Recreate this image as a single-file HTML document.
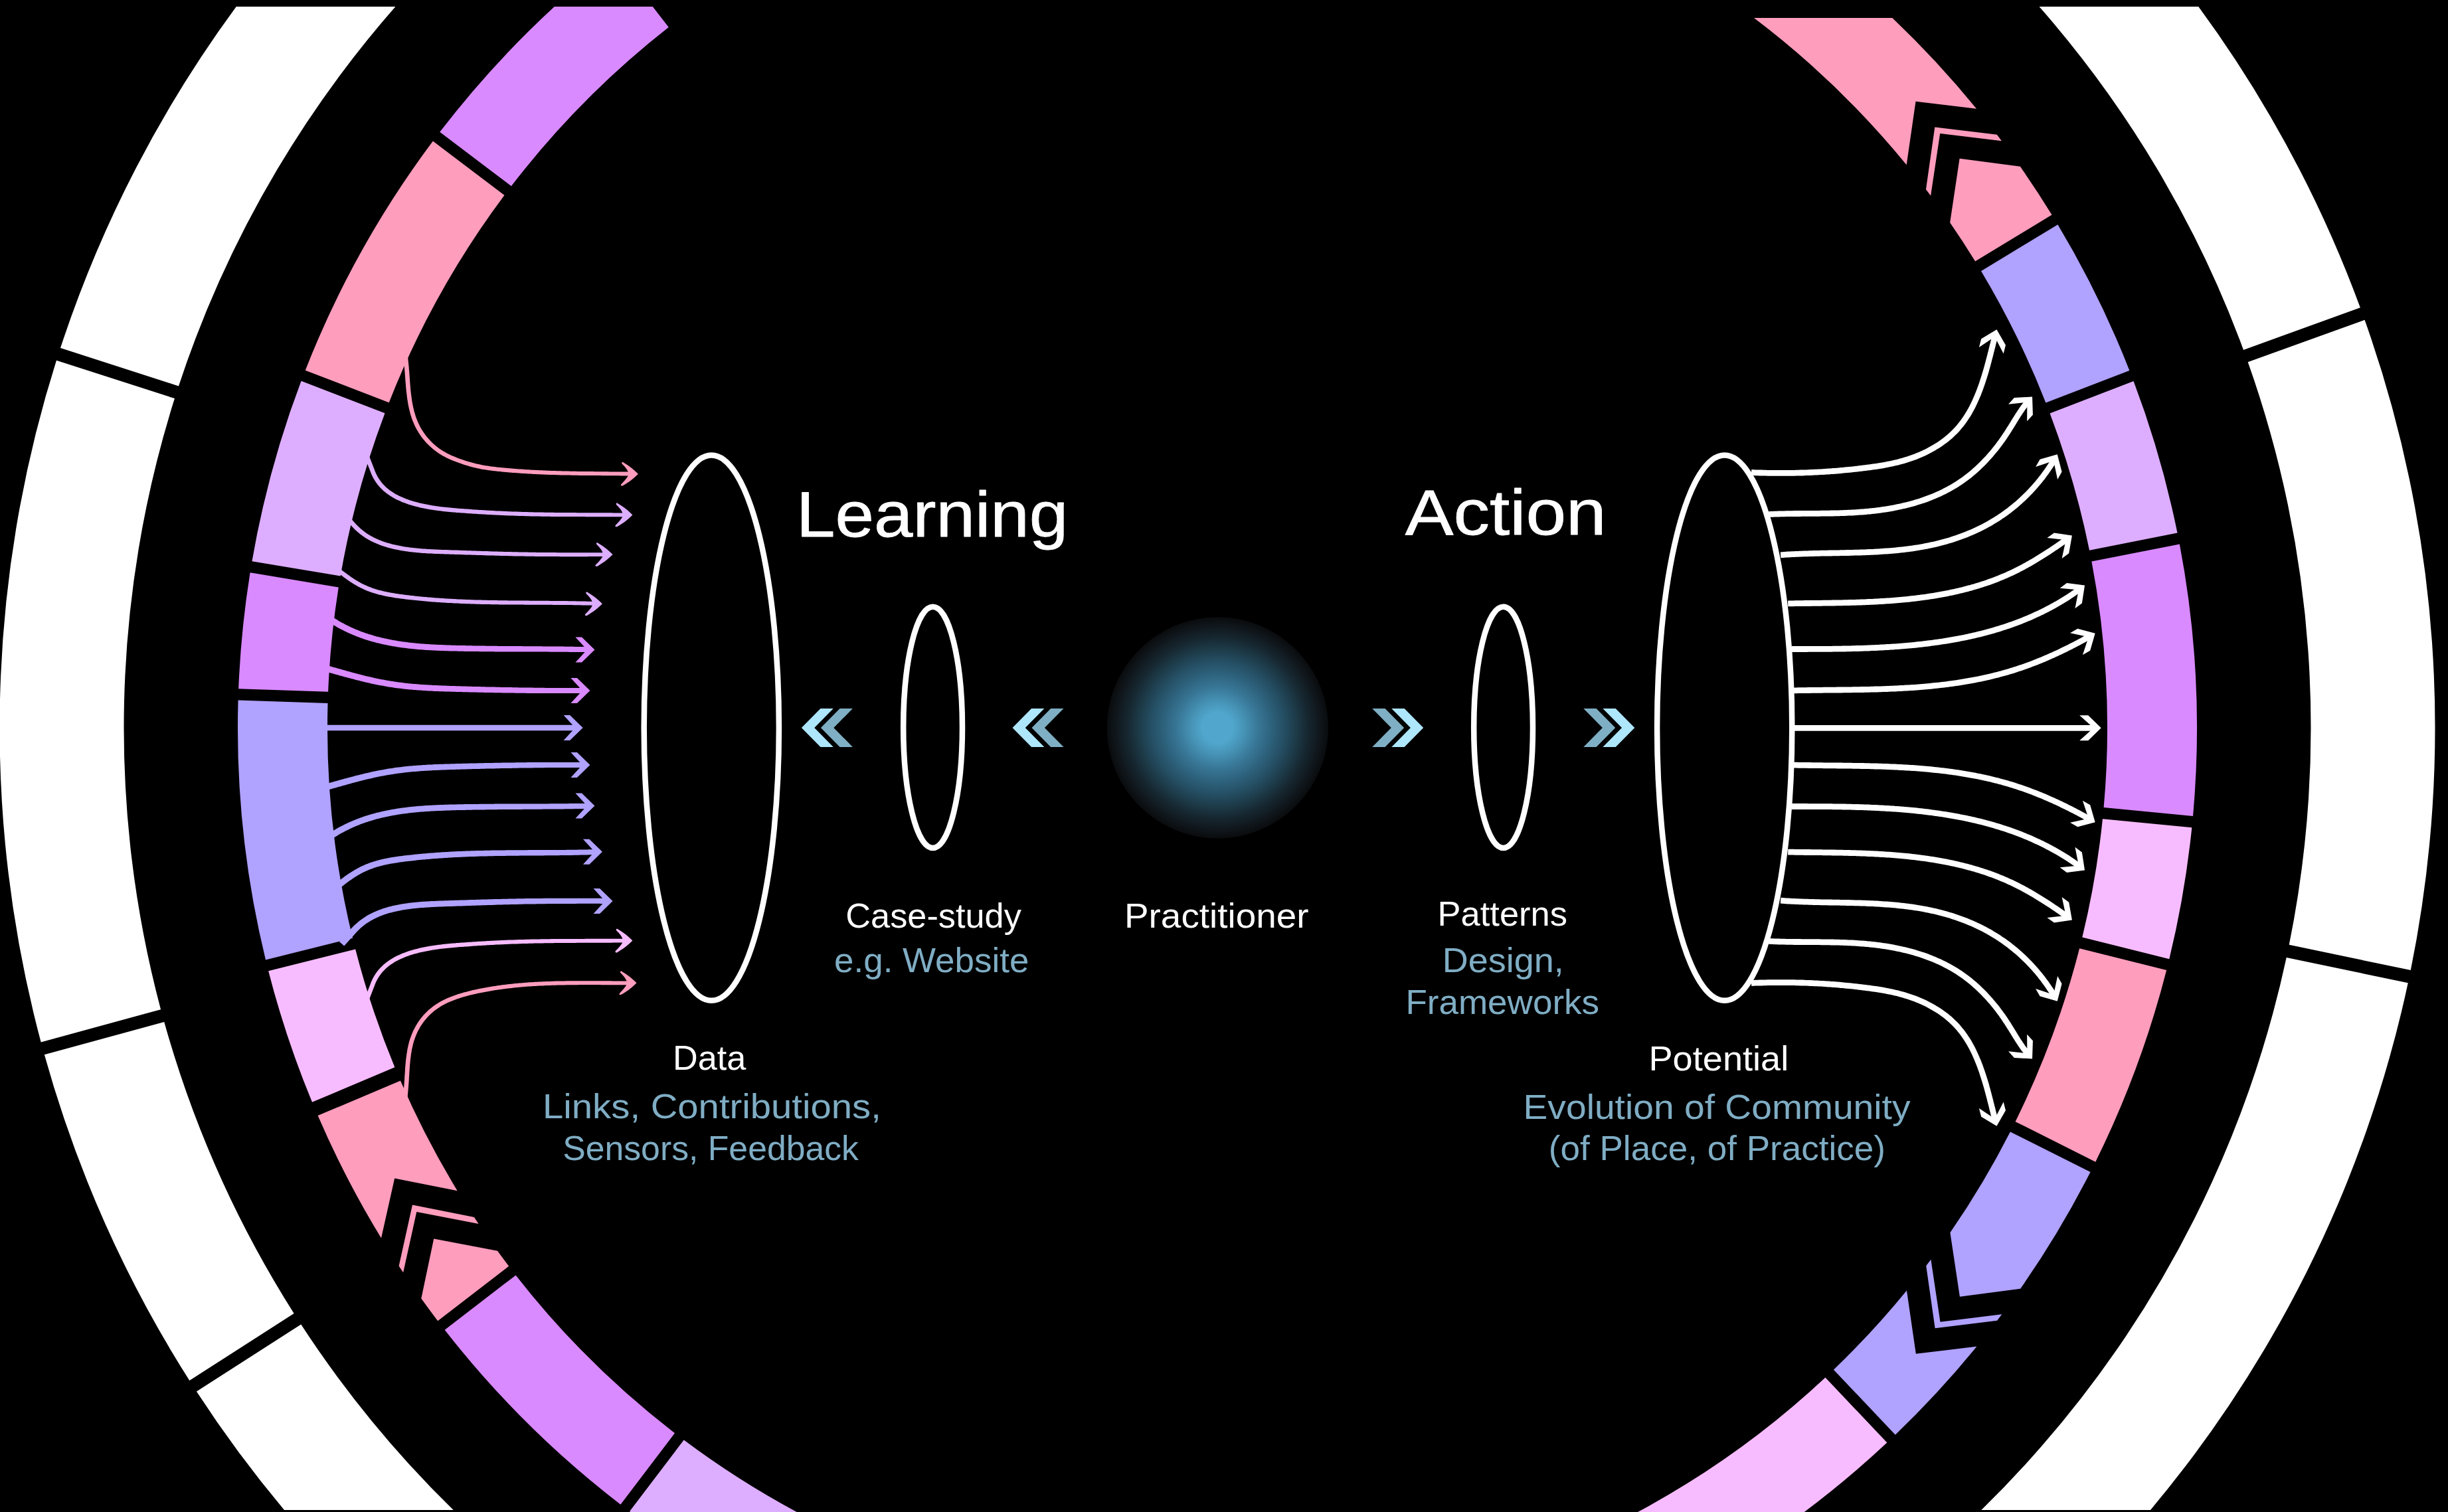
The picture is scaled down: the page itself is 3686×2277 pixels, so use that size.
<!DOCTYPE html>
<html><head><meta charset="utf-8"><style>html,body{margin:0;padding:0;background:#000;overflow:hidden}svg{display:block}</style></head>
<body><svg xmlns="http://www.w3.org/2000/svg" width="3686" height="2277" viewBox="0 0 3686 2277">
<defs><clipPath id="cw"><rect x="0" y="10" width="3686" height="2264"/></clipPath><clipPath id="cc"><rect x="0" y="10" width="3686" height="2277"/></clipPath><clipPath id="cr"><rect x="0" y="27" width="3686" height="2277"/></clipPath><radialGradient id="glow"><stop offset="0" stop-color="rgb(80,166,204)"/><stop offset="0.14" stop-color="rgb(80,166,204)"/><stop offset="0.24" stop-color="rgb(70,147,182)"/><stop offset="0.36" stop-color="rgb(57,120,152)"/><stop offset="0.48" stop-color="rgb(46,99,126)"/><stop offset="0.6" stop-color="rgb(37,79,100)"/><stop offset="0.71" stop-color="rgb(29,59,73)"/><stop offset="0.82" stop-color="rgb(22,38,47)"/><stop offset="0.92" stop-color="rgb(16,23,28)"/><stop offset="0.995" stop-color="rgb(10,12,14)"/><stop offset="1" stop-color="rgb(0,0,0)"/></radialGradient></defs>
<rect width="3686" height="2277" fill="#000"/>
<g clip-path="url(#cw)" fill="#fff"><path d="M1205.91 2818.93A1833.5 1833.5 0 0 1 295.93 2095.57L453.24 1994.46A1646.5 1646.5 0 0 0 1269.86 2643.2Z"/><path d="M285.33 2079.08A1833.5 1833.5 0 0 1 66.84 1588.33L247.24 1539.08A1646.5 1646.5 0 0 0 442.64 1977.97Z"/><path d="M61.68 1569.42A1833.5 1833.5 0 0 1 84.97 542.71L262.96 600.09A1646.5 1646.5 0 0 0 242.08 1520.17Z"/><path d="M90.99 524.06A1833.5 1833.5 0 0 1 781.35 -405.92L888.61 -252.73A1646.5 1646.5 0 0 0 268.97 581.44Z"/><path d="M2749.75 -491.86A1833.5 1833.5 0 0 1 3553.88 463.31L3378.02 526.9A1646.5 1646.5 0 0 0 2656.25 -329.91Z"/><path d="M3560.54 481.74A1833.5 1833.5 0 0 1 3629.8 1461.03L3446.74 1422.82A1646.5 1646.5 0 0 0 3384.69 545.33Z"/><path d="M3625.79 1480.22A1833.5 1833.5 0 0 1 2460.09 2818.93L2396.14 2643.2A1646.5 1646.5 0 0 0 3442.73 1442.01Z"/></g>
<g clip-path="url(#cc)">
<path d="M1328.52 2482.05A1475 1475 0 0 1 948.08 2276.06L1029.7 2168.53A1340 1340 0 0 0 1374.69 2355.19Z" fill="#DDAEFF"/>
<path d="M934.38 2265.66A1475 1475 0 0 1 669.64 2002.76L776.6 1920.39A1340 1340 0 0 0 1016 2158.13Z" fill="#D98AFF"/>
<path d="M659.15 1989.14A1475 1475 0 0 1 634.28 1955.47L653.21 1865.39L749.05 1883.82A1340 1340 0 0 0 766.11 1906.76Z" fill="#FF9DBD"/>
<path d="M720.52 1842.99L627.28 1825.06L607.15 1916.32A1475 1475 0 0 1 600.61 1906.45L620.97 1814.51L713.92 1833.06A1340 1340 0 0 0 720.52 1842.99Z" fill="#FF9DBD"/>
<path d="M574.01 1864.49A1475 1475 0 0 1 478.57 1680.07L602.93 1627.54A1340 1340 0 0 0 688.63 1793.15L594.15 1774.53Z" fill="#FF9DBD"/>
<path d="M470.01 1659.81A1475 1475 0 0 1 404.17 1462.17L535.14 1429.42A1340 1340 0 0 0 594.37 1607.28Z" fill="#F7BCFF"/>
<path d="M400 1445.48A1475 1475 0 0 1 358.59 1054.41L493.51 1059A1340 1340 0 0 0 530.97 1412.73Z" fill="#B0A2FF"/>
<path d="M359.17 1037.22A1475 1475 0 0 1 376.63 862.31L509.8 884.48A1340 1340 0 0 0 494.1 1041.81Z" fill="#D98AFF"/>
<path d="M379.45 845.35A1475 1475 0 0 1 453.55 573.76L579.52 622.29A1340 1340 0 0 0 512.62 867.51Z" fill="#DDAEFF"/>
<path d="M459.73 557.71A1475 1475 0 0 1 651.86 212.52L759.49 294.01A1340 1340 0 0 0 585.71 606.24Z" fill="#FF9DBD"/>
<path d="M662.24 198.81A1475 1475 0 0 1 924.21 -65.78L1006.77 41.04A1340 1340 0 0 0 769.87 280.3Z" fill="#D98AFF"/>
<path d="M3147.54 1765.04A1475 1475 0 0 1 3042.13 1940.76L2950.89 1952.86L2936.4 1856.33A1340 1340 0 0 0 3026.87 1704.51Z" fill="#B0A2FF"/>
<path d="M2907.38 1896.82L2921.47 1990.72L3014.23 1979.35A1475 1475 0 0 1 3007.1 1988.81L2913.62 2000.18L2900.21 1906.35A1340 1340 0 0 0 2907.38 1896.82Z" fill="#B0A2FF"/>
<path d="M2976.37 2027.84A1475 1475 0 0 1 2853.8 2160.7L2760.94 2062.71A1340 1340 0 0 0 2870.98 1943.46L2884.83 2038.76Z" fill="#B0A2FF"/>
<path d="M2841.32 2172.53A1475 1475 0 0 1 2214.76 2520.74L2179.82 2390.34A1340 1340 0 0 0 2748.45 2074.54Z" fill="#F7BCFF"/>
<path d="M3262.15 1460.92A1475 1475 0 0 1 3155.25 1749.67L3034.58 1689.13A1340 1340 0 0 0 3131.15 1428.29Z" fill="#FF9DBD"/>
<path d="M3300.33 1246.19A1475 1475 0 0 1 3266.3 1444.23L3135.31 1411.6A1340 1340 0 0 0 3165.96 1233.22Z" fill="#F7BCFF"/>
<path d="M3281.85 819.46A1475 1475 0 0 1 3301.99 1229.07L3167.61 1216.1A1340 1340 0 0 0 3149.39 845.55Z" fill="#D98AFF"/>
<path d="M3212.54 574A1475 1475 0 0 1 3278.52 802.59L3146.06 828.67A1340 1340 0 0 0 3086.56 622.51Z" fill="#DDAEFF"/>
<path d="M3098.44 338.17A1475 1475 0 0 1 3206.36 557.95L3080.38 606.46A1340 1340 0 0 0 2983.02 408.21Z" fill="#B0A2FF"/>
<path d="M3089.51 323.47A1475 1475 0 0 0 3041.84 250.82L2950.59 238.75L2936.14 335.28A1340 1340 0 0 1 2974.1 393.51Z" fill="#FF9DBD"/>
<path d="M2907.1 294.81L2921.16 200.9L3013.92 212.23A1475 1475 0 0 0 3006.79 202.78L2913.3 191.44L2899.93 285.28A1340 1340 0 0 1 2907.1 294.81Z" fill="#FF9DBD"/>
<path d="M2976.04 163.76A1475 1475 0 0 0 2214.76 -328.74L2179.82 -198.34A1340 1340 0 0 1 2870.69 248.17L2884.5 152.87Z" fill="#FF9DBD" clip-path="url(#cr)"/>
</g>
<path d="M605.6 521.6 L608.2 546.5 L608.5 549.2 L608.8 551.9 L609 554.6 L609.2 557.4 L609.5 560.2 L609.7 563 L609.9 565.8 L610.1 568.7 L610.3 571.5 L610.5 574.4 L610.8 577.3 L611 580.2 L611.2 583 L611.5 586 L611.8 588.9 L612.1 591.8 L612.5 594.7 L612.8 597.6 L613.2 600.5 L613.7 603.4 L614.1 606.3 L614.6 609.2 L615.2 612 L615.8 614.9 L616.5 617.7 L617.2 620.6 L617.9 623.4 L618.8 626.2 L619.7 628.9 L620.6 631.7 L621.7 634.4 L622.8 637.1 L623.9 639.8 L625.2 642.4 L626.5 645 L627.9 647.6 L629.4 650.1 L630.9 652.6 L632.6 655 L634.2 657.4 L636 659.7 L637.8 662 L639.7 664.2 L641.6 666.4 L643.6 668.6 L645.7 670.6 L647.8 672.6 L650 674.6 L652.3 676.5 L654.6 678.3 L656.9 680.1 L659.3 681.8 L661.8 683.4 L664.3 684.9 L666.8 686.4 L669.4 687.8 L672 689.2 L674.7 690.5 L677.4 691.7 L680.1 692.9 L682.8 694 L685.5 695.1 L688.2 696.1 L691 697.1 L693.7 698.1 L696.5 699 L699.3 699.9 L702 700.8 L704.8 701.6 L707.6 702.4 L710.4 703.2 L713.2 703.9 L716 704.6 L718.9 705.2 L721.7 705.8 L724.5 706.4 L727.4 706.9 L730.2 707.3 L733 707.8 L735.9 708.2 L738.7 708.6 L741.5 708.9 L744.4 709.2 L747.2 709.6 L750 709.9 L752.9 710.1 L755.7 710.4 L758.5 710.7 L761.4 711 L764.2 711.2 L767.1 711.5 L769.9 711.7 L772.7 711.9 L775.6 712.1 L778.4 712.3 L781.3 712.5 L784.1 712.7 L787 712.9 L789.8 713.1 L792.7 713.3 L795.5 713.5 L798.3 713.6 L801.2 713.8 L804.1 713.9 L806.9 714 L809.8 714.2 L812.6 714.3 L815.5 714.4 L818.3 714.5 L821.2 714.7 L824 714.8 L826.9 714.9 L829.7 715 L832.6 715 L835.4 715.1 L838.3 715.2 L841.2 715.3 L844 715.4 L846.9 715.4 L849.7 715.5 L852.6 715.5 L855.4 715.6 L858.3 715.6 L861.2 715.7 L864 715.7 L866.9 715.8 L869.7 715.8 L872.6 715.9 L875.4 715.9 L878.3 715.9 L881.2 716 L884 716 L886.9 716 L889.7 716 L892.6 716.1 L895.4 716.1 L898.3 716.1 L901.1 716.1 L904 716.1 L906.8 716.2 L909.7 716.2 L912.5 716.2 L915.4 716.2 L918.2 716.2 L921.1 716.3 L923.9 716.3 L926.8 716.3 L929.6 716.3 L932.5 716.3 L935.3 716.4 L938.1 716.4 L941 716.4 L943.8 716.4 L946.7 716.5 L948.8 716.5 L948.9 710.7 L946.7 710.6 L943.9 710.6 L941 710.6 L938.2 710.6 L935.4 710.5 L932.5 710.5 L929.7 710.5 L926.8 710.4 L924 710.4 L921.1 710.4 L918.3 710.4 L915.4 710.3 L912.6 710.3 L909.7 710.3 L906.9 710.3 L904 710.2 L901.2 710.2 L898.3 710.2 L895.5 710.2 L892.6 710.1 L889.8 710.1 L886.9 710.1 L884.1 710 L881.2 710 L878.4 710 L875.5 709.9 L872.7 709.9 L869.8 709.9 L867 709.8 L864.1 709.8 L861.3 709.7 L858.4 709.7 L855.6 709.6 L852.7 709.5 L849.9 709.5 L847 709.4 L844.2 709.3 L841.3 709.3 L838.5 709.2 L835.6 709.1 L832.8 709 L829.9 708.9 L827.1 708.8 L824.2 708.7 L821.4 708.6 L818.6 708.5 L815.7 708.3 L812.9 708.2 L810 708.1 L807.2 708 L804.4 707.8 L801.5 707.7 L798.7 707.5 L795.9 707.3 L793 707.2 L790.2 707 L787.4 706.8 L784.5 706.6 L781.7 706.4 L778.9 706.2 L776 706 L773.2 705.8 L770.4 705.5 L767.6 705.3 L764.8 705 L761.9 704.8 L759.1 704.5 L756.3 704.2 L753.5 704 L750.7 703.7 L747.9 703.4 L745.1 703 L742.3 702.7 L739.5 702.4 L736.7 702 L734 701.6 L731.2 701.2 L728.4 700.7 L725.7 700.2 L722.9 699.6 L720.2 699.1 L717.5 698.4 L714.7 697.8 L712 697.1 L709.3 696.3 L706.6 695.6 L703.9 694.8 L701.2 693.9 L698.5 693 L695.8 692.1 L693.1 691.2 L690.5 690.2 L687.8 689.2 L685.2 688.1 L682.6 687 L680 685.9 L677.4 684.7 L674.9 683.5 L672.4 682.2 L670 680.8 L667.6 679.4 L665.2 678 L662.9 676.5 L660.7 674.9 L658.5 673.2 L656.3 671.5 L654.3 669.7 L652.2 667.9 L650.2 666 L648.3 664.1 L646.4 662.1 L644.6 660 L642.8 657.9 L641.1 655.8 L639.5 653.6 L637.9 651.3 L636.4 649 L635 646.7 L633.6 644.4 L632.3 642 L631.1 639.5 L629.9 637.1 L628.8 634.6 L627.8 632 L626.8 629.5 L625.9 626.9 L625.1 624.2 L624.3 621.6 L623.5 618.9 L622.9 616.2 L622.2 613.5 L621.7 610.7 L621.1 607.9 L620.6 605.2 L620.2 602.4 L619.8 599.5 L619.4 596.7 L619 593.9 L618.7 591 L618.4 588.2 L618.1 585.3 L617.9 582.5 L617.6 579.6 L617.4 576.7 L617.2 573.9 L617 571 L616.8 568.2 L616.6 565.3 L616.4 562.5 L616.2 559.7 L615.9 556.9 L615.7 554.1 L615.5 551.3 L615.2 548.5 L614.9 545.8 L612.4 520.9Z" fill="#FF9DBD"/>
<path d="M0 0 C-6 -6 -13 -12 -22.5 -17.5 C-24.5 -18.6 -25.5 -16.5 -24 -15 C-19 -10 -16 -6 -15 -2.6 L-15 2.6 C-17 6.5 -21 11 -25.5 15.5 C-27 17.2 -25 18.8 -23 17.6 C-13 12 -6 6 0 0 Z" fill="#FF9DBD" transform="translate(960.88 713.73) rotate(0)"/>
<path d="M548.6 686.8 L557.7 710.1 L558.7 712.8 L559.9 715.5 L561.1 718.1 L562.4 720.6 L563.9 723 L565.3 725.3 L566.9 727.5 L568.5 729.7 L570.2 731.8 L572 733.8 L573.9 735.7 L575.8 737.6 L577.7 739.4 L579.7 741.1 L581.8 742.7 L583.9 744.3 L586.1 745.8 L588.3 747.2 L590.5 748.6 L592.8 749.9 L595.1 751.2 L597.5 752.4 L599.9 753.5 L602.3 754.6 L604.7 755.7 L607.2 756.7 L609.7 757.6 L612.2 758.5 L614.8 759.4 L617.3 760.2 L619.9 761 L622.4 761.7 L625 762.4 L627.6 763.1 L630.2 763.7 L632.8 764.4 L635.4 764.9 L638 765.5 L640.6 766 L643.2 766.5 L645.8 767 L648.4 767.4 L651 767.8 L653.6 768.2 L656.2 768.6 L658.8 768.9 L661.5 769.3 L664.1 769.6 L666.7 769.9 L669.3 770.2 L671.9 770.5 L674.5 770.7 L677.1 771 L679.7 771.2 L682.4 771.4 L685 771.6 L687.6 771.9 L690.2 772.1 L692.8 772.2 L695.4 772.4 L698 772.6 L700.6 772.8 L703.1 773 L705.7 773.2 L708.3 773.3 L710.9 773.5 L713.5 773.7 L716.1 773.8 L718.7 774 L721.3 774.2 L723.8 774.3 L726.4 774.5 L729 774.6 L731.6 774.8 L734.2 774.9 L736.8 775.1 L739.4 775.2 L741.9 775.3 L744.5 775.5 L747.1 775.6 L749.7 775.7 L752.3 775.8 L754.9 776 L757.5 776.1 L760.1 776.2 L762.7 776.3 L765.3 776.4 L767.8 776.5 L770.4 776.6 L773 776.6 L775.6 776.7 L778.2 776.8 L780.8 776.9 L783.4 777 L786 777 L788.6 777.1 L791.2 777.2 L793.8 777.2 L796.4 777.3 L799 777.4 L801.6 777.4 L804.2 777.5 L806.8 777.5 L809.4 777.6 L812 777.6 L814.6 777.7 L817.2 777.7 L819.8 777.7 L822.4 777.8 L825 777.8 L827.6 777.8 L830.2 777.9 L832.8 777.9 L835.4 777.9 L838.1 777.9 L840.7 778 L843.3 778 L845.9 778 L848.5 778 L851.1 778 L853.7 778.1 L856.3 778.1 L858.9 778.1 L861.5 778.1 L864.1 778.1 L866.7 778.1 L869.3 778.1 L871.9 778.1 L874.5 778.1 L877.1 778.1 L879.7 778.1 L882.3 778.2 L884.9 778.2 L887.5 778.2 L890.1 778.2 L892.7 778.2 L895.3 778.2 L897.9 778.2 L900.5 778.2 L903.1 778.2 L905.7 778.2 L908.3 778.2 L910.9 778.2 L913.5 778.2 L916.1 778.2 L918.7 778.2 L921.3 778.2 L923.9 778.2 L926.5 778.2 L929.1 778.2 L931.7 778.2 L934.3 778.2 L936.8 778.2 L939.4 778.2 L940.4 778.2 L940.4 772.4 L939.5 772.4 L936.9 772.4 L934.3 772.4 L931.7 772.4 L929.1 772.4 L926.5 772.4 L923.9 772.4 L921.3 772.3 L918.7 772.3 L916.1 772.3 L913.5 772.3 L910.9 772.3 L908.3 772.3 L905.7 772.3 L903.1 772.3 L900.5 772.3 L897.9 772.3 L895.3 772.3 L892.7 772.3 L890.1 772.2 L887.5 772.2 L884.9 772.2 L882.3 772.2 L879.7 772.2 L877.1 772.2 L874.5 772.2 L871.9 772.2 L869.3 772.2 L866.7 772.1 L864.1 772.1 L861.5 772.1 L858.9 772.1 L856.3 772.1 L853.7 772.1 L851.1 772 L848.5 772 L845.9 772 L843.3 772 L840.7 771.9 L838.1 771.9 L835.5 771.9 L832.9 771.8 L830.3 771.8 L827.7 771.8 L825.1 771.7 L822.5 771.7 L819.9 771.7 L817.3 771.6 L814.7 771.6 L812.1 771.5 L809.5 771.5 L806.9 771.4 L804.3 771.4 L801.8 771.3 L799.2 771.2 L796.6 771.2 L794 771.1 L791.4 771 L788.8 771 L786.2 770.9 L783.6 770.8 L781 770.7 L778.4 770.6 L775.8 770.6 L773.3 770.5 L770.7 770.4 L768.1 770.3 L765.5 770.2 L762.9 770.1 L760.3 770 L757.7 769.8 L755.2 769.7 L752.6 769.6 L750 769.5 L747.4 769.4 L744.8 769.2 L742.3 769.1 L739.7 768.9 L737.1 768.8 L734.5 768.7 L732 768.5 L729.4 768.3 L726.8 768.2 L724.2 768 L721.7 767.9 L719.1 767.7 L716.5 767.5 L713.9 767.4 L711.3 767.2 L708.8 767 L706.2 766.8 L703.6 766.6 L701 766.5 L698.4 766.3 L695.8 766.1 L693.2 765.9 L690.7 765.7 L688.1 765.5 L685.5 765.3 L682.9 765 L680.3 764.8 L677.7 764.6 L675.1 764.3 L672.6 764.1 L670 763.8 L667.4 763.5 L664.8 763.2 L662.3 762.9 L659.7 762.5 L657.1 762.2 L654.6 761.8 L652 761.4 L649.5 761 L646.9 760.6 L644.4 760.1 L641.8 759.6 L639.3 759.1 L636.8 758.6 L634.2 758 L631.7 757.4 L629.2 756.8 L626.7 756.1 L624.2 755.4 L621.7 754.7 L619.3 754 L616.8 753.2 L614.4 752.3 L612 751.5 L609.6 750.6 L607.3 749.6 L605 748.6 L602.7 747.6 L600.4 746.5 L598.2 745.3 L596 744.2 L593.9 742.9 L591.8 741.6 L589.8 740.3 L587.8 738.9 L585.8 737.4 L584 735.9 L582.1 734.4 L580.3 732.7 L578.6 731 L576.9 729.3 L575.3 727.5 L573.8 725.6 L572.3 723.6 L570.9 721.6 L569.6 719.5 L568.3 717.3 L567.1 715 L566 712.7 L564.9 710.3 L564 707.7 L555 684.4Z" fill="#DDAEFF"/>
<path d="M0 0 C-6 -6 -13 -12 -22.5 -17.5 C-24.5 -18.6 -25.5 -16.5 -24 -15 C-19 -10 -16 -6 -15 -2.6 L-15 2.6 C-17 6.5 -21 11 -25.5 15.5 C-27 17.2 -25 18.8 -23 17.6 C-13 12 -6 6 0 0 Z" fill="#DDAEFF" transform="translate(952.4 775.38) rotate(0)"/>
<path d="M512.1 772.9 L528.8 791.5 L530.6 793.5 L532.5 795.5 L534.4 797.4 L536.4 799.3 L538.4 801 L540.4 802.7 L542.5 804.4 L544.6 806 L546.7 807.5 L548.8 809 L551 810.4 L553.2 811.7 L555.4 813 L557.6 814.2 L559.9 815.4 L562.2 816.5 L564.5 817.6 L566.9 818.6 L569.2 819.6 L571.6 820.5 L574 821.4 L576.4 822.2 L578.8 823 L581.2 823.8 L583.6 824.5 L586.1 825.2 L588.6 825.8 L591 826.4 L593.5 827 L596 827.5 L598.5 828 L601 828.5 L603.5 829 L606.1 829.4 L608.6 829.8 L611.1 830.2 L613.7 830.5 L616.2 830.9 L618.7 831.2 L621.3 831.5 L623.8 831.8 L626.4 832 L629 832.2 L631.5 832.5 L634.1 832.7 L636.6 832.9 L639.2 833 L641.8 833.2 L644.3 833.4 L646.9 833.5 L649.5 833.6 L652.1 833.7 L654.6 833.9 L657.2 834 L659.8 834.1 L662.3 834.2 L664.9 834.2 L667.4 834.3 L670 834.4 L672.6 834.5 L675.1 834.6 L677.7 834.7 L680.2 834.7 L682.8 834.8 L685.3 834.9 L687.8 835 L690.4 835.1 L692.9 835.1 L695.5 835.2 L698 835.3 L700.5 835.4 L703 835.5 L705.6 835.5 L708.1 835.6 L710.6 835.7 L713.1 835.8 L715.7 835.8 L718.2 835.9 L720.7 836 L723.2 836.1 L725.8 836.1 L728.3 836.2 L730.8 836.3 L733.3 836.4 L735.8 836.4 L738.3 836.5 L740.8 836.6 L743.4 836.6 L745.9 836.7 L748.4 836.8 L750.9 836.8 L753.4 836.9 L755.9 837 L758.4 837 L760.9 837.1 L763.5 837.1 L766 837.2 L768.5 837.3 L771 837.3 L773.5 837.4 L776 837.4 L778.5 837.5 L781 837.5 L783.6 837.5 L786.1 837.6 L788.6 837.6 L791.1 837.7 L793.6 837.7 L796.1 837.7 L798.7 837.8 L801.2 837.8 L803.7 837.8 L806.2 837.9 L808.7 837.9 L811.3 837.9 L813.8 838 L816.3 838 L818.8 838 L821.4 838 L823.9 838 L826.4 838.1 L828.9 838.1 L831.5 838.1 L834 838.1 L836.5 838.1 L839 838.1 L841.6 838.1 L844.1 838.2 L846.6 838.2 L849.1 838.2 L851.7 838.2 L854.2 838.2 L856.7 838.2 L859.3 838.2 L861.8 838.2 L864.3 838.2 L866.8 838.2 L869.4 838.2 L871.9 838.2 L874.4 838.2 L877 838.2 L879.5 838.2 L882 838.2 L884.6 838.2 L887.1 838.1 L889.6 838.1 L892.2 838.1 L894.7 838.1 L897.2 838.1 L899.7 838.1 L902.3 838.1 L904.8 838.1 L907.3 838.1 L909.9 838 L910.5 838 L910.5 832.2 L909.8 832.2 L907.3 832.2 L904.8 832.3 L902.3 832.3 L899.7 832.3 L897.2 832.3 L894.7 832.3 L892.1 832.3 L889.6 832.3 L887.1 832.3 L884.5 832.3 L882 832.3 L879.5 832.3 L877 832.3 L874.4 832.3 L871.9 832.3 L869.4 832.3 L866.9 832.3 L864.3 832.3 L861.8 832.3 L859.3 832.3 L856.7 832.3 L854.2 832.2 L851.7 832.2 L849.2 832.2 L846.6 832.2 L844.1 832.2 L841.6 832.2 L839.1 832.2 L836.5 832.1 L834 832.1 L831.5 832.1 L829 832.1 L826.5 832.1 L823.9 832 L821.4 832 L818.9 832 L816.4 832 L813.9 831.9 L811.3 831.9 L808.8 831.9 L806.3 831.8 L803.8 831.8 L801.3 831.8 L798.8 831.7 L796.2 831.7 L793.7 831.6 L791.2 831.6 L788.7 831.5 L786.2 831.5 L783.7 831.4 L781.2 831.4 L778.7 831.3 L776.1 831.3 L773.6 831.2 L771.1 831.2 L768.6 831.1 L766.1 831.1 L763.6 831 L761.1 830.9 L758.6 830.9 L756.1 830.8 L753.6 830.7 L751.1 830.7 L748.5 830.6 L746 830.5 L743.5 830.4 L741 830.4 L738.5 830.3 L736 830.2 L733.5 830.1 L731 830.1 L728.5 830 L725.9 829.9 L723.4 829.8 L720.9 829.7 L718.4 829.7 L715.9 829.6 L713.3 829.5 L710.8 829.4 L708.3 829.3 L705.8 829.2 L703.3 829.2 L700.7 829.1 L698.2 829 L695.7 828.9 L693.1 828.8 L690.6 828.7 L688.1 828.6 L685.5 828.6 L683 828.5 L680.4 828.4 L677.9 828.3 L675.3 828.2 L672.8 828.1 L670.2 828 L667.7 827.9 L665.1 827.9 L662.6 827.8 L660 827.7 L657.5 827.6 L654.9 827.4 L652.4 827.3 L649.8 827.2 L647.3 827.1 L644.7 826.9 L642.2 826.8 L639.6 826.6 L637.1 826.4 L634.6 826.2 L632.1 826 L629.5 825.8 L627 825.6 L624.5 825.3 L622 825 L619.5 824.7 L617 824.4 L614.5 824.1 L612.1 823.7 L609.6 823.4 L607.1 823 L604.7 822.5 L602.2 822.1 L599.8 821.6 L597.4 821.1 L595 820.6 L592.6 820 L590.2 819.4 L587.8 818.8 L585.5 818.1 L583.1 817.5 L580.8 816.7 L578.5 816 L576.2 815.2 L573.9 814.3 L571.7 813.4 L569.5 812.5 L567.3 811.5 L565.1 810.5 L562.9 809.4 L560.8 808.3 L558.7 807.2 L556.6 806 L554.5 804.7 L552.5 803.4 L550.5 802 L548.5 800.6 L546.6 799.1 L544.7 797.6 L542.8 796 L541 794.3 L539.1 792.6 L537.4 790.8 L535.6 788.9 L533.9 787 L517.2 768.3Z" fill="#DDAEFF"/>
<path d="M0 0 C-6 -6 -13 -12 -22.5 -17.5 C-24.5 -18.6 -25.5 -16.5 -24 -15 C-19 -10 -16 -6 -15 -2.6 L-15 2.6 C-17 6.5 -21 11 -25.5 15.5 C-27 17.2 -25 18.8 -23 17.6 C-13 12 -6 6 0 0 Z" fill="#DDAEFF" transform="translate(922.52 835.07) rotate(0)"/>
<path d="M491.6 849.2 L511.4 864.5 L513.4 866.1 L515.5 867.6 L517.6 869.2 L519.7 870.7 L521.8 872.3 L523.9 873.8 L526.1 875.2 L528.2 876.7 L530.4 878.1 L532.6 879.5 L534.9 880.8 L537.1 882.1 L539.4 883.4 L541.7 884.6 L544 885.7 L546.3 886.8 L548.7 887.9 L551.1 888.9 L553.4 889.9 L555.8 890.8 L558.2 891.7 L560.7 892.5 L563.1 893.3 L565.6 894 L568 894.7 L570.5 895.4 L573 896 L575.4 896.6 L577.9 897.2 L580.4 897.7 L582.9 898.2 L585.4 898.7 L588 899.1 L590.5 899.6 L593 900 L595.5 900.4 L598.1 900.7 L600.6 901.1 L603.1 901.4 L605.7 901.8 L608.2 902.1 L610.7 902.4 L613.3 902.7 L615.8 903 L618.3 903.3 L620.8 903.6 L623.4 903.8 L625.9 904.1 L628.4 904.3 L631 904.6 L633.5 904.8 L636 905.1 L638.6 905.3 L641.1 905.5 L643.6 905.7 L646.2 906 L648.7 906.2 L651.2 906.4 L653.8 906.5 L656.3 906.7 L658.8 906.9 L661.3 907.1 L663.9 907.3 L666.4 907.4 L668.9 907.6 L671.5 907.7 L674 907.9 L676.5 908 L679.1 908.1 L681.6 908.3 L684.1 908.4 L686.7 908.5 L689.2 908.6 L691.7 908.8 L694.3 908.9 L696.8 909 L699.3 909.1 L701.9 909.2 L704.4 909.3 L706.9 909.3 L709.5 909.4 L712 909.5 L714.5 909.6 L717.1 909.7 L719.6 909.7 L722.1 909.8 L724.7 909.9 L727.2 909.9 L729.7 910 L732.3 910 L734.8 910.1 L737.3 910.1 L739.9 910.2 L742.4 910.2 L744.9 910.2 L747.5 910.3 L750 910.3 L752.5 910.4 L755.1 910.4 L757.6 910.4 L760.1 910.4 L762.7 910.5 L765.2 910.5 L767.7 910.5 L770.3 910.5 L772.8 910.6 L775.3 910.6 L777.9 910.6 L780.4 910.6 L782.9 910.6 L785.4 910.6 L788 910.6 L790.5 910.7 L793 910.7 L795.6 910.7 L798.1 910.7 L800.6 910.7 L803.2 910.7 L805.7 910.7 L808.2 910.7 L810.8 910.7 L813.3 910.8 L815.8 910.8 L818.4 910.8 L820.9 910.8 L823.4 910.8 L825.9 910.8 L828.5 910.8 L831 910.8 L833.5 910.9 L836.1 910.9 L838.6 910.9 L841.1 910.9 L843.6 910.9 L846.2 911 L848.7 911 L851.2 911 L853.8 911 L856.3 911.1 L858.8 911.1 L861.3 911.1 L863.9 911.2 L866.4 911.2 L868.9 911.2 L871.4 911.3 L874 911.3 L876.5 911.4 L879 911.4 L881.5 911.5 L884.1 911.5 L886.6 911.6 L889.1 911.6 L891.6 911.7 L894.2 911.8 L894.8 911.8 L895 906 L894.3 906 L891.8 905.9 L889.3 905.8 L886.7 905.8 L884.2 905.7 L881.7 905.6 L879.1 905.6 L876.6 905.5 L874.1 905.5 L871.6 905.4 L869 905.4 L866.5 905.3 L864 905.3 L861.4 905.2 L858.9 905.2 L856.4 905.2 L853.8 905.1 L851.3 905.1 L848.8 905.1 L846.2 905 L843.7 905 L841.2 905 L838.6 905 L836.1 904.9 L833.6 904.9 L831 904.9 L828.5 904.9 L826 904.8 L823.4 904.8 L820.9 904.8 L818.4 904.8 L815.9 904.8 L813.3 904.8 L810.8 904.7 L808.3 904.7 L805.7 904.7 L803.2 904.7 L800.7 904.7 L798.1 904.7 L795.6 904.6 L793.1 904.6 L790.5 904.6 L788 904.6 L785.5 904.6 L783 904.5 L780.4 904.5 L777.9 904.5 L775.4 904.5 L772.8 904.5 L770.3 904.4 L767.8 904.4 L765.3 904.4 L762.7 904.3 L760.2 904.3 L757.7 904.3 L755.1 904.2 L752.6 904.2 L750.1 904.2 L747.6 904.1 L745 904.1 L742.5 904 L740 904 L737.5 903.9 L734.9 903.9 L732.4 903.8 L729.9 903.8 L727.3 903.7 L724.8 903.6 L722.3 903.6 L719.8 903.5 L717.2 903.4 L714.7 903.4 L712.2 903.3 L709.7 903.2 L707.2 903.1 L704.6 903 L702.1 902.9 L699.6 902.8 L697.1 902.7 L694.5 902.6 L692 902.5 L689.5 902.4 L687 902.2 L684.5 902.1 L681.9 902 L679.4 901.8 L676.9 901.7 L674.4 901.5 L671.9 901.4 L669.3 901.2 L666.8 901.1 L664.3 900.9 L661.8 900.7 L659.3 900.6 L656.7 900.4 L654.2 900.2 L651.7 900 L649.2 899.8 L646.7 899.6 L644.2 899.4 L641.7 899.1 L639.1 898.9 L636.6 898.7 L634.1 898.4 L631.6 898.2 L629.1 897.9 L626.6 897.7 L624.1 897.4 L621.5 897.1 L619 896.9 L616.5 896.6 L614 896.3 L611.5 896 L609 895.7 L606.5 895.3 L604 895 L601.5 894.7 L599 894.3 L596.5 893.9 L594 893.5 L591.6 893.1 L589.1 892.7 L586.7 892.2 L584.2 891.8 L581.8 891.3 L579.4 890.8 L576.9 890.2 L574.5 889.6 L572.2 889 L569.8 888.4 L567.4 887.7 L565.1 887 L562.7 886.2 L560.4 885.4 L558.1 884.6 L555.9 883.7 L553.6 882.8 L551.4 881.8 L549.1 880.8 L546.9 879.8 L544.7 878.7 L542.6 877.5 L540.4 876.3 L538.3 875.1 L536.1 873.8 L534 872.4 L531.9 871.1 L529.8 869.7 L527.7 868.3 L525.7 866.8 L523.6 865.3 L521.6 863.8 L519.5 862.3 L517.5 860.7 L515.5 859.2 L495.7 843.8Z" fill="#DDAEFF"/>
<path d="M0 0 C-6 -6 -13 -12 -22.5 -17.5 C-24.5 -18.6 -25.5 -16.5 -24 -15 C-19 -10 -16 -6 -15 -2.6 L-15 2.6 C-17 6.5 -21 11 -25.5 15.5 C-27 17.2 -25 18.8 -23 17.6 C-13 12 -6 6 0 0 Z" fill="#DDAEFF" transform="translate(906.89 909.29) rotate(0)"/>
<path d="M479.3 927.4 L500.7 940.4 L503 941.7 L505.2 943.1 L507.5 944.4 L509.8 945.7 L512.1 946.9 L514.4 948.1 L516.7 949.3 L519 950.5 L521.4 951.6 L523.7 952.7 L526 953.8 L528.4 954.8 L530.7 955.8 L533.1 956.8 L535.5 957.8 L537.9 958.7 L540.2 959.6 L542.6 960.5 L545 961.3 L547.4 962.2 L549.8 963 L552.2 963.7 L554.7 964.5 L557.1 965.2 L559.5 965.9 L561.9 966.6 L564.4 967.3 L566.8 967.9 L569.3 968.5 L571.7 969.1 L574.2 969.7 L576.6 970.3 L579.1 970.8 L581.6 971.3 L584 971.8 L586.5 972.3 L589 972.8 L591.5 973.2 L594 973.6 L596.4 974 L598.9 974.4 L601.4 974.8 L603.9 975.2 L606.4 975.5 L608.9 975.8 L611.4 976.1 L613.9 976.4 L616.5 976.7 L619 977 L621.5 977.2 L624 977.5 L626.5 977.7 L629 977.9 L631.6 978.2 L634.1 978.3 L636.6 978.5 L639.1 978.7 L641.7 978.9 L644.2 979 L646.7 979.2 L649.2 979.3 L651.8 979.5 L654.3 979.6 L656.8 979.7 L659.4 979.8 L661.9 979.9 L664.4 980 L667 980.1 L669.5 980.2 L672 980.2 L674.5 980.3 L677.1 980.4 L679.6 980.4 L682.1 980.5 L684.7 980.6 L687.2 980.6 L689.7 980.7 L692.2 980.7 L694.8 980.8 L697.3 980.8 L699.8 980.9 L702.3 980.9 L704.8 980.9 L707.4 981 L709.9 981 L712.4 981 L714.9 981.1 L717.4 981.1 L720 981.1 L722.5 981.2 L725 981.2 L727.5 981.2 L730 981.2 L732.5 981.3 L735 981.3 L737.6 981.3 L740.1 981.3 L742.6 981.3 L745.1 981.4 L747.6 981.4 L750.1 981.4 L752.6 981.4 L755.1 981.4 L757.6 981.4 L760.2 981.4 L762.7 981.4 L765.2 981.5 L767.7 981.5 L770.2 981.5 L772.7 981.5 L775.2 981.5 L777.7 981.5 L780.2 981.5 L782.7 981.5 L785.2 981.5 L787.7 981.5 L790.2 981.5 L792.7 981.5 L795.2 981.5 L797.8 981.6 L800.3 981.6 L802.8 981.6 L805.3 981.6 L807.8 981.6 L810.3 981.6 L812.8 981.6 L815.3 981.6 L817.8 981.6 L820.3 981.6 L822.8 981.6 L825.3 981.6 L827.8 981.7 L830.3 981.7 L832.8 981.7 L835.3 981.7 L837.8 981.7 L840.3 981.7 L842.8 981.7 L845.3 981.8 L847.8 981.8 L850.3 981.8 L852.8 981.8 L855.3 981.8 L857.8 981.9 L860.3 981.9 L862.8 981.9 L865.3 981.9 L867.8 982 L870.3 982 L872.8 982 L875.3 982.1 L877.8 982.1 L880.4 982.1 L882.9 982.2 L883.4 982.2 L883.5 974.2 L883 974.2 L880.5 974.1 L878 974.1 L875.5 974 L873 974 L870.5 973.9 L867.9 973.9 L865.4 973.9 L862.9 973.8 L860.4 973.8 L857.9 973.8 L855.4 973.7 L852.9 973.7 L850.4 973.7 L847.9 973.6 L845.4 973.6 L842.9 973.6 L840.4 973.6 L837.9 973.5 L835.4 973.5 L832.9 973.5 L830.4 973.5 L827.8 973.4 L825.3 973.4 L822.8 973.4 L820.3 973.4 L817.8 973.4 L815.3 973.3 L812.8 973.3 L810.3 973.3 L807.8 973.3 L805.3 973.3 L802.8 973.3 L800.3 973.2 L797.8 973.2 L795.3 973.2 L792.8 973.2 L790.3 973.2 L787.8 973.2 L785.3 973.1 L782.8 973.1 L780.3 973.1 L777.7 973.1 L775.2 973.1 L772.7 973.1 L770.2 973 L767.7 973 L765.2 973 L762.7 973 L760.2 973 L757.7 972.9 L755.2 972.9 L752.7 972.9 L750.2 972.9 L747.7 972.8 L745.2 972.8 L742.7 972.8 L740.1 972.8 L737.6 972.7 L735.1 972.7 L732.6 972.7 L730.1 972.6 L727.6 972.6 L725.1 972.6 L722.6 972.5 L720.1 972.5 L717.6 972.5 L715 972.4 L712.5 972.4 L710 972.3 L707.5 972.3 L705 972.2 L702.5 972.2 L700 972.1 L697.4 972.1 L694.9 972 L692.4 972 L689.9 971.9 L687.4 971.9 L684.9 971.8 L682.4 971.7 L679.8 971.7 L677.3 971.6 L674.8 971.5 L672.3 971.4 L669.8 971.3 L667.3 971.2 L664.8 971.1 L662.3 971 L659.7 970.9 L657.2 970.8 L654.7 970.7 L652.2 970.6 L649.7 970.4 L647.2 970.3 L644.7 970.1 L642.2 970 L639.8 969.8 L637.3 969.6 L634.8 969.4 L632.3 969.2 L629.8 969 L627.3 968.8 L624.9 968.5 L622.4 968.3 L619.9 968 L617.5 967.7 L615 967.4 L612.6 967.1 L610.1 966.8 L607.7 966.5 L605.2 966.2 L602.8 965.8 L600.3 965.4 L597.9 965 L595.5 964.6 L593.1 964.2 L590.6 963.8 L588.2 963.3 L585.8 962.8 L583.4 962.3 L581 961.8 L578.6 961.3 L576.3 960.8 L573.9 960.2 L571.5 959.6 L569.1 959 L566.8 958.4 L564.4 957.7 L562.1 957 L559.7 956.3 L557.4 955.6 L555.1 954.9 L552.7 954.1 L550.4 953.4 L548.1 952.6 L545.8 951.7 L543.5 950.9 L541.2 950 L539 949.1 L536.7 948.2 L534.4 947.2 L532.2 946.2 L529.9 945.2 L527.7 944.2 L525.4 943.1 L523.2 942 L521 940.9 L518.8 939.8 L516.6 938.6 L514.4 937.4 L512.2 936.2 L510 934.9 L507.9 933.6 L505.7 932.3 L484.3 919.2Z" fill="#D98AFF"/>
<path d="M0 0 L-19.5 -19 L-29 -19 L-12.5 -1 L-12.5 1 L-29 19 L-19.5 19 Z" fill="#D98AFF" transform="translate(895.46 978.41) rotate(0)"/>
<path d="M471.2 1006 L495.3 1012.7 L497.7 1013.4 L500 1014.1 L502.4 1014.7 L504.8 1015.4 L507.2 1016.1 L509.6 1016.7 L512 1017.4 L514.4 1018.1 L516.8 1018.7 L519.2 1019.4 L521.7 1020 L524.1 1020.7 L526.5 1021.3 L528.9 1022 L531.3 1022.6 L533.7 1023.3 L536.1 1023.9 L538.6 1024.5 L541 1025.1 L543.4 1025.7 L545.9 1026.3 L548.3 1026.9 L550.7 1027.5 L553.2 1028.1 L555.6 1028.6 L558.1 1029.2 L560.5 1029.7 L562.9 1030.2 L565.4 1030.7 L567.8 1031.2 L570.3 1031.7 L572.8 1032.2 L575.2 1032.6 L577.7 1033.1 L580.2 1033.5 L582.6 1034 L585.1 1034.4 L587.6 1034.8 L590 1035.1 L592.5 1035.5 L595 1035.9 L597.5 1036.2 L599.9 1036.5 L602.4 1036.8 L604.9 1037.1 L607.4 1037.4 L609.9 1037.7 L612.4 1037.9 L614.9 1038.2 L617.3 1038.4 L619.8 1038.6 L622.3 1038.9 L624.8 1039.1 L627.3 1039.3 L629.8 1039.5 L632.3 1039.6 L634.8 1039.8 L637.3 1040 L639.8 1040.1 L642.3 1040.2 L644.7 1040.4 L647.2 1040.5 L649.7 1040.6 L652.2 1040.8 L654.7 1040.9 L657.2 1041 L659.7 1041.1 L662.2 1041.2 L664.7 1041.2 L667.2 1041.3 L669.7 1041.4 L672.2 1041.5 L674.7 1041.6 L677.2 1041.6 L679.6 1041.7 L682.1 1041.8 L684.6 1041.8 L687.1 1041.9 L689.6 1042 L692.1 1042 L694.6 1042.1 L697.1 1042.2 L699.5 1042.2 L702 1042.3 L704.5 1042.3 L707 1042.4 L709.5 1042.4 L712 1042.5 L714.5 1042.6 L717 1042.6 L719.4 1042.7 L721.9 1042.7 L724.4 1042.8 L726.9 1042.8 L729.4 1042.9 L731.9 1042.9 L734.3 1043 L736.8 1043 L739.3 1043.1 L741.8 1043.1 L744.3 1043.2 L746.8 1043.2 L749.3 1043.3 L751.7 1043.3 L754.2 1043.3 L756.7 1043.4 L759.2 1043.4 L761.7 1043.5 L764.2 1043.5 L766.6 1043.5 L769.1 1043.6 L771.6 1043.6 L774.1 1043.6 L776.6 1043.7 L779.1 1043.7 L781.6 1043.7 L784 1043.8 L786.5 1043.8 L789 1043.8 L791.5 1043.8 L794 1043.9 L796.5 1043.9 L798.9 1043.9 L801.4 1043.9 L803.9 1044 L806.4 1044 L808.9 1044 L811.4 1044 L813.8 1044 L816.3 1044 L818.8 1044.1 L821.3 1044.1 L823.8 1044.1 L826.3 1044.1 L828.8 1044.1 L831.2 1044.1 L833.7 1044.1 L836.2 1044.1 L838.7 1044.1 L841.2 1044.1 L843.7 1044.1 L846.2 1044.1 L848.6 1044.1 L851.1 1044.1 L853.6 1044.1 L856.1 1044.1 L858.6 1044.1 L861.1 1044.1 L863.6 1044.1 L866 1044.1 L868.5 1044.1 L871 1044.1 L873.5 1044.1 L876 1044 L876.4 1044 L876.4 1036 L876 1036 L873.5 1036 L871 1036 L868.5 1036.1 L866 1036.1 L863.5 1036.1 L861.1 1036.1 L858.6 1036.1 L856.1 1036 L853.6 1036 L851.1 1036 L848.7 1036 L846.2 1036 L843.7 1036 L841.2 1036 L838.7 1036 L836.2 1036 L833.8 1036 L831.3 1035.9 L828.8 1035.9 L826.3 1035.9 L823.8 1035.9 L821.4 1035.9 L818.9 1035.8 L816.4 1035.8 L813.9 1035.8 L811.4 1035.8 L809 1035.7 L806.5 1035.7 L804 1035.7 L801.5 1035.6 L799 1035.6 L796.6 1035.6 L794.1 1035.5 L791.6 1035.5 L789.1 1035.5 L786.6 1035.4 L784.2 1035.4 L781.7 1035.4 L779.2 1035.3 L776.7 1035.3 L774.2 1035.2 L771.8 1035.2 L769.3 1035.1 L766.8 1035.1 L764.3 1035.1 L761.8 1035 L759.3 1035 L756.9 1034.9 L754.4 1034.9 L751.9 1034.8 L749.4 1034.8 L746.9 1034.7 L744.5 1034.6 L742 1034.6 L739.5 1034.5 L737 1034.5 L734.5 1034.4 L732.1 1034.4 L729.6 1034.3 L727.1 1034.2 L724.6 1034.2 L722.1 1034.1 L719.6 1034.1 L717.2 1034 L714.7 1033.9 L712.2 1033.9 L709.7 1033.8 L707.2 1033.7 L704.7 1033.7 L702.3 1033.6 L699.8 1033.5 L697.3 1033.5 L694.8 1033.4 L692.3 1033.3 L689.8 1033.2 L687.4 1033.2 L684.9 1033.1 L682.4 1033 L679.9 1032.9 L677.4 1032.9 L674.9 1032.8 L672.5 1032.7 L670 1032.6 L667.5 1032.5 L665 1032.4 L662.5 1032.3 L660.1 1032.2 L657.6 1032.1 L655.1 1032 L652.6 1031.9 L650.2 1031.8 L647.7 1031.6 L645.2 1031.5 L642.8 1031.3 L640.3 1031.2 L637.8 1031 L635.4 1030.9 L632.9 1030.7 L630.5 1030.5 L628 1030.3 L625.5 1030.1 L623.1 1029.9 L620.6 1029.7 L618.2 1029.4 L615.7 1029.2 L613.3 1029 L610.9 1028.7 L608.4 1028.4 L606 1028.1 L603.5 1027.8 L601.1 1027.5 L598.7 1027.2 L596.3 1026.8 L593.8 1026.5 L591.4 1026.1 L589 1025.7 L586.6 1025.3 L584.2 1024.9 L581.7 1024.5 L579.3 1024.1 L576.9 1023.6 L574.5 1023.2 L572.1 1022.7 L569.7 1022.2 L567.3 1021.7 L564.9 1021.2 L562.5 1020.7 L560.1 1020.1 L557.7 1019.6 L555.3 1019 L552.9 1018.5 L550.5 1017.9 L548.1 1017.3 L545.7 1016.7 L543.3 1016.1 L540.9 1015.5 L538.5 1014.8 L536.1 1014.2 L533.7 1013.6 L531.3 1012.9 L528.9 1012.3 L526.5 1011.6 L524.1 1011 L521.7 1010.3 L519.4 1009.6 L517 1009 L514.6 1008.3 L512.2 1007.6 L509.8 1007 L507.4 1006.3 L505 1005.6 L502.6 1004.9 L500.2 1004.2 L497.8 1003.6 L473.8 996.8Z" fill="#D98AFF"/>
<path d="M0 0 L-19.5 -19 L-29 -19 L-12.5 -1 L-12.5 1 L-29 19 L-19.5 19 Z" fill="#D98AFF" transform="translate(888.4 1039.96) rotate(0)"/>
<path d="M473.8 1195.2 L497.8 1188.4 L500.2 1187.8 L502.6 1187.1 L505 1186.4 L507.4 1185.7 L509.8 1185 L512.2 1184.4 L514.6 1183.7 L517 1183 L519.4 1182.4 L521.7 1181.7 L524.1 1181 L526.5 1180.4 L528.9 1179.7 L531.3 1179.1 L533.7 1178.4 L536.1 1177.8 L538.5 1177.2 L540.9 1176.5 L543.3 1175.9 L545.7 1175.3 L548.1 1174.7 L550.5 1174.1 L552.9 1173.5 L555.3 1173 L557.7 1172.4 L560.1 1171.9 L562.5 1171.3 L564.9 1170.8 L567.3 1170.3 L569.7 1169.8 L572.1 1169.3 L574.5 1168.8 L576.9 1168.4 L579.3 1167.9 L581.7 1167.5 L584.2 1167.1 L586.6 1166.7 L589 1166.3 L591.4 1165.9 L593.8 1165.5 L596.3 1165.2 L598.7 1164.8 L601.1 1164.5 L603.5 1164.2 L606 1163.9 L608.4 1163.6 L610.9 1163.3 L613.3 1163 L615.7 1162.8 L618.2 1162.6 L620.6 1162.3 L623.1 1162.1 L625.5 1161.9 L628 1161.7 L630.5 1161.5 L632.9 1161.3 L635.4 1161.1 L637.8 1161 L640.3 1160.8 L642.8 1160.7 L645.2 1160.5 L647.7 1160.4 L650.2 1160.2 L652.6 1160.1 L655.1 1160 L657.6 1159.9 L660.1 1159.8 L662.5 1159.7 L665 1159.6 L667.5 1159.5 L670 1159.4 L672.5 1159.3 L674.9 1159.2 L677.4 1159.1 L679.9 1159.1 L682.4 1159 L684.9 1158.9 L687.4 1158.8 L689.8 1158.8 L692.3 1158.7 L694.8 1158.6 L697.3 1158.5 L699.8 1158.5 L702.3 1158.4 L704.7 1158.3 L707.2 1158.3 L709.7 1158.2 L712.2 1158.1 L714.7 1158.1 L717.2 1158 L719.6 1157.9 L722.1 1157.9 L724.6 1157.8 L727.1 1157.8 L729.6 1157.7 L732.1 1157.6 L734.5 1157.6 L737 1157.5 L739.5 1157.5 L742 1157.4 L744.5 1157.4 L746.9 1157.3 L749.4 1157.2 L751.9 1157.2 L754.4 1157.1 L756.9 1157.1 L759.3 1157 L761.8 1157 L764.3 1156.9 L766.8 1156.9 L769.3 1156.9 L771.8 1156.8 L774.2 1156.8 L776.7 1156.7 L779.2 1156.7 L781.7 1156.6 L784.2 1156.6 L786.6 1156.6 L789.1 1156.5 L791.6 1156.5 L794.1 1156.5 L796.6 1156.4 L799 1156.4 L801.5 1156.4 L804 1156.3 L806.5 1156.3 L809 1156.3 L811.4 1156.2 L813.9 1156.2 L816.4 1156.2 L818.9 1156.2 L821.4 1156.1 L823.8 1156.1 L826.3 1156.1 L828.8 1156.1 L831.3 1156.1 L833.8 1156 L836.2 1156 L838.7 1156 L841.2 1156 L843.7 1156 L846.2 1156 L848.7 1156 L851.1 1156 L853.6 1156 L856.1 1156 L858.6 1155.9 L861.1 1155.9 L863.5 1155.9 L866 1155.9 L868.5 1155.9 L871 1156 L873.5 1156 L876 1156 L876.4 1156 L876.4 1148 L876 1148 L873.5 1147.9 L871 1147.9 L868.5 1147.9 L866 1147.9 L863.6 1147.9 L861.1 1147.9 L858.6 1147.9 L856.1 1147.9 L853.6 1147.9 L851.1 1147.9 L848.6 1147.9 L846.2 1147.9 L843.7 1147.9 L841.2 1147.9 L838.7 1147.9 L836.2 1147.9 L833.7 1147.9 L831.2 1147.9 L828.8 1147.9 L826.3 1147.9 L823.8 1147.9 L821.3 1147.9 L818.8 1147.9 L816.3 1148 L813.8 1148 L811.4 1148 L808.9 1148 L806.4 1148 L803.9 1148 L801.4 1148.1 L798.9 1148.1 L796.5 1148.1 L794 1148.1 L791.5 1148.2 L789 1148.2 L786.5 1148.2 L784 1148.2 L781.6 1148.3 L779.1 1148.3 L776.6 1148.3 L774.1 1148.4 L771.6 1148.4 L769.1 1148.4 L766.6 1148.5 L764.2 1148.5 L761.7 1148.5 L759.2 1148.6 L756.7 1148.6 L754.2 1148.7 L751.7 1148.7 L749.3 1148.7 L746.8 1148.8 L744.3 1148.8 L741.8 1148.9 L739.3 1148.9 L736.8 1149 L734.3 1149 L731.9 1149.1 L729.4 1149.1 L726.9 1149.2 L724.4 1149.2 L721.9 1149.3 L719.4 1149.3 L717 1149.4 L714.5 1149.4 L712 1149.5 L709.5 1149.6 L707 1149.6 L704.5 1149.7 L702 1149.7 L699.5 1149.8 L697.1 1149.8 L694.6 1149.9 L692.1 1150 L689.6 1150 L687.1 1150.1 L684.6 1150.2 L682.1 1150.2 L679.6 1150.3 L677.2 1150.4 L674.7 1150.4 L672.2 1150.5 L669.7 1150.6 L667.2 1150.7 L664.7 1150.8 L662.2 1150.8 L659.7 1150.9 L657.2 1151 L654.7 1151.1 L652.2 1151.2 L649.7 1151.4 L647.2 1151.5 L644.7 1151.6 L642.3 1151.8 L639.8 1151.9 L637.3 1152 L634.8 1152.2 L632.3 1152.4 L629.8 1152.5 L627.3 1152.7 L624.8 1152.9 L622.3 1153.1 L619.8 1153.4 L617.3 1153.6 L614.9 1153.8 L612.4 1154.1 L609.9 1154.3 L607.4 1154.6 L604.9 1154.9 L602.4 1155.2 L599.9 1155.5 L597.5 1155.8 L595 1156.1 L592.5 1156.5 L590 1156.9 L587.6 1157.2 L585.1 1157.6 L582.6 1158 L580.2 1158.5 L577.7 1158.9 L575.2 1159.4 L572.8 1159.8 L570.3 1160.3 L567.8 1160.8 L565.4 1161.3 L562.9 1161.8 L560.5 1162.3 L558.1 1162.8 L555.6 1163.4 L553.2 1163.9 L550.7 1164.5 L548.3 1165.1 L545.9 1165.7 L543.4 1166.3 L541 1166.9 L538.6 1167.5 L536.1 1168.1 L533.7 1168.7 L531.3 1169.4 L528.9 1170 L526.5 1170.7 L524.1 1171.3 L521.7 1172 L519.2 1172.6 L516.8 1173.3 L514.4 1173.9 L512 1174.6 L509.6 1175.3 L507.2 1175.9 L504.8 1176.6 L502.4 1177.3 L500 1177.9 L497.7 1178.6 L495.3 1179.3 L471.2 1186Z" fill="#B0A2FF"/>
<path d="M0 0 L-19.5 -19 L-29 -19 L-12.5 -1 L-12.5 1 L-29 19 L-19.5 19 Z" fill="#B0A2FF" transform="translate(888.4 1152.04) rotate(0)"/>
<path d="M484.3 1272.8 L505.7 1259.7 L507.9 1258.4 L510 1257.1 L512.2 1255.8 L514.4 1254.6 L516.6 1253.4 L518.8 1252.2 L521 1251.1 L523.2 1250 L525.4 1248.9 L527.7 1247.8 L529.9 1246.8 L532.2 1245.8 L534.4 1244.8 L536.7 1243.8 L539 1242.9 L541.2 1242 L543.5 1241.1 L545.8 1240.3 L548.1 1239.4 L550.4 1238.6 L552.7 1237.9 L555.1 1237.1 L557.4 1236.4 L559.7 1235.7 L562.1 1235 L564.4 1234.3 L566.8 1233.6 L569.1 1233 L571.5 1232.4 L573.9 1231.8 L576.3 1231.2 L578.6 1230.7 L581 1230.2 L583.4 1229.7 L585.8 1229.2 L588.2 1228.7 L590.6 1228.2 L593.1 1227.8 L595.5 1227.4 L597.9 1227 L600.3 1226.6 L602.8 1226.2 L605.2 1225.8 L607.7 1225.5 L610.1 1225.2 L612.6 1224.9 L615 1224.6 L617.5 1224.3 L619.9 1224 L622.4 1223.7 L624.9 1223.5 L627.3 1223.2 L629.8 1223 L632.3 1222.8 L634.8 1222.6 L637.3 1222.4 L639.8 1222.2 L642.2 1222 L644.7 1221.9 L647.2 1221.7 L649.7 1221.6 L652.2 1221.4 L654.7 1221.3 L657.2 1221.2 L659.7 1221.1 L662.3 1221 L664.8 1220.9 L667.3 1220.8 L669.8 1220.7 L672.3 1220.6 L674.8 1220.5 L677.3 1220.4 L679.8 1220.3 L682.4 1220.3 L684.9 1220.2 L687.4 1220.1 L689.9 1220.1 L692.4 1220 L694.9 1220 L697.4 1219.9 L700 1219.9 L702.5 1219.8 L705 1219.8 L707.5 1219.7 L710 1219.7 L712.5 1219.6 L715 1219.6 L717.6 1219.5 L720.1 1219.5 L722.6 1219.5 L725.1 1219.4 L727.6 1219.4 L730.1 1219.4 L732.6 1219.3 L735.1 1219.3 L737.6 1219.3 L740.1 1219.2 L742.7 1219.2 L745.2 1219.2 L747.7 1219.2 L750.2 1219.1 L752.7 1219.1 L755.2 1219.1 L757.7 1219.1 L760.2 1219 L762.7 1219 L765.2 1219 L767.7 1219 L770.2 1219 L772.7 1218.9 L775.2 1218.9 L777.7 1218.9 L780.3 1218.9 L782.8 1218.9 L785.3 1218.9 L787.8 1218.8 L790.3 1218.8 L792.8 1218.8 L795.3 1218.8 L797.8 1218.8 L800.3 1218.8 L802.8 1218.7 L805.3 1218.7 L807.8 1218.7 L810.3 1218.7 L812.8 1218.7 L815.3 1218.7 L817.8 1218.6 L820.3 1218.6 L822.8 1218.6 L825.3 1218.6 L827.8 1218.6 L830.4 1218.5 L832.9 1218.5 L835.4 1218.5 L837.9 1218.5 L840.4 1218.4 L842.9 1218.4 L845.4 1218.4 L847.9 1218.4 L850.4 1218.3 L852.9 1218.3 L855.4 1218.3 L857.9 1218.2 L860.4 1218.2 L862.9 1218.2 L865.4 1218.1 L867.9 1218.1 L870.5 1218.1 L873 1218 L875.5 1218 L878 1217.9 L880.5 1217.9 L883 1217.8 L883.5 1217.8 L883.4 1209.8 L882.9 1209.8 L880.4 1209.9 L877.8 1209.9 L875.3 1209.9 L872.8 1210 L870.3 1210 L867.8 1210 L865.3 1210.1 L862.8 1210.1 L860.3 1210.1 L857.8 1210.1 L855.3 1210.2 L852.8 1210.2 L850.3 1210.2 L847.8 1210.2 L845.3 1210.2 L842.8 1210.3 L840.3 1210.3 L837.8 1210.3 L835.3 1210.3 L832.8 1210.3 L830.3 1210.3 L827.8 1210.3 L825.3 1210.4 L822.8 1210.4 L820.3 1210.4 L817.8 1210.4 L815.3 1210.4 L812.8 1210.4 L810.3 1210.4 L807.8 1210.4 L805.3 1210.4 L802.8 1210.4 L800.3 1210.4 L797.8 1210.4 L795.2 1210.5 L792.7 1210.5 L790.2 1210.5 L787.7 1210.5 L785.2 1210.5 L782.7 1210.5 L780.2 1210.5 L777.7 1210.5 L775.2 1210.5 L772.7 1210.5 L770.2 1210.5 L767.7 1210.5 L765.2 1210.5 L762.7 1210.6 L760.2 1210.6 L757.6 1210.6 L755.1 1210.6 L752.6 1210.6 L750.1 1210.6 L747.6 1210.6 L745.1 1210.6 L742.6 1210.7 L740.1 1210.7 L737.6 1210.7 L735 1210.7 L732.5 1210.7 L730 1210.8 L727.5 1210.8 L725 1210.8 L722.5 1210.8 L720 1210.9 L717.4 1210.9 L714.9 1210.9 L712.4 1211 L709.9 1211 L707.4 1211 L704.8 1211.1 L702.3 1211.1 L699.8 1211.1 L697.3 1211.2 L694.8 1211.2 L692.2 1211.3 L689.7 1211.3 L687.2 1211.4 L684.7 1211.4 L682.1 1211.5 L679.6 1211.6 L677.1 1211.6 L674.5 1211.7 L672 1211.8 L669.5 1211.8 L667 1211.9 L664.4 1212 L661.9 1212.1 L659.4 1212.2 L656.8 1212.3 L654.3 1212.4 L651.8 1212.5 L649.2 1212.7 L646.7 1212.8 L644.2 1213 L641.7 1213.1 L639.1 1213.3 L636.6 1213.5 L634.1 1213.7 L631.6 1213.8 L629 1214.1 L626.5 1214.3 L624 1214.5 L621.5 1214.8 L619 1215 L616.5 1215.3 L613.9 1215.6 L611.4 1215.9 L608.9 1216.2 L606.4 1216.5 L603.9 1216.8 L601.4 1217.2 L598.9 1217.6 L596.4 1218 L594 1218.4 L591.5 1218.8 L589 1219.2 L586.5 1219.7 L584 1220.2 L581.6 1220.7 L579.1 1221.2 L576.6 1221.7 L574.2 1222.3 L571.7 1222.9 L569.3 1223.5 L566.8 1224.1 L564.4 1224.7 L561.9 1225.4 L559.5 1226.1 L557.1 1226.8 L554.7 1227.5 L552.2 1228.3 L549.8 1229 L547.4 1229.8 L545 1230.7 L542.6 1231.5 L540.2 1232.4 L537.9 1233.3 L535.5 1234.2 L533.1 1235.2 L530.7 1236.2 L528.4 1237.2 L526 1238.2 L523.7 1239.3 L521.4 1240.4 L519 1241.5 L516.7 1242.7 L514.4 1243.9 L512.1 1245.1 L509.8 1246.3 L507.5 1247.6 L505.2 1248.9 L503 1250.3 L500.7 1251.6 L479.3 1264.6Z" fill="#B0A2FF"/>
<path d="M0 0 L-19.5 -19 L-29 -19 L-12.5 -1 L-12.5 1 L-29 19 L-19.5 19 Z" fill="#B0A2FF" transform="translate(895.46 1213.59) rotate(0)"/>
<path d="M496.6 1349.3 L516.3 1333.9 L518.3 1332.4 L520.4 1330.8 L522.4 1329.3 L524.4 1327.8 L526.5 1326.3 L528.5 1324.9 L530.6 1323.5 L532.7 1322.1 L534.7 1320.7 L536.8 1319.4 L539 1318.1 L541.1 1316.9 L543.2 1315.7 L545.4 1314.5 L547.5 1313.5 L549.7 1312.4 L551.9 1311.4 L554.1 1310.5 L556.4 1309.5 L558.6 1308.7 L560.9 1307.9 L563.2 1307.1 L565.5 1306.3 L567.8 1305.6 L570.1 1304.9 L572.5 1304.3 L574.9 1303.7 L577.2 1303.1 L579.6 1302.5 L582 1302 L584.5 1301.5 L586.9 1301.1 L589.3 1300.6 L591.8 1300.2 L594.3 1299.8 L596.7 1299.4 L599.2 1299 L601.7 1298.6 L604.2 1298.3 L606.7 1298 L609.2 1297.6 L611.7 1297.3 L614.2 1297 L616.7 1296.7 L619.2 1296.4 L621.7 1296.2 L624.2 1295.9 L626.7 1295.6 L629.2 1295.3 L631.7 1295.1 L634.2 1294.8 L636.7 1294.6 L639.3 1294.4 L641.8 1294.1 L644.3 1293.9 L646.8 1293.7 L649.3 1293.5 L651.8 1293.3 L654.3 1293.1 L656.8 1292.9 L659.4 1292.7 L661.9 1292.5 L664.4 1292.4 L666.9 1292.2 L669.4 1292 L671.9 1291.9 L674.4 1291.7 L677 1291.6 L679.5 1291.4 L682 1291.3 L684.5 1291.1 L687 1291 L689.6 1290.9 L692.1 1290.8 L694.6 1290.7 L697.1 1290.5 L699.6 1290.4 L702.2 1290.3 L704.7 1290.2 L707.2 1290.1 L709.7 1290 L712.2 1290 L714.8 1289.9 L717.3 1289.8 L719.8 1289.7 L722.3 1289.6 L724.9 1289.6 L727.4 1289.5 L729.9 1289.4 L732.4 1289.4 L735 1289.3 L737.5 1289.3 L740 1289.2 L742.5 1289.2 L745.1 1289.1 L747.6 1289.1 L750.1 1289 L752.6 1289 L755.2 1289 L757.7 1288.9 L760.2 1288.9 L762.7 1288.8 L765.3 1288.8 L767.8 1288.8 L770.3 1288.8 L772.9 1288.7 L775.4 1288.7 L777.9 1288.7 L780.4 1288.7 L783 1288.6 L785.5 1288.6 L788 1288.6 L790.6 1288.6 L793.1 1288.6 L795.6 1288.5 L798.1 1288.5 L800.7 1288.5 L803.2 1288.5 L805.7 1288.5 L808.3 1288.4 L810.8 1288.4 L813.3 1288.4 L815.9 1288.4 L818.4 1288.4 L820.9 1288.3 L823.5 1288.3 L826 1288.3 L828.5 1288.3 L831 1288.3 L833.6 1288.2 L836.1 1288.2 L838.6 1288.2 L841.2 1288.2 L843.7 1288.1 L846.2 1288.1 L848.8 1288.1 L851.3 1288 L853.8 1288 L856.4 1288 L858.9 1287.9 L861.4 1287.9 L864 1287.8 L866.5 1287.8 L869 1287.8 L871.6 1287.7 L874.1 1287.6 L876.6 1287.6 L879.2 1287.5 L881.7 1287.5 L884.2 1287.4 L886.8 1287.3 L889.3 1287.3 L891.8 1287.2 L894.4 1287.1 L895 1287.1 L894.8 1279.1 L894.1 1279.1 L891.6 1279.2 L889.1 1279.3 L886.6 1279.3 L884 1279.4 L881.5 1279.4 L879 1279.5 L876.5 1279.5 L873.9 1279.6 L871.4 1279.6 L868.9 1279.7 L866.4 1279.7 L863.8 1279.7 L861.3 1279.8 L858.8 1279.8 L856.3 1279.8 L853.7 1279.8 L851.2 1279.9 L848.7 1279.9 L846.2 1279.9 L843.6 1279.9 L841.1 1280 L838.6 1280 L836 1280 L833.5 1280 L831 1280 L828.5 1280 L825.9 1280 L823.4 1280.1 L820.9 1280.1 L818.3 1280.1 L815.8 1280.1 L813.3 1280.1 L810.8 1280.1 L808.2 1280.1 L805.7 1280.1 L803.2 1280.1 L800.6 1280.1 L798.1 1280.1 L795.6 1280.1 L793 1280.2 L790.5 1280.2 L788 1280.2 L785.4 1280.2 L782.9 1280.2 L780.4 1280.2 L777.8 1280.2 L775.3 1280.2 L772.8 1280.3 L770.2 1280.3 L767.7 1280.3 L765.2 1280.3 L762.6 1280.3 L760.1 1280.4 L757.6 1280.4 L755 1280.4 L752.5 1280.4 L750 1280.5 L747.4 1280.5 L744.9 1280.5 L742.4 1280.6 L739.8 1280.6 L737.3 1280.7 L734.8 1280.7 L732.2 1280.8 L729.7 1280.8 L727.2 1280.9 L724.6 1280.9 L722.1 1281 L719.6 1281 L717 1281.1 L714.5 1281.2 L712 1281.3 L709.4 1281.3 L706.9 1281.4 L704.4 1281.5 L701.8 1281.6 L699.3 1281.7 L696.8 1281.8 L694.2 1281.9 L691.7 1282 L689.1 1282.1 L686.6 1282.2 L684.1 1282.3 L681.5 1282.5 L679 1282.6 L676.5 1282.7 L673.9 1282.9 L671.4 1283 L668.9 1283.2 L666.3 1283.3 L663.8 1283.5 L661.3 1283.7 L658.7 1283.8 L656.2 1284 L653.7 1284.2 L651.1 1284.4 L648.6 1284.6 L646 1284.8 L643.5 1285 L641 1285.2 L638.4 1285.4 L635.9 1285.6 L633.4 1285.9 L630.8 1286.1 L628.3 1286.4 L625.8 1286.6 L623.2 1286.9 L620.7 1287.2 L618.2 1287.4 L615.6 1287.7 L613.1 1288 L610.6 1288.3 L608 1288.6 L605.5 1288.9 L603 1289.3 L600.4 1289.6 L597.9 1290 L595.3 1290.3 L592.8 1290.7 L590.3 1291.1 L587.7 1291.6 L585.2 1292 L582.7 1292.5 L580.2 1293 L577.6 1293.5 L575.1 1294.1 L572.6 1294.7 L570.1 1295.3 L567.7 1296 L565.2 1296.7 L562.7 1297.5 L560.2 1298.3 L557.8 1299.1 L555.4 1300 L552.9 1300.9 L550.5 1301.8 L548.1 1302.9 L545.8 1303.9 L543.4 1305.1 L541.1 1306.2 L538.7 1307.5 L536.5 1308.7 L534.2 1310 L531.9 1311.4 L529.7 1312.8 L527.5 1314.2 L525.3 1315.6 L523.1 1317.1 L521 1318.6 L518.8 1320.1 L516.7 1321.7 L514.6 1323.3 L512.6 1324.8 L510.5 1326.4 L490.7 1341.7Z" fill="#B0A2FF"/>
<path d="M0 0 L-19.5 -19 L-29 -19 L-12.5 -1 L-12.5 1 L-29 19 L-19.5 19 Z" fill="#B0A2FF" transform="translate(906.89 1282.71) rotate(0)"/>
<path d="M518.2 1424.6 L534.9 1405.9 L536.6 1404 L538.3 1402.2 L540.1 1400.4 L541.9 1398.7 L543.7 1397.1 L545.6 1395.5 L547.4 1394 L549.4 1392.5 L551.3 1391.1 L553.3 1389.7 L555.3 1388.4 L557.3 1387.2 L559.3 1386 L561.4 1384.9 L563.5 1383.8 L565.7 1382.7 L567.8 1381.7 L570 1380.7 L572.2 1379.8 L574.4 1378.9 L576.7 1378.1 L578.9 1377.3 L581.2 1376.6 L583.5 1375.8 L585.8 1375.1 L588.2 1374.5 L590.5 1373.9 L592.9 1373.3 L595.3 1372.7 L597.7 1372.2 L600.1 1371.7 L602.5 1371.2 L604.9 1370.8 L607.3 1370.3 L609.8 1369.9 L612.3 1369.6 L614.7 1369.2 L617.2 1368.9 L619.7 1368.6 L622.2 1368.3 L624.6 1368 L627.1 1367.7 L629.7 1367.5 L632.2 1367.3 L634.7 1367.1 L637.2 1366.9 L639.7 1366.7 L642.3 1366.5 L644.8 1366.4 L647.3 1366.2 L649.9 1366.1 L652.4 1366 L655 1365.8 L657.5 1365.7 L660.1 1365.6 L662.6 1365.5 L665.2 1365.4 L667.7 1365.3 L670.3 1365.2 L672.8 1365.1 L675.4 1365.1 L677.9 1365 L680.5 1364.9 L683 1364.8 L685.6 1364.7 L688.1 1364.6 L690.6 1364.5 L693.2 1364.4 L695.7 1364.4 L698.2 1364.3 L700.8 1364.2 L703.3 1364.1 L705.8 1364 L708.3 1363.9 L710.9 1363.8 L713.4 1363.7 L715.9 1363.7 L718.4 1363.6 L720.9 1363.5 L723.5 1363.4 L726 1363.3 L728.5 1363.2 L731 1363.2 L733.5 1363.1 L736 1363 L738.5 1362.9 L741.1 1362.9 L743.6 1362.8 L746.1 1362.7 L748.6 1362.6 L751.1 1362.6 L753.6 1362.5 L756.1 1362.4 L758.6 1362.3 L761.1 1362.3 L763.6 1362.2 L766.1 1362.2 L768.6 1362.1 L771.2 1362 L773.7 1362 L776.2 1361.9 L778.7 1361.9 L781.2 1361.8 L783.7 1361.7 L786.2 1361.7 L788.7 1361.6 L791.2 1361.6 L793.7 1361.6 L796.3 1361.5 L798.8 1361.5 L801.3 1361.4 L803.8 1361.4 L806.3 1361.4 L808.8 1361.3 L811.4 1361.3 L813.9 1361.2 L816.4 1361.2 L818.9 1361.2 L821.4 1361.2 L823.9 1361.1 L826.5 1361.1 L829 1361.1 L831.5 1361.1 L834 1361 L836.6 1361 L839.1 1361 L841.6 1361 L844.1 1361 L846.6 1360.9 L849.2 1360.9 L851.7 1360.9 L854.2 1360.9 L856.7 1360.9 L859.3 1360.9 L861.8 1360.9 L864.3 1360.9 L866.9 1360.9 L869.4 1360.8 L871.9 1360.8 L874.4 1360.8 L877 1360.8 L879.5 1360.8 L882 1360.8 L884.5 1360.8 L887.1 1360.8 L889.6 1360.8 L892.1 1360.8 L894.7 1360.8 L897.2 1360.8 L899.7 1360.8 L902.2 1360.8 L904.8 1360.9 L907.3 1360.9 L909.8 1360.9 L910.5 1360.9 L910.5 1352.9 L909.9 1352.9 L907.3 1352.8 L904.8 1352.8 L902.3 1352.8 L899.7 1352.8 L897.2 1352.8 L894.7 1352.8 L892.2 1352.8 L889.6 1352.7 L887.1 1352.7 L884.6 1352.7 L882 1352.7 L879.5 1352.7 L877 1352.7 L874.4 1352.7 L871.9 1352.7 L869.4 1352.7 L866.8 1352.7 L864.3 1352.7 L861.8 1352.7 L859.3 1352.7 L856.7 1352.7 L854.2 1352.7 L851.7 1352.7 L849.1 1352.7 L846.6 1352.7 L844.1 1352.7 L841.6 1352.7 L839 1352.7 L836.5 1352.7 L834 1352.7 L831.5 1352.7 L828.9 1352.8 L826.4 1352.8 L823.9 1352.8 L821.4 1352.8 L818.8 1352.8 L816.3 1352.9 L813.8 1352.9 L811.3 1352.9 L808.7 1352.9 L806.2 1352.9 L803.7 1353 L801.2 1353 L798.7 1353 L796.1 1353.1 L793.6 1353.1 L791.1 1353.1 L788.6 1353.2 L786.1 1353.2 L783.5 1353.3 L781 1353.3 L778.5 1353.3 L776 1353.4 L773.5 1353.4 L771 1353.5 L768.4 1353.5 L765.9 1353.6 L763.4 1353.7 L760.9 1353.7 L758.4 1353.8 L755.9 1353.8 L753.4 1353.9 L750.9 1353.9 L748.3 1354 L745.8 1354.1 L743.3 1354.1 L740.8 1354.2 L738.3 1354.3 L735.8 1354.3 L733.3 1354.4 L730.7 1354.5 L728.2 1354.6 L725.7 1354.6 L723.2 1354.7 L720.7 1354.8 L718.2 1354.8 L715.6 1354.9 L713.1 1355 L710.6 1355.1 L708.1 1355.1 L705.5 1355.2 L703 1355.3 L700.5 1355.4 L697.9 1355.5 L695.4 1355.5 L692.9 1355.6 L690.3 1355.7 L687.8 1355.8 L685.3 1355.8 L682.7 1355.9 L680.2 1356 L677.6 1356.1 L675.1 1356.2 L672.5 1356.2 L670 1356.3 L667.4 1356.4 L664.8 1356.5 L662.3 1356.6 L659.7 1356.7 L657.1 1356.8 L654.6 1356.9 L652 1357 L649.4 1357.1 L646.8 1357.2 L644.3 1357.4 L641.7 1357.5 L639.1 1357.7 L636.5 1357.8 L634 1358 L631.4 1358.2 L628.8 1358.5 L626.3 1358.7 L623.7 1358.9 L621.1 1359.2 L618.6 1359.5 L616 1359.8 L613.5 1360.2 L610.9 1360.5 L608.4 1360.9 L605.8 1361.3 L603.3 1361.7 L600.8 1362.2 L598.3 1362.7 L595.7 1363.2 L593.2 1363.7 L590.7 1364.3 L588.2 1364.9 L585.7 1365.6 L583.3 1366.2 L580.8 1367 L578.4 1367.7 L575.9 1368.5 L573.5 1369.4 L571.1 1370.3 L568.7 1371.2 L566.3 1372.2 L564 1373.2 L561.6 1374.3 L559.3 1375.4 L557 1376.6 L554.7 1377.8 L552.5 1379.1 L550.3 1380.5 L548.1 1381.9 L545.9 1383.4 L543.7 1384.9 L541.6 1386.5 L539.5 1388.2 L537.5 1389.9 L535.5 1391.7 L533.5 1393.6 L531.5 1395.5 L529.6 1397.6 L527.8 1399.6 L511.1 1418.2Z" fill="#B0A2FF"/>
<path d="M0 0 L-19.5 -19 L-29 -19 L-12.5 -1 L-12.5 1 L-29 19 L-19.5 19 Z" fill="#B0A2FF" transform="translate(922.52 1356.93) rotate(0)"/>
<path d="M555 1507.6 L564 1484.3 L564.9 1481.7 L566 1479.3 L567.1 1477 L568.3 1474.7 L569.6 1472.5 L570.9 1470.4 L572.3 1468.4 L573.8 1466.4 L575.3 1464.5 L576.9 1462.7 L578.6 1461 L580.3 1459.3 L582.1 1457.6 L584 1456.1 L585.8 1454.6 L587.8 1453.1 L589.8 1451.7 L591.8 1450.4 L593.9 1449.1 L596 1447.8 L598.2 1446.7 L600.4 1445.5 L602.7 1444.4 L605 1443.4 L607.3 1442.4 L609.6 1441.4 L612 1440.5 L614.4 1439.7 L616.8 1438.8 L619.3 1438 L621.7 1437.3 L624.2 1436.6 L626.7 1435.9 L629.2 1435.2 L631.7 1434.6 L634.2 1434 L636.8 1433.4 L639.3 1432.9 L641.8 1432.4 L644.4 1431.9 L646.9 1431.4 L649.5 1431 L652 1430.6 L654.6 1430.2 L657.1 1429.8 L659.7 1429.5 L662.3 1429.1 L664.8 1428.8 L667.4 1428.5 L670 1428.2 L672.6 1427.9 L675.1 1427.7 L677.7 1427.4 L680.3 1427.2 L682.9 1427 L685.5 1426.7 L688.1 1426.5 L690.7 1426.3 L693.2 1426.1 L695.8 1425.9 L698.4 1425.7 L701 1425.5 L703.6 1425.4 L706.2 1425.2 L708.8 1425 L711.3 1424.8 L713.9 1424.6 L716.5 1424.5 L719.1 1424.3 L721.7 1424.1 L724.2 1424 L726.8 1423.8 L729.4 1423.7 L732 1423.5 L734.5 1423.3 L737.1 1423.2 L739.7 1423.1 L742.3 1422.9 L744.8 1422.8 L747.4 1422.6 L750 1422.5 L752.6 1422.4 L755.2 1422.3 L757.7 1422.2 L760.3 1422 L762.9 1421.9 L765.5 1421.8 L768.1 1421.7 L770.7 1421.6 L773.3 1421.5 L775.8 1421.4 L778.4 1421.4 L781 1421.3 L783.6 1421.2 L786.2 1421.1 L788.8 1421 L791.4 1421 L794 1420.9 L796.6 1420.8 L799.2 1420.8 L801.8 1420.7 L804.3 1420.6 L806.9 1420.6 L809.5 1420.5 L812.1 1420.5 L814.7 1420.4 L817.3 1420.4 L819.9 1420.3 L822.5 1420.3 L825.1 1420.3 L827.7 1420.2 L830.3 1420.2 L832.9 1420.2 L835.5 1420.1 L838.1 1420.1 L840.7 1420.1 L843.3 1420 L845.9 1420 L848.5 1420 L851.1 1420 L853.7 1419.9 L856.3 1419.9 L858.9 1419.9 L861.5 1419.9 L864.1 1419.9 L866.7 1419.9 L869.3 1419.8 L871.9 1419.8 L874.5 1419.8 L877.1 1419.8 L879.7 1419.8 L882.3 1419.8 L884.9 1419.8 L887.5 1419.8 L890.1 1419.8 L892.7 1419.7 L895.3 1419.7 L897.9 1419.7 L900.5 1419.7 L903.1 1419.7 L905.7 1419.7 L908.3 1419.7 L910.9 1419.7 L913.5 1419.7 L916.1 1419.7 L918.7 1419.7 L921.3 1419.7 L923.9 1419.6 L926.5 1419.6 L929.1 1419.6 L931.7 1419.6 L934.3 1419.6 L936.9 1419.6 L939.5 1419.6 L940.4 1419.6 L940.4 1413.8 L939.4 1413.8 L936.8 1413.8 L934.3 1413.8 L931.7 1413.8 L929.1 1413.8 L926.5 1413.8 L923.9 1413.8 L921.3 1413.8 L918.7 1413.8 L916.1 1413.8 L913.5 1413.8 L910.9 1413.8 L908.3 1413.8 L905.7 1413.8 L903.1 1413.8 L900.5 1413.8 L897.9 1413.8 L895.3 1413.8 L892.7 1413.8 L890.1 1413.8 L887.5 1413.8 L884.9 1413.8 L882.3 1413.8 L879.7 1413.9 L877.1 1413.9 L874.5 1413.9 L871.9 1413.9 L869.3 1413.9 L866.7 1413.9 L864.1 1413.9 L861.5 1413.9 L858.9 1413.9 L856.3 1413.9 L853.7 1413.9 L851.1 1414 L848.5 1414 L845.9 1414 L843.3 1414 L840.7 1414 L838.1 1414.1 L835.4 1414.1 L832.8 1414.1 L830.2 1414.1 L827.6 1414.2 L825 1414.2 L822.4 1414.2 L819.8 1414.3 L817.2 1414.3 L814.6 1414.3 L812 1414.4 L809.4 1414.4 L806.8 1414.5 L804.2 1414.5 L801.6 1414.6 L799 1414.6 L796.4 1414.7 L793.8 1414.8 L791.2 1414.8 L788.6 1414.9 L786 1415 L783.4 1415 L780.8 1415.1 L778.2 1415.2 L775.6 1415.3 L773 1415.4 L770.4 1415.4 L767.8 1415.5 L765.3 1415.6 L762.7 1415.7 L760.1 1415.8 L757.5 1415.9 L754.9 1416 L752.3 1416.2 L749.7 1416.3 L747.1 1416.4 L744.5 1416.5 L741.9 1416.7 L739.4 1416.8 L736.8 1416.9 L734.2 1417.1 L731.6 1417.2 L729 1417.4 L726.4 1417.5 L723.8 1417.7 L721.3 1417.8 L718.7 1418 L716.1 1418.2 L713.5 1418.3 L710.9 1418.5 L708.3 1418.7 L705.7 1418.8 L703.1 1419 L700.6 1419.2 L698 1419.4 L695.4 1419.6 L692.8 1419.8 L690.2 1419.9 L687.6 1420.1 L685 1420.4 L682.4 1420.6 L679.7 1420.8 L677.1 1421 L674.5 1421.3 L671.9 1421.5 L669.3 1421.8 L666.7 1422.1 L664.1 1422.4 L661.5 1422.7 L658.8 1423.1 L656.2 1423.4 L653.6 1423.8 L651 1424.2 L648.4 1424.6 L645.8 1425 L643.2 1425.5 L640.6 1426 L638 1426.5 L635.4 1427.1 L632.8 1427.6 L630.2 1428.3 L627.6 1428.9 L625 1429.6 L622.4 1430.3 L619.9 1431 L617.3 1431.8 L614.8 1432.6 L612.2 1433.5 L609.7 1434.4 L607.2 1435.3 L604.7 1436.3 L602.3 1437.4 L599.9 1438.5 L597.5 1439.6 L595.1 1440.8 L592.8 1442.1 L590.5 1443.4 L588.3 1444.8 L586.1 1446.2 L583.9 1447.7 L581.8 1449.3 L579.7 1450.9 L577.7 1452.6 L575.8 1454.4 L573.9 1456.3 L572 1458.2 L570.2 1460.2 L568.5 1462.3 L566.9 1464.5 L565.3 1466.7 L563.9 1469 L562.4 1471.4 L561.1 1473.9 L559.9 1476.5 L558.7 1479.2 L557.7 1481.9 L548.6 1505.2Z" fill="#F7BCFF"/>
<path d="M0 0 C-6 -6 -13 -12 -22.5 -17.5 C-24.5 -18.6 -25.5 -16.5 -24 -15 C-19 -10 -16 -6 -15 -2.6 L-15 2.6 C-17 6.5 -21 11 -25.5 15.5 C-27 17.2 -25 18.8 -23 17.6 C-13 12 -6 6 0 0 Z" fill="#F7BCFF" transform="translate(952.4 1416.62) rotate(0)"/>
<path d="M612.9 1661.1 L615 1636.2 L615.2 1633.6 L615.4 1630.9 L615.6 1628.2 L615.8 1625.5 L615.9 1622.8 L616.1 1620 L616.3 1617.3 L616.4 1614.5 L616.6 1611.7 L616.8 1608.9 L617 1606.1 L617.2 1603.3 L617.5 1600.6 L617.7 1597.8 L618 1595 L618.4 1592.2 L618.7 1589.5 L619.1 1586.7 L619.6 1584 L620 1581.3 L620.6 1578.6 L621.2 1575.9 L621.8 1573.2 L622.5 1570.6 L623.2 1568 L624.1 1565.5 L624.9 1562.9 L625.9 1560.4 L626.9 1558 L628 1555.5 L629.2 1553.1 L630.4 1550.7 L631.7 1548.4 L633 1546.1 L634.4 1543.9 L635.9 1541.7 L637.4 1539.5 L639 1537.4 L640.6 1535.4 L642.3 1533.4 L644.1 1531.4 L645.9 1529.5 L647.8 1527.7 L649.7 1525.9 L651.7 1524.2 L653.7 1522.5 L655.8 1520.9 L657.9 1519.4 L660.1 1517.9 L662.3 1516.5 L664.6 1515.1 L666.9 1513.8 L669.2 1512.5 L671.6 1511.3 L674.1 1510.1 L676.5 1509 L679 1507.9 L681.6 1506.9 L684.1 1505.9 L686.7 1505 L689.4 1504 L692 1503.2 L694.7 1502.3 L697.3 1501.5 L700 1500.8 L702.7 1500 L705.4 1499.3 L708.1 1498.6 L710.9 1497.9 L713.6 1497.3 L716.3 1496.7 L719.1 1496.1 L721.8 1495.5 L724.5 1494.9 L727.2 1494.4 L729.9 1493.9 L732.6 1493.4 L735.4 1492.9 L738.1 1492.4 L740.8 1491.9 L743.5 1491.5 L746.2 1491.1 L748.9 1490.7 L751.6 1490.3 L754.3 1489.9 L757.1 1489.5 L759.8 1489.2 L762.5 1488.8 L765.2 1488.5 L768 1488.2 L770.7 1487.9 L773.4 1487.6 L776.1 1487.3 L778.9 1487 L781.6 1486.8 L784.3 1486.5 L787.1 1486.3 L789.8 1486.1 L792.6 1485.8 L795.3 1485.6 L798 1485.5 L800.8 1485.3 L803.5 1485.1 L806.3 1484.9 L809 1484.8 L811.8 1484.6 L814.5 1484.5 L817.3 1484.4 L820 1484.2 L822.8 1484.1 L825.6 1484 L828.3 1483.9 L831.1 1483.8 L833.8 1483.7 L836.6 1483.7 L839.4 1483.6 L842.1 1483.5 L844.9 1483.5 L847.7 1483.4 L850.4 1483.4 L853.2 1483.3 L856 1483.3 L858.7 1483.2 L861.5 1483.2 L864.3 1483.2 L867 1483.2 L869.8 1483.2 L872.6 1483.1 L875.3 1483.1 L878.1 1483.1 L880.9 1483.1 L883.7 1483.1 L886.4 1483.1 L889.2 1483.1 L892 1483.1 L894.8 1483.1 L897.5 1483.1 L900.3 1483.1 L903.1 1483.1 L905.8 1483.2 L908.6 1483.2 L911.4 1483.2 L914.2 1483.2 L916.9 1483.2 L919.7 1483.2 L922.5 1483.2 L925.3 1483.2 L928 1483.2 L930.8 1483.2 L933.6 1483.2 L936.4 1483.2 L939.1 1483.2 L941.9 1483.2 L944.7 1483.2 L946.5 1483.2 L946.5 1477.4 L944.7 1477.4 L941.9 1477.4 L939.1 1477.4 L936.4 1477.4 L933.6 1477.4 L930.8 1477.4 L928.1 1477.4 L925.3 1477.4 L922.5 1477.4 L919.7 1477.3 L917 1477.3 L914.2 1477.3 L911.4 1477.3 L908.6 1477.3 L905.9 1477.3 L903.1 1477.3 L900.3 1477.2 L897.5 1477.2 L894.8 1477.2 L892 1477.2 L889.2 1477.2 L886.4 1477.2 L883.7 1477.2 L880.9 1477.2 L878.1 1477.2 L875.3 1477.2 L872.5 1477.2 L869.8 1477.2 L867 1477.2 L864.2 1477.2 L861.4 1477.2 L858.7 1477.3 L855.9 1477.3 L853.1 1477.3 L850.3 1477.4 L847.5 1477.4 L844.8 1477.4 L842 1477.5 L839.2 1477.6 L836.4 1477.6 L833.7 1477.7 L830.9 1477.8 L828.1 1477.9 L825.3 1478 L822.6 1478.1 L819.8 1478.2 L817 1478.3 L814.3 1478.4 L811.5 1478.5 L808.7 1478.7 L805.9 1478.8 L803.2 1479 L800.4 1479.2 L797.6 1479.3 L794.9 1479.5 L792.1 1479.7 L789.3 1479.9 L786.6 1480.2 L783.8 1480.4 L781 1480.6 L778.3 1480.9 L775.5 1481.1 L772.8 1481.4 L770 1481.7 L767.3 1482 L764.5 1482.3 L761.7 1482.7 L759 1483 L756.2 1483.3 L753.5 1483.7 L750.7 1484.1 L748 1484.5 L745.3 1484.9 L742.5 1485.3 L739.8 1485.8 L737 1486.2 L734.3 1486.7 L731.5 1487.2 L728.8 1487.7 L726 1488.2 L723.2 1488.8 L720.5 1489.3 L717.7 1489.9 L715 1490.5 L712.2 1491.1 L709.4 1491.8 L706.6 1492.5 L703.9 1493.2 L701.1 1493.9 L698.3 1494.6 L695.5 1495.4 L692.8 1496.2 L690 1497.1 L687.3 1498 L684.6 1498.9 L681.9 1499.9 L679.2 1500.9 L676.6 1502 L674 1503.1 L671.4 1504.3 L668.8 1505.5 L666.3 1506.8 L663.8 1508.1 L661.3 1509.5 L658.9 1511 L656.5 1512.5 L654.2 1514.1 L651.9 1515.7 L649.7 1517.4 L647.5 1519.2 L645.3 1521.1 L643.3 1523 L641.3 1525 L639.3 1527 L637.4 1529.1 L635.6 1531.2 L633.8 1533.4 L632.1 1535.7 L630.5 1538 L628.9 1540.3 L627.4 1542.7 L626 1545.2 L624.6 1547.7 L623.3 1550.2 L622 1552.8 L620.9 1555.4 L619.8 1558 L618.8 1560.7 L617.8 1563.4 L616.9 1566.1 L616.1 1568.8 L615.4 1571.6 L614.7 1574.4 L614.1 1577.2 L613.5 1580 L613 1582.9 L612.6 1585.7 L612.1 1588.5 L611.8 1591.4 L611.4 1594.2 L611.1 1597.1 L610.8 1599.9 L610.6 1602.8 L610.3 1605.6 L610.1 1608.4 L609.9 1611.3 L609.8 1614.1 L609.6 1616.8 L609.4 1619.6 L609.2 1622.3 L609.1 1625.1 L608.9 1627.8 L608.7 1630.4 L608.5 1633.1 L608.3 1635.7 L606.2 1660.6Z" fill="#FF9DBD"/>
<path d="M0 0 C-6 -6 -13 -12 -22.5 -17.5 C-24.5 -18.6 -25.5 -16.5 -24 -15 C-19 -10 -16 -6 -15 -2.6 L-15 2.6 C-17 6.5 -21 11 -25.5 15.5 C-27 17.2 -25 18.8 -23 17.6 C-13 12 -6 6 0 0 Z" fill="#FF9DBD" transform="translate(958.51 1480.21) rotate(0)"/>
<path d="M480 1096 H869" stroke="#B0A2FF" stroke-width="8.4"/>
<path d="M0 0 L-19.5 -19 L-29 -19 L-12.5 -1 L-12.5 1 L-29 19 L-19.5 19 Z" fill="#B0A2FF" transform="translate(877.6 1096) rotate(0)"/>
<path d="M2636.9 715.9 L2640 716 L2643.1 716.2 L2646.2 716.3 L2649.3 716.4 L2652.4 716.4 L2655.5 716.5 L2658.6 716.6 L2661.7 716.7 L2664.8 716.7 L2667.9 716.8 L2670.9 716.8 L2674 716.8 L2677.1 716.8 L2680.2 716.8 L2683.3 716.8 L2686.4 716.8 L2689.4 716.8 L2692.5 716.8 L2695.6 716.8 L2698.7 716.7 L2701.8 716.7 L2704.8 716.6 L2707.9 716.5 L2711 716.4 L2714.1 716.4 L2717.1 716.3 L2720.2 716.1 L2723.3 716 L2726.4 715.9 L2729.4 715.8 L2732.5 715.6 L2735.6 715.5 L2738.6 715.3 L2741.7 715.1 L2744.8 715 L2747.9 714.8 L2750.9 714.6 L2754 714.4 L2757.1 714.1 L2760.1 713.9 L2763.2 713.7 L2766.3 713.4 L2769.3 713.2 L2772.4 712.9 L2775.5 712.6 L2778.5 712.3 L2781.6 712 L2784.7 711.7 L2787.7 711.4 L2790.8 711.1 L2793.9 710.8 L2796.9 710.4 L2800 710.1 L2803.1 709.7 L2806.2 709.3 L2809.2 709 L2812.3 708.6 L2815.4 708.2 L2818.4 707.8 L2821.5 707.3 L2824.6 706.9 L2827.7 706.4 L2830.7 705.9 L2833.8 705.4 L2836.9 704.9 L2840 704.3 L2843 703.8 L2846.1 703.1 L2849.2 702.5 L2852.2 701.8 L2855.3 701.1 L2858.3 700.4 L2861.4 699.6 L2864.4 698.8 L2867.5 698 L2870.5 697.1 L2873.5 696.1 L2876.5 695.1 L2879.5 694.1 L2882.5 693 L2885.5 691.9 L2888.4 690.8 L2891.3 689.6 L2894.3 688.3 L2897.2 687 L2900 685.7 L2902.9 684.3 L2905.7 682.8 L2908.5 681.3 L2911.3 679.8 L2914 678.2 L2916.7 676.6 L2919.4 674.9 L2922.1 673.2 L2924.7 671.5 L2927.3 669.6 L2929.8 667.8 L2932.3 665.9 L2934.7 663.9 L2937.1 661.9 L2939.5 659.9 L2941.8 657.8 L2944.1 655.6 L2946.3 653.4 L2948.5 651.2 L2950.6 648.9 L2952.6 646.5 L2954.6 644.1 L2956.6 641.7 L2958.5 639.3 L2960.3 636.7 L2962.1 634.2 L2963.8 631.6 L2965.5 629 L2967.2 626.4 L2968.8 623.7 L2970.3 621 L2971.8 618.2 L2973.3 615.4 L2974.7 612.7 L2976.1 609.8 L2977.4 607 L2978.7 604.1 L2980 601.2 L2981.2 598.3 L2982.5 595.4 L2983.6 592.5 L2984.8 589.5 L2985.9 586.5 L2986.9 583.5 L2988 580.6 L2989 577.5 L2990 574.5 L2991 571.5 L2991.9 568.5 L2992.9 565.4 L2993.8 562.4 L2994.7 559.4 L2995.5 556.3 L2996.4 553.3 L2997.2 550.2 L2998 547.2 L2998.8 544.2 L2999.6 541.1 L3000.4 538.1 L3001.2 535.1 L3001.9 532.1 L3002.7 529.1 L3003.4 526.1 L3004.2 523.2 L3004.9 520.2 L3005.6 517.3 L3006.4 514.4 L3007.1 511.5 L3007.8 508.6 L3008.2 507 L2999.7 504.8 L2999.3 506.4 L2998.5 509.3 L2997.8 512.2 L2997.1 515.2 L2996.4 518.1 L2995.6 521 L2994.9 524 L2994.2 527 L2993.4 530 L2992.6 532.9 L2991.9 535.9 L2991.1 538.9 L2990.3 541.9 L2989.5 544.9 L2988.7 547.9 L2987.9 550.9 L2987.1 553.9 L2986.2 556.9 L2985.3 559.9 L2984.4 562.9 L2983.5 565.9 L2982.6 568.8 L2981.6 571.8 L2980.7 574.7 L2979.7 577.7 L2978.7 580.6 L2977.6 583.5 L2976.5 586.4 L2975.4 589.3 L2974.3 592.1 L2973.1 594.9 L2971.9 597.7 L2970.7 600.5 L2969.5 603.3 L2968.2 606 L2966.8 608.7 L2965.5 611.4 L2964.1 614 L2962.6 616.7 L2961.2 619.2 L2959.6 621.8 L2958.1 624.3 L2956.5 626.8 L2954.8 629.2 L2953.2 631.6 L2951.4 634 L2949.6 636.3 L2947.8 638.6 L2946 640.8 L2944 643 L2942.1 645.1 L2940 647.2 L2938 649.3 L2935.8 651.3 L2933.7 653.3 L2931.4 655.2 L2929.2 657.1 L2926.9 658.9 L2924.5 660.7 L2922.1 662.5 L2919.7 664.2 L2917.2 665.9 L2914.7 667.5 L2912.2 669.1 L2909.6 670.6 L2907 672.1 L2904.3 673.6 L2901.7 675 L2899 676.4 L2896.2 677.7 L2893.5 679 L2890.7 680.2 L2887.9 681.4 L2885.1 682.6 L2882.3 683.7 L2879.4 684.8 L2876.6 685.8 L2873.7 686.8 L2870.8 687.7 L2867.9 688.6 L2865 689.5 L2862.1 690.3 L2859.2 691.1 L2856.2 691.9 L2853.3 692.6 L2850.3 693.2 L2847.3 693.9 L2844.4 694.5 L2841.4 695.1 L2838.4 695.7 L2835.4 696.2 L2832.4 696.7 L2829.3 697.2 L2826.3 697.7 L2823.3 698.2 L2820.3 698.6 L2817.2 699 L2814.2 699.4 L2811.2 699.8 L2808.1 700.2 L2805.1 700.6 L2802 701 L2799 701.3 L2796 701.7 L2792.9 702 L2789.9 702.4 L2786.8 702.7 L2783.8 703 L2780.7 703.3 L2777.7 703.6 L2774.7 703.9 L2771.6 704.1 L2768.6 704.4 L2765.5 704.7 L2762.5 704.9 L2759.5 705.1 L2756.4 705.4 L2753.4 705.6 L2750.3 705.8 L2747.3 706 L2744.3 706.2 L2741.2 706.4 L2738.2 706.5 L2735.1 706.7 L2732.1 706.8 L2729 707 L2726 707.1 L2722.9 707.2 L2719.9 707.4 L2716.8 707.5 L2713.8 707.6 L2710.7 707.6 L2707.7 707.7 L2704.7 707.8 L2701.6 707.9 L2698.5 707.9 L2695.5 708 L2692.4 708 L2689.4 708 L2686.3 708 L2683.3 708 L2680.2 708 L2677.2 708 L2674.1 708 L2671 708 L2668 708 L2664.9 707.9 L2661.8 707.9 L2658.8 707.8 L2655.7 707.7 L2652.6 707.6 L2649.6 707.6 L2646.5 707.5 L2643.4 707.4 L2640.4 707.2 L2637.3 707.1Z" fill="#fff"/>
<path d="M0 0 L-19.5 -19 L-32.5 -19 L-12.5 -1 L-12.5 1 L-32.5 19 L-19.5 19 Z" fill="#fff" transform="translate(3006.46 496.19) rotate(-75.46)"/>
<path d="M2637.3 1484.9 L2640.4 1484.8 L2643.4 1484.6 L2646.5 1484.5 L2649.6 1484.4 L2652.6 1484.4 L2655.7 1484.3 L2658.8 1484.2 L2661.8 1484.1 L2664.9 1484.1 L2668 1484 L2671 1484 L2674.1 1484 L2677.2 1484 L2680.2 1484 L2683.3 1484 L2686.3 1484 L2689.4 1484 L2692.4 1484 L2695.5 1484 L2698.5 1484.1 L2701.6 1484.1 L2704.7 1484.2 L2707.7 1484.3 L2710.7 1484.4 L2713.8 1484.4 L2716.8 1484.5 L2719.9 1484.6 L2722.9 1484.8 L2726 1484.9 L2729 1485 L2732.1 1485.2 L2735.1 1485.3 L2738.2 1485.5 L2741.2 1485.6 L2744.3 1485.8 L2747.3 1486 L2750.3 1486.2 L2753.4 1486.4 L2756.4 1486.6 L2759.5 1486.9 L2762.5 1487.1 L2765.5 1487.3 L2768.6 1487.6 L2771.6 1487.9 L2774.7 1488.1 L2777.7 1488.4 L2780.7 1488.7 L2783.8 1489 L2786.8 1489.3 L2789.9 1489.6 L2792.9 1490 L2796 1490.3 L2799 1490.7 L2802 1491 L2805.1 1491.4 L2808.1 1491.8 L2811.2 1492.2 L2814.2 1492.6 L2817.2 1493 L2820.3 1493.4 L2823.3 1493.8 L2826.3 1494.3 L2829.3 1494.8 L2832.4 1495.3 L2835.4 1495.8 L2838.4 1496.3 L2841.4 1496.9 L2844.4 1497.5 L2847.3 1498.1 L2850.3 1498.8 L2853.3 1499.4 L2856.2 1500.1 L2859.2 1500.9 L2862.1 1501.7 L2865 1502.5 L2867.9 1503.4 L2870.8 1504.3 L2873.7 1505.2 L2876.6 1506.2 L2879.4 1507.2 L2882.3 1508.3 L2885.1 1509.4 L2887.9 1510.6 L2890.7 1511.8 L2893.5 1513 L2896.2 1514.3 L2899 1515.6 L2901.7 1517 L2904.3 1518.4 L2907 1519.9 L2909.6 1521.4 L2912.2 1522.9 L2914.7 1524.5 L2917.2 1526.1 L2919.7 1527.8 L2922.1 1529.5 L2924.5 1531.3 L2926.9 1533.1 L2929.2 1534.9 L2931.4 1536.8 L2933.7 1538.7 L2935.8 1540.7 L2938 1542.7 L2940 1544.8 L2942.1 1546.9 L2944 1549 L2946 1551.2 L2947.8 1553.4 L2949.6 1555.7 L2951.4 1558 L2953.2 1560.4 L2954.8 1562.8 L2956.5 1565.2 L2958.1 1567.7 L2959.6 1570.2 L2961.2 1572.8 L2962.6 1575.3 L2964.1 1578 L2965.5 1580.6 L2966.8 1583.3 L2968.2 1586 L2969.5 1588.7 L2970.7 1591.5 L2971.9 1594.3 L2973.1 1597.1 L2974.3 1599.9 L2975.4 1602.7 L2976.5 1605.6 L2977.6 1608.5 L2978.7 1611.4 L2979.7 1614.3 L2980.7 1617.3 L2981.6 1620.2 L2982.6 1623.2 L2983.5 1626.1 L2984.4 1629.1 L2985.3 1632.1 L2986.2 1635.1 L2987.1 1638.1 L2987.9 1641.1 L2988.7 1644.1 L2989.5 1647.1 L2990.3 1650.1 L2991.1 1653.1 L2991.9 1656.1 L2992.6 1659.1 L2993.4 1662 L2994.2 1665 L2994.9 1668 L2995.6 1671 L2996.4 1673.9 L2997.1 1676.8 L2997.8 1679.8 L2998.5 1682.7 L2999.3 1685.6 L2999.7 1687.2 L3008.2 1685 L3007.8 1683.4 L3007.1 1680.5 L3006.4 1677.6 L3005.6 1674.7 L3004.9 1671.8 L3004.2 1668.8 L3003.4 1665.9 L3002.7 1662.9 L3001.9 1659.9 L3001.2 1656.9 L3000.4 1653.9 L2999.6 1650.9 L2998.8 1647.8 L2998 1644.8 L2997.2 1641.8 L2996.4 1638.7 L2995.5 1635.7 L2994.7 1632.6 L2993.8 1629.6 L2992.9 1626.6 L2991.9 1623.5 L2991 1620.5 L2990 1617.5 L2989 1614.5 L2988 1611.4 L2986.9 1608.5 L2985.9 1605.5 L2984.8 1602.5 L2983.6 1599.5 L2982.5 1596.6 L2981.2 1593.7 L2980 1590.8 L2978.7 1587.9 L2977.4 1585 L2976.1 1582.2 L2974.7 1579.3 L2973.3 1576.6 L2971.8 1573.8 L2970.3 1571 L2968.8 1568.3 L2967.2 1565.6 L2965.5 1563 L2963.8 1560.4 L2962.1 1557.8 L2960.3 1555.3 L2958.5 1552.7 L2956.6 1550.3 L2954.6 1547.9 L2952.6 1545.5 L2950.6 1543.1 L2948.5 1540.8 L2946.3 1538.6 L2944.1 1536.4 L2941.8 1534.2 L2939.5 1532.1 L2937.1 1530.1 L2934.7 1528.1 L2932.3 1526.1 L2929.8 1524.2 L2927.3 1522.4 L2924.7 1520.5 L2922.1 1518.8 L2919.4 1517.1 L2916.7 1515.4 L2914 1513.8 L2911.3 1512.2 L2908.5 1510.7 L2905.7 1509.2 L2902.9 1507.7 L2900 1506.3 L2897.2 1505 L2894.3 1503.7 L2891.3 1502.4 L2888.4 1501.2 L2885.5 1500.1 L2882.5 1499 L2879.5 1497.9 L2876.5 1496.9 L2873.5 1495.9 L2870.5 1494.9 L2867.5 1494 L2864.4 1493.2 L2861.4 1492.4 L2858.3 1491.6 L2855.3 1490.9 L2852.2 1490.2 L2849.2 1489.5 L2846.1 1488.9 L2843 1488.2 L2840 1487.7 L2836.9 1487.1 L2833.8 1486.6 L2830.7 1486.1 L2827.7 1485.6 L2824.6 1485.1 L2821.5 1484.7 L2818.4 1484.2 L2815.4 1483.8 L2812.3 1483.4 L2809.2 1483 L2806.2 1482.7 L2803.1 1482.3 L2800 1481.9 L2796.9 1481.6 L2793.9 1481.2 L2790.8 1480.9 L2787.7 1480.6 L2784.7 1480.3 L2781.6 1480 L2778.5 1479.7 L2775.5 1479.4 L2772.4 1479.1 L2769.3 1478.8 L2766.3 1478.6 L2763.2 1478.3 L2760.1 1478.1 L2757.1 1477.9 L2754 1477.6 L2750.9 1477.4 L2747.9 1477.2 L2744.8 1477 L2741.7 1476.9 L2738.6 1476.7 L2735.6 1476.5 L2732.5 1476.4 L2729.4 1476.2 L2726.4 1476.1 L2723.3 1476 L2720.2 1475.9 L2717.1 1475.7 L2714.1 1475.6 L2711 1475.6 L2707.9 1475.5 L2704.8 1475.4 L2701.8 1475.3 L2698.7 1475.3 L2695.6 1475.2 L2692.5 1475.2 L2689.4 1475.2 L2686.4 1475.2 L2683.3 1475.2 L2680.2 1475.2 L2677.1 1475.2 L2674 1475.2 L2670.9 1475.2 L2667.9 1475.2 L2664.8 1475.3 L2661.7 1475.3 L2658.6 1475.4 L2655.5 1475.5 L2652.4 1475.6 L2649.3 1475.6 L2646.2 1475.7 L2643.1 1475.8 L2640 1476 L2636.9 1476.1Z" fill="#fff"/>
<path d="M0 0 L-19.5 -19 L-32.5 -19 L-12.5 -1 L-12.5 1 L-32.5 19 L-19.5 19 Z" fill="#fff" transform="translate(3006.46 1695.81) rotate(75.46)"/>
<path d="M2663.5 779 L2666.4 778.8 L2669.4 778.7 L2672.3 778.6 L2675.2 778.5 L2678.1 778.4 L2681.1 778.3 L2684 778.3 L2686.9 778.2 L2689.9 778.1 L2692.8 778.1 L2695.7 778 L2698.6 778 L2701.6 777.9 L2704.5 777.9 L2707.4 777.9 L2710.3 777.9 L2713.3 777.8 L2716.2 777.8 L2719.1 777.8 L2722 777.8 L2725 777.8 L2727.9 777.7 L2730.8 777.7 L2733.7 777.7 L2736.7 777.7 L2739.6 777.7 L2742.5 777.6 L2745.4 777.6 L2748.4 777.6 L2751.3 777.5 L2754.2 777.5 L2757.1 777.4 L2760.1 777.4 L2763 777.3 L2765.9 777.3 L2768.8 777.2 L2771.8 777.1 L2774.7 777 L2777.6 776.9 L2780.6 776.8 L2783.5 776.6 L2786.4 776.5 L2789.3 776.4 L2792.3 776.2 L2795.2 776 L2798.1 775.8 L2801.1 775.6 L2804 775.4 L2806.9 775.2 L2809.9 774.9 L2812.8 774.6 L2815.8 774.4 L2818.7 774.1 L2821.6 773.7 L2824.6 773.4 L2827.5 773 L2830.4 772.7 L2833.4 772.3 L2836.3 771.8 L2839.3 771.4 L2842.2 770.9 L2845.2 770.4 L2848.1 769.9 L2851 769.4 L2854 768.8 L2856.9 768.2 L2859.8 767.6 L2862.8 767 L2865.7 766.3 L2868.6 765.7 L2871.5 764.9 L2874.4 764.2 L2877.3 763.5 L2880.2 762.7 L2883.1 761.9 L2886 761 L2888.9 760.1 L2891.7 759.2 L2894.6 758.3 L2897.4 757.4 L2900.2 756.4 L2903.1 755.4 L2905.9 754.3 L2908.7 753.2 L2911.4 752.1 L2914.2 751 L2916.9 749.8 L2919.7 748.6 L2922.4 747.4 L2925.1 746.1 L2927.8 744.8 L2930.5 743.5 L2933.1 742.1 L2935.7 740.7 L2938.3 739.3 L2940.9 737.8 L2943.5 736.3 L2946.1 734.8 L2948.6 733.2 L2951.1 731.6 L2953.6 729.9 L2956 728.3 L2958.5 726.6 L2960.9 724.8 L2963.3 723 L2965.6 721.2 L2968 719.4 L2970.3 717.5 L2972.6 715.6 L2974.8 713.7 L2977.1 711.7 L2979.3 709.7 L2981.5 707.7 L2983.7 705.6 L2985.8 703.6 L2987.9 701.5 L2990 699.4 L2992.1 697.2 L2994.1 695 L2996.2 692.8 L2998.2 690.6 L3000.1 688.4 L3002.1 686.1 L3004 683.8 L3005.9 681.5 L3007.8 679.2 L3009.7 676.9 L3011.5 674.5 L3013.3 672.1 L3015.1 669.7 L3016.8 667.3 L3018.6 664.9 L3020.3 662.4 L3022 660 L3023.6 657.5 L3025.3 655 L3026.9 652.5 L3028.5 650 L3030 647.5 L3031.6 645 L3033.1 642.5 L3034.7 640 L3036.2 637.5 L3037.7 635 L3039.2 632.5 L3040.8 630.1 L3042.3 627.6 L3043.9 625.2 L3045.5 622.8 L3047.1 620.4 L3048.7 618.1 L3050.4 615.8 L3052.1 613.5 L3053.8 611.2 L3055.6 609 L3056.7 607.7 L3049.9 602.1 L3048.8 603.5 L3046.9 605.8 L3045.1 608.2 L3043.3 610.6 L3041.6 613 L3039.9 615.4 L3038.2 617.9 L3036.6 620.4 L3034.9 622.9 L3033.4 625.4 L3031.8 627.9 L3030.2 630.4 L3028.7 632.9 L3027.2 635.4 L3025.6 637.9 L3024.1 640.4 L3022.6 642.8 L3021 645.3 L3019.5 647.8 L3017.9 650.2 L3016.3 652.6 L3014.7 655 L3013 657.4 L3011.4 659.8 L3009.7 662.2 L3008 664.5 L3006.3 666.8 L3004.5 669.2 L3002.7 671.4 L3000.9 673.7 L2999.1 676 L2997.3 678.2 L2995.4 680.4 L2993.5 682.6 L2991.6 684.8 L2989.7 686.9 L2987.7 689 L2985.7 691.1 L2983.7 693.2 L2981.7 695.3 L2979.6 697.3 L2977.6 699.3 L2975.5 701.3 L2973.4 703.2 L2971.2 705.1 L2969.1 707 L2966.9 708.9 L2964.7 710.7 L2962.5 712.5 L2960.2 714.3 L2957.9 716 L2955.7 717.7 L2953.3 719.4 L2951 721 L2948.7 722.6 L2946.3 724.2 L2943.9 725.8 L2941.5 727.3 L2939 728.8 L2936.5 730.2 L2934.1 731.6 L2931.5 733 L2929 734.3 L2926.5 735.6 L2923.9 736.9 L2921.3 738.2 L2918.7 739.4 L2916.1 740.6 L2913.5 741.7 L2910.8 742.9 L2908.1 744 L2905.4 745 L2902.7 746.1 L2900 747.1 L2897.3 748.1 L2894.6 749 L2891.8 750 L2889 750.9 L2886.3 751.7 L2883.5 752.6 L2880.7 753.4 L2877.9 754.2 L2875.1 755 L2872.2 755.7 L2869.4 756.4 L2866.6 757.1 L2863.7 757.8 L2860.9 758.4 L2858 759 L2855.2 759.6 L2852.3 760.2 L2849.4 760.7 L2846.6 761.3 L2843.7 761.8 L2840.8 762.2 L2837.9 762.7 L2835 763.1 L2832.2 763.5 L2829.3 763.9 L2826.4 764.3 L2823.5 764.7 L2820.6 765 L2817.8 765.3 L2814.9 765.6 L2812 765.9 L2809.1 766.1 L2806.2 766.4 L2803.3 766.6 L2800.4 766.8 L2797.6 767 L2794.7 767.2 L2791.8 767.4 L2788.9 767.6 L2786 767.7 L2783.1 767.8 L2780.2 768 L2777.3 768.1 L2774.4 768.2 L2771.5 768.3 L2768.6 768.4 L2765.7 768.5 L2762.8 768.5 L2759.9 768.6 L2757 768.6 L2754.1 768.7 L2751.2 768.7 L2748.2 768.8 L2745.3 768.8 L2742.4 768.8 L2739.5 768.9 L2736.6 768.9 L2733.7 768.9 L2730.7 768.9 L2727.8 768.9 L2724.9 769 L2722 769 L2719 769 L2716.1 769 L2713.2 769 L2710.3 769.1 L2707.3 769.1 L2704.4 769.1 L2701.5 769.1 L2698.5 769.2 L2695.6 769.2 L2692.6 769.3 L2689.7 769.3 L2686.7 769.4 L2683.8 769.5 L2680.8 769.5 L2677.9 769.6 L2674.9 769.7 L2672 769.8 L2669 769.9 L2666 770.1 L2663.1 770.2Z" fill="#fff"/>
<path d="M0 0 L-19.5 -19 L-32.5 -19 L-12.5 -1 L-12.5 1 L-32.5 19 L-19.5 19 Z" fill="#fff" transform="translate(3060.02 597.46) rotate(-47.62)"/>
<path d="M2663.1 1421.8 L2666 1421.9 L2669 1422.1 L2672 1422.2 L2674.9 1422.3 L2677.9 1422.4 L2680.8 1422.5 L2683.8 1422.5 L2686.7 1422.6 L2689.7 1422.7 L2692.6 1422.7 L2695.6 1422.8 L2698.5 1422.8 L2701.5 1422.9 L2704.4 1422.9 L2707.3 1422.9 L2710.3 1422.9 L2713.2 1423 L2716.1 1423 L2719 1423 L2722 1423 L2724.9 1423 L2727.8 1423.1 L2730.7 1423.1 L2733.7 1423.1 L2736.6 1423.1 L2739.5 1423.1 L2742.4 1423.2 L2745.3 1423.2 L2748.2 1423.2 L2751.2 1423.3 L2754.1 1423.3 L2757 1423.4 L2759.9 1423.4 L2762.8 1423.5 L2765.7 1423.5 L2768.6 1423.6 L2771.5 1423.7 L2774.4 1423.8 L2777.3 1423.9 L2780.2 1424 L2783.1 1424.2 L2786 1424.3 L2788.9 1424.4 L2791.8 1424.6 L2794.7 1424.8 L2797.6 1425 L2800.4 1425.2 L2803.3 1425.4 L2806.2 1425.6 L2809.1 1425.9 L2812 1426.1 L2814.9 1426.4 L2817.8 1426.7 L2820.6 1427 L2823.5 1427.3 L2826.4 1427.7 L2829.3 1428.1 L2832.2 1428.5 L2835 1428.9 L2837.9 1429.3 L2840.8 1429.8 L2843.7 1430.2 L2846.6 1430.7 L2849.4 1431.3 L2852.3 1431.8 L2855.2 1432.4 L2858 1433 L2860.9 1433.6 L2863.7 1434.2 L2866.6 1434.9 L2869.4 1435.6 L2872.2 1436.3 L2875.1 1437 L2877.9 1437.8 L2880.7 1438.6 L2883.5 1439.4 L2886.3 1440.3 L2889 1441.1 L2891.8 1442 L2894.6 1443 L2897.3 1443.9 L2900 1444.9 L2902.7 1445.9 L2905.4 1447 L2908.1 1448 L2910.8 1449.1 L2913.5 1450.3 L2916.1 1451.4 L2918.7 1452.6 L2921.3 1453.8 L2923.9 1455.1 L2926.5 1456.4 L2929 1457.7 L2931.5 1459 L2934.1 1460.4 L2936.5 1461.8 L2939 1463.2 L2941.5 1464.7 L2943.9 1466.2 L2946.3 1467.8 L2948.7 1469.4 L2951 1471 L2953.3 1472.6 L2955.7 1474.3 L2957.9 1476 L2960.2 1477.7 L2962.5 1479.5 L2964.7 1481.3 L2966.9 1483.1 L2969.1 1485 L2971.2 1486.9 L2973.4 1488.8 L2975.5 1490.7 L2977.6 1492.7 L2979.6 1494.7 L2981.7 1496.7 L2983.7 1498.8 L2985.7 1500.9 L2987.7 1503 L2989.7 1505.1 L2991.6 1507.2 L2993.5 1509.4 L2995.4 1511.6 L2997.3 1513.8 L2999.1 1516 L3000.9 1518.3 L3002.7 1520.6 L3004.5 1522.8 L3006.3 1525.2 L3008 1527.5 L3009.7 1529.8 L3011.4 1532.2 L3013 1534.6 L3014.7 1537 L3016.3 1539.4 L3017.9 1541.8 L3019.5 1544.2 L3021 1546.7 L3022.6 1549.2 L3024.1 1551.6 L3025.6 1554.1 L3027.2 1556.6 L3028.7 1559.1 L3030.2 1561.6 L3031.8 1564.1 L3033.4 1566.6 L3034.9 1569.1 L3036.6 1571.6 L3038.2 1574.1 L3039.9 1576.6 L3041.6 1579 L3043.3 1581.4 L3045.1 1583.8 L3046.9 1586.2 L3048.8 1588.5 L3049.9 1589.9 L3056.7 1584.3 L3055.6 1583 L3053.8 1580.8 L3052.1 1578.5 L3050.4 1576.2 L3048.7 1573.9 L3047.1 1571.6 L3045.5 1569.2 L3043.9 1566.8 L3042.3 1564.4 L3040.8 1561.9 L3039.2 1559.5 L3037.7 1557 L3036.2 1554.5 L3034.7 1552 L3033.1 1549.5 L3031.6 1547 L3030 1544.5 L3028.5 1542 L3026.9 1539.5 L3025.3 1537 L3023.6 1534.5 L3022 1532 L3020.3 1529.6 L3018.6 1527.1 L3016.8 1524.7 L3015.1 1522.3 L3013.3 1519.9 L3011.5 1517.5 L3009.7 1515.1 L3007.8 1512.8 L3005.9 1510.5 L3004 1508.2 L3002.1 1505.9 L3000.1 1503.6 L2998.2 1501.4 L2996.2 1499.2 L2994.1 1497 L2992.1 1494.8 L2990 1492.6 L2987.9 1490.5 L2985.8 1488.4 L2983.7 1486.4 L2981.5 1484.3 L2979.3 1482.3 L2977.1 1480.3 L2974.8 1478.3 L2972.6 1476.4 L2970.3 1474.5 L2968 1472.6 L2965.6 1470.8 L2963.3 1469 L2960.9 1467.2 L2958.5 1465.4 L2956 1463.7 L2953.6 1462.1 L2951.1 1460.4 L2948.6 1458.8 L2946.1 1457.2 L2943.5 1455.7 L2940.9 1454.2 L2938.3 1452.7 L2935.7 1451.3 L2933.1 1449.9 L2930.5 1448.5 L2927.8 1447.2 L2925.1 1445.9 L2922.4 1444.6 L2919.7 1443.4 L2916.9 1442.2 L2914.2 1441 L2911.4 1439.9 L2908.7 1438.8 L2905.9 1437.7 L2903.1 1436.6 L2900.2 1435.6 L2897.4 1434.6 L2894.6 1433.7 L2891.7 1432.8 L2888.9 1431.9 L2886 1431 L2883.1 1430.1 L2880.2 1429.3 L2877.3 1428.5 L2874.4 1427.8 L2871.5 1427.1 L2868.6 1426.3 L2865.7 1425.7 L2862.8 1425 L2859.8 1424.4 L2856.9 1423.8 L2854 1423.2 L2851 1422.6 L2848.1 1422.1 L2845.2 1421.6 L2842.2 1421.1 L2839.3 1420.6 L2836.3 1420.2 L2833.4 1419.7 L2830.4 1419.3 L2827.5 1419 L2824.6 1418.6 L2821.6 1418.3 L2818.7 1417.9 L2815.8 1417.6 L2812.8 1417.4 L2809.9 1417.1 L2806.9 1416.8 L2804 1416.6 L2801.1 1416.4 L2798.1 1416.2 L2795.2 1416 L2792.3 1415.8 L2789.3 1415.6 L2786.4 1415.5 L2783.5 1415.4 L2780.6 1415.2 L2777.6 1415.1 L2774.7 1415 L2771.8 1414.9 L2768.8 1414.8 L2765.9 1414.7 L2763 1414.7 L2760.1 1414.6 L2757.1 1414.6 L2754.2 1414.5 L2751.3 1414.5 L2748.4 1414.4 L2745.4 1414.4 L2742.5 1414.4 L2739.6 1414.3 L2736.7 1414.3 L2733.7 1414.3 L2730.8 1414.3 L2727.9 1414.3 L2725 1414.2 L2722 1414.2 L2719.1 1414.2 L2716.2 1414.2 L2713.3 1414.2 L2710.3 1414.1 L2707.4 1414.1 L2704.5 1414.1 L2701.6 1414.1 L2698.6 1414 L2695.7 1414 L2692.8 1413.9 L2689.9 1413.9 L2686.9 1413.8 L2684 1413.7 L2681.1 1413.7 L2678.1 1413.6 L2675.2 1413.5 L2672.3 1413.4 L2669.4 1413.3 L2666.4 1413.2 L2663.5 1413Z" fill="#fff"/>
<path d="M0 0 L-19.5 -19 L-32.5 -19 L-12.5 -1 L-12.5 1 L-32.5 19 L-19.5 19 Z" fill="#fff" transform="translate(3060.02 1594.54) rotate(47.62)"/>
<path d="M2681.4 840.2 L2684.3 840 L2687.1 839.8 L2690 839.6 L2692.8 839.4 L2695.7 839.2 L2698.6 839.1 L2701.5 838.9 L2704.3 838.8 L2707.2 838.7 L2710.1 838.6 L2713 838.4 L2715.9 838.3 L2718.8 838.2 L2721.7 838.2 L2724.7 838.1 L2727.6 838 L2730.5 837.9 L2733.4 837.8 L2736.4 837.8 L2739.3 837.7 L2742.3 837.6 L2745.2 837.6 L2748.1 837.5 L2751.1 837.5 L2754.1 837.4 L2757 837.4 L2760 837.3 L2762.9 837.3 L2765.9 837.2 L2768.9 837.2 L2771.9 837.1 L2774.8 837 L2777.8 837 L2780.8 836.9 L2783.8 836.9 L2786.7 836.8 L2789.7 836.7 L2792.7 836.6 L2795.7 836.6 L2798.7 836.5 L2801.7 836.4 L2804.7 836.3 L2807.6 836.2 L2810.6 836.1 L2813.6 835.9 L2816.6 835.8 L2819.6 835.7 L2822.6 835.5 L2825.6 835.4 L2828.6 835.2 L2831.5 835 L2834.5 834.8 L2837.5 834.6 L2840.5 834.4 L2843.5 834.2 L2846.5 834 L2849.4 833.7 L2852.4 833.4 L2855.4 833.2 L2858.4 832.9 L2861.3 832.6 L2864.3 832.2 L2867.3 831.9 L2870.2 831.5 L2873.2 831.2 L2876.2 830.8 L2879.1 830.4 L2882.1 830 L2885 829.5 L2888 829 L2890.9 828.6 L2893.8 828.1 L2896.8 827.5 L2899.7 827 L2902.6 826.4 L2905.5 825.8 L2908.5 825.2 L2911.4 824.6 L2914.3 823.9 L2917.2 823.3 L2920.1 822.5 L2923 821.8 L2925.8 821.1 L2928.7 820.3 L2931.6 819.5 L2934.5 818.6 L2937.3 817.8 L2940.2 816.9 L2943 816 L2945.8 815.1 L2948.7 814.1 L2951.5 813.1 L2954.3 812.1 L2957.1 811.1 L2959.9 810 L2962.6 808.9 L2965.4 807.8 L2968.2 806.6 L2970.9 805.5 L2973.6 804.3 L2976.3 803 L2979 801.8 L2981.7 800.5 L2984.4 799.2 L2987.1 797.8 L2989.7 796.4 L2992.4 795 L2995 793.6 L2997.6 792.2 L3000.2 790.7 L3002.7 789.1 L3005.3 787.6 L3007.8 786 L3010.4 784.4 L3012.9 782.8 L3015.3 781.1 L3017.8 779.4 L3020.3 777.7 L3022.7 776 L3025.1 774.2 L3027.5 772.4 L3029.9 770.6 L3032.2 768.7 L3034.6 766.8 L3036.9 764.9 L3039.2 763 L3041.4 761 L3043.7 759 L3045.9 757 L3048.1 755 L3050.3 752.9 L3052.5 750.8 L3054.6 748.7 L3056.7 746.6 L3058.8 744.4 L3060.9 742.3 L3063 740.1 L3065 737.8 L3067 735.6 L3069 733.3 L3070.9 731 L3072.8 728.7 L3074.7 726.4 L3076.6 724 L3078.5 721.7 L3080.3 719.3 L3082.1 716.8 L3083.9 714.4 L3085.6 712 L3087.3 709.5 L3089 707 L3090.7 704.5 L3092.4 701.9 L3094 699.4 L3095.5 696.8 L3096.5 695.2 L3089 690.6 L3088 692.2 L3086.5 694.7 L3084.9 697.2 L3083.4 699.6 L3081.7 702.1 L3080.1 704.5 L3078.4 706.9 L3076.7 709.3 L3075 711.6 L3073.3 714 L3071.5 716.3 L3069.7 718.6 L3067.9 720.9 L3066.1 723.1 L3064.2 725.4 L3062.3 727.6 L3060.4 729.8 L3058.4 731.9 L3056.5 734.1 L3054.5 736.2 L3052.5 738.3 L3050.5 740.4 L3048.4 742.5 L3046.3 744.5 L3044.2 746.5 L3042.1 748.5 L3040 750.5 L3037.8 752.5 L3035.7 754.4 L3033.5 756.3 L3031.2 758.1 L3029 760 L3026.7 761.8 L3024.5 763.6 L3022.2 765.4 L3019.9 767.1 L3017.5 768.8 L3015.2 770.5 L3012.8 772.2 L3010.4 773.8 L3008 775.4 L3005.6 777 L3003.2 778.6 L3000.7 780.1 L2998.2 781.6 L2995.7 783.1 L2993.2 784.5 L2990.7 785.9 L2988.2 787.3 L2985.6 788.7 L2983.1 790 L2980.5 791.3 L2977.9 792.6 L2975.3 793.8 L2972.7 795 L2970 796.2 L2967.4 797.4 L2964.7 798.5 L2962.1 799.6 L2959.4 800.7 L2956.7 801.8 L2954 802.8 L2951.3 803.8 L2948.5 804.8 L2945.8 805.8 L2943 806.7 L2940.3 807.6 L2937.5 808.5 L2934.8 809.4 L2932 810.2 L2929.2 811 L2926.4 811.8 L2923.6 812.6 L2920.8 813.3 L2918 814 L2915.1 814.7 L2912.3 815.4 L2909.5 816 L2906.6 816.6 L2903.8 817.2 L2900.9 817.8 L2898.1 818.3 L2895.2 818.9 L2892.3 819.4 L2889.4 819.9 L2886.6 820.4 L2883.7 820.8 L2880.8 821.2 L2877.9 821.7 L2875 822.1 L2872.1 822.4 L2869.2 822.8 L2866.2 823.2 L2863.3 823.5 L2860.4 823.8 L2857.5 824.1 L2854.6 824.4 L2851.6 824.7 L2848.7 824.9 L2845.7 825.2 L2842.8 825.4 L2839.9 825.6 L2836.9 825.8 L2834 826 L2831 826.2 L2828 826.4 L2825.1 826.6 L2822.1 826.7 L2819.2 826.9 L2816.2 827 L2813.2 827.1 L2810.3 827.3 L2807.3 827.4 L2804.3 827.5 L2801.4 827.6 L2798.4 827.7 L2795.4 827.8 L2792.5 827.8 L2789.5 827.9 L2786.5 828 L2783.6 828.1 L2780.6 828.1 L2777.6 828.2 L2774.7 828.2 L2771.7 828.3 L2768.7 828.4 L2765.8 828.4 L2762.8 828.5 L2759.8 828.5 L2756.9 828.6 L2753.9 828.6 L2750.9 828.7 L2748 828.7 L2745 828.8 L2742.1 828.8 L2739.1 828.9 L2736.2 829 L2733.2 829 L2730.3 829.1 L2727.3 829.2 L2724.4 829.3 L2721.5 829.4 L2718.5 829.4 L2715.6 829.5 L2712.7 829.7 L2709.8 829.8 L2706.8 829.9 L2703.9 830 L2701 830.2 L2698.1 830.3 L2695.2 830.5 L2692.3 830.6 L2689.4 830.8 L2686.5 831 L2683.7 831.2 L2680.8 831.4Z" fill="#fff"/>
<path d="M0 0 L-19.5 -19 L-32.5 -19 L-12.5 -1 L-12.5 1 L-32.5 19 L-19.5 19 Z" fill="#fff" transform="translate(3097.74 684.24) rotate(-60.26)"/>
<path d="M2680.8 1360.6 L2683.7 1360.8 L2686.5 1361 L2689.4 1361.2 L2692.3 1361.4 L2695.2 1361.5 L2698.1 1361.7 L2701 1361.8 L2703.9 1362 L2706.8 1362.1 L2709.8 1362.2 L2712.7 1362.3 L2715.6 1362.5 L2718.5 1362.6 L2721.5 1362.6 L2724.4 1362.7 L2727.3 1362.8 L2730.3 1362.9 L2733.2 1363 L2736.2 1363 L2739.1 1363.1 L2742.1 1363.2 L2745 1363.2 L2748 1363.3 L2750.9 1363.3 L2753.9 1363.4 L2756.9 1363.4 L2759.8 1363.5 L2762.8 1363.5 L2765.8 1363.6 L2768.7 1363.6 L2771.7 1363.7 L2774.7 1363.8 L2777.6 1363.8 L2780.6 1363.9 L2783.6 1363.9 L2786.5 1364 L2789.5 1364.1 L2792.5 1364.2 L2795.4 1364.2 L2798.4 1364.3 L2801.4 1364.4 L2804.3 1364.5 L2807.3 1364.6 L2810.3 1364.7 L2813.2 1364.9 L2816.2 1365 L2819.2 1365.1 L2822.1 1365.3 L2825.1 1365.4 L2828 1365.6 L2831 1365.8 L2834 1366 L2836.9 1366.2 L2839.9 1366.4 L2842.8 1366.6 L2845.7 1366.8 L2848.7 1367.1 L2851.6 1367.3 L2854.6 1367.6 L2857.5 1367.9 L2860.4 1368.2 L2863.3 1368.5 L2866.2 1368.8 L2869.2 1369.2 L2872.1 1369.6 L2875 1369.9 L2877.9 1370.3 L2880.8 1370.8 L2883.7 1371.2 L2886.6 1371.6 L2889.4 1372.1 L2892.3 1372.6 L2895.2 1373.1 L2898.1 1373.7 L2900.9 1374.2 L2903.8 1374.8 L2906.6 1375.4 L2909.5 1376 L2912.3 1376.6 L2915.1 1377.3 L2918 1378 L2920.8 1378.7 L2923.6 1379.4 L2926.4 1380.2 L2929.2 1381 L2932 1381.8 L2934.8 1382.6 L2937.5 1383.5 L2940.3 1384.4 L2943 1385.3 L2945.8 1386.2 L2948.5 1387.2 L2951.3 1388.2 L2954 1389.2 L2956.7 1390.2 L2959.4 1391.3 L2962.1 1392.4 L2964.7 1393.5 L2967.4 1394.6 L2970 1395.8 L2972.7 1397 L2975.3 1398.2 L2977.9 1399.4 L2980.5 1400.7 L2983.1 1402 L2985.6 1403.3 L2988.2 1404.7 L2990.7 1406.1 L2993.2 1407.5 L2995.7 1408.9 L2998.2 1410.4 L3000.7 1411.9 L3003.2 1413.4 L3005.6 1415 L3008 1416.6 L3010.4 1418.2 L3012.8 1419.8 L3015.2 1421.5 L3017.5 1423.2 L3019.9 1424.9 L3022.2 1426.6 L3024.5 1428.4 L3026.7 1430.2 L3029 1432 L3031.2 1433.9 L3033.5 1435.7 L3035.7 1437.6 L3037.8 1439.5 L3040 1441.5 L3042.1 1443.5 L3044.2 1445.5 L3046.3 1447.5 L3048.4 1449.5 L3050.5 1451.6 L3052.5 1453.7 L3054.5 1455.8 L3056.5 1457.9 L3058.4 1460.1 L3060.4 1462.2 L3062.3 1464.4 L3064.2 1466.6 L3066.1 1468.9 L3067.9 1471.1 L3069.7 1473.4 L3071.5 1475.7 L3073.3 1478 L3075 1480.4 L3076.7 1482.7 L3078.4 1485.1 L3080.1 1487.5 L3081.7 1489.9 L3083.4 1492.4 L3084.9 1494.8 L3086.5 1497.3 L3088 1499.8 L3089 1501.4 L3096.5 1496.8 L3095.5 1495.2 L3094 1492.6 L3092.4 1490.1 L3090.7 1487.5 L3089 1485 L3087.3 1482.5 L3085.6 1480 L3083.9 1477.6 L3082.1 1475.2 L3080.3 1472.7 L3078.5 1470.3 L3076.6 1468 L3074.7 1465.6 L3072.8 1463.3 L3070.9 1461 L3069 1458.7 L3067 1456.4 L3065 1454.2 L3063 1451.9 L3060.9 1449.7 L3058.8 1447.6 L3056.7 1445.4 L3054.6 1443.3 L3052.5 1441.2 L3050.3 1439.1 L3048.1 1437 L3045.9 1435 L3043.7 1433 L3041.4 1431 L3039.2 1429 L3036.9 1427.1 L3034.6 1425.2 L3032.2 1423.3 L3029.9 1421.4 L3027.5 1419.6 L3025.1 1417.8 L3022.7 1416 L3020.3 1414.3 L3017.8 1412.6 L3015.3 1410.9 L3012.9 1409.2 L3010.4 1407.6 L3007.8 1406 L3005.3 1404.4 L3002.7 1402.9 L3000.2 1401.3 L2997.6 1399.8 L2995 1398.4 L2992.4 1397 L2989.7 1395.6 L2987.1 1394.2 L2984.4 1392.8 L2981.7 1391.5 L2979 1390.2 L2976.3 1389 L2973.6 1387.7 L2970.9 1386.5 L2968.2 1385.4 L2965.4 1384.2 L2962.6 1383.1 L2959.9 1382 L2957.1 1380.9 L2954.3 1379.9 L2951.5 1378.9 L2948.7 1377.9 L2945.8 1376.9 L2943 1376 L2940.2 1375.1 L2937.3 1374.2 L2934.5 1373.4 L2931.6 1372.5 L2928.7 1371.7 L2925.8 1370.9 L2923 1370.2 L2920.1 1369.5 L2917.2 1368.7 L2914.3 1368.1 L2911.4 1367.4 L2908.5 1366.8 L2905.5 1366.2 L2902.6 1365.6 L2899.7 1365 L2896.8 1364.5 L2893.8 1363.9 L2890.9 1363.4 L2888 1363 L2885 1362.5 L2882.1 1362 L2879.1 1361.6 L2876.2 1361.2 L2873.2 1360.8 L2870.2 1360.5 L2867.3 1360.1 L2864.3 1359.8 L2861.3 1359.4 L2858.4 1359.1 L2855.4 1358.8 L2852.4 1358.6 L2849.4 1358.3 L2846.5 1358 L2843.5 1357.8 L2840.5 1357.6 L2837.5 1357.4 L2834.5 1357.2 L2831.5 1357 L2828.6 1356.8 L2825.6 1356.6 L2822.6 1356.5 L2819.6 1356.3 L2816.6 1356.2 L2813.6 1356.1 L2810.6 1355.9 L2807.6 1355.8 L2804.7 1355.7 L2801.7 1355.6 L2798.7 1355.5 L2795.7 1355.4 L2792.7 1355.4 L2789.7 1355.3 L2786.7 1355.2 L2783.8 1355.1 L2780.8 1355.1 L2777.8 1355 L2774.8 1355 L2771.9 1354.9 L2768.9 1354.8 L2765.9 1354.8 L2762.9 1354.7 L2760 1354.7 L2757 1354.6 L2754.1 1354.6 L2751.1 1354.5 L2748.1 1354.5 L2745.2 1354.4 L2742.3 1354.4 L2739.3 1354.3 L2736.4 1354.2 L2733.4 1354.2 L2730.5 1354.1 L2727.6 1354 L2724.7 1353.9 L2721.7 1353.8 L2718.8 1353.8 L2715.9 1353.7 L2713 1353.6 L2710.1 1353.4 L2707.2 1353.3 L2704.3 1353.2 L2701.5 1353.1 L2698.6 1352.9 L2695.7 1352.8 L2692.8 1352.6 L2690 1352.4 L2687.1 1352.2 L2684.3 1352 L2681.4 1351.8Z" fill="#fff"/>
<path d="M0 0 L-19.5 -19 L-32.5 -19 L-12.5 -1 L-12.5 1 L-32.5 19 L-19.5 19 Z" fill="#fff" transform="translate(3097.74 1507.76) rotate(60.26)"/>
<path d="M2692.3 913.3 L2695 913.2 L2697.8 913.2 L2700.5 913.2 L2703.3 913.1 L2706.1 913.1 L2708.8 913.1 L2711.6 913 L2714.4 913 L2717.2 912.9 L2720 912.9 L2722.8 912.9 L2725.5 912.9 L2728.3 912.8 L2731.1 912.8 L2734 912.8 L2736.8 912.7 L2739.6 912.7 L2742.4 912.7 L2745.2 912.6 L2748 912.6 L2750.9 912.5 L2753.7 912.5 L2756.5 912.5 L2759.3 912.4 L2762.2 912.4 L2765 912.3 L2767.9 912.3 L2770.7 912.2 L2773.5 912.2 L2776.4 912.1 L2779.2 912 L2782.1 912 L2784.9 911.9 L2787.8 911.8 L2790.6 911.7 L2793.5 911.7 L2796.4 911.6 L2799.2 911.5 L2802.1 911.4 L2804.9 911.3 L2807.8 911.2 L2810.7 911.1 L2813.5 910.9 L2816.4 910.8 L2819.2 910.7 L2822.1 910.5 L2825 910.4 L2827.8 910.2 L2830.7 910.1 L2833.6 909.9 L2836.4 909.7 L2839.3 909.5 L2842.1 909.3 L2845 909.2 L2847.9 908.9 L2850.7 908.7 L2853.6 908.5 L2856.5 908.3 L2859.3 908 L2862.2 907.8 L2865 907.5 L2867.9 907.2 L2870.7 907 L2873.6 906.7 L2876.4 906.4 L2879.3 906.1 L2882.1 905.7 L2885 905.4 L2887.8 905.1 L2890.7 904.7 L2893.5 904.3 L2896.3 904 L2899.2 903.6 L2902 903.2 L2904.8 902.8 L2907.6 902.3 L2910.5 901.9 L2913.3 901.4 L2916.1 901 L2918.9 900.5 L2921.7 900 L2924.5 899.5 L2927.3 899 L2930.1 898.4 L2932.9 897.9 L2935.7 897.3 L2938.5 896.7 L2941.3 896.2 L2944.1 895.5 L2946.8 894.9 L2949.6 894.3 L2952.4 893.6 L2955.1 893 L2957.9 892.3 L2960.7 891.6 L2963.4 890.9 L2966.1 890.1 L2968.9 889.4 L2971.6 888.6 L2974.3 887.8 L2977.1 887 L2979.8 886.2 L2982.5 885.3 L2985.2 884.5 L2987.9 883.6 L2990.6 882.7 L2993.3 881.8 L2996 880.9 L2998.6 879.9 L3001.3 878.9 L3004 877.9 L3006.6 876.9 L3009.3 875.9 L3011.9 874.8 L3014.5 873.8 L3017.2 872.7 L3019.8 871.6 L3022.4 870.4 L3025 869.3 L3027.6 868.1 L3030.2 866.9 L3032.8 865.7 L3035.3 864.4 L3037.9 863.2 L3040.5 861.9 L3043 860.6 L3045.6 859.3 L3048.1 857.9 L3050.6 856.6 L3053.1 855.2 L3055.6 853.8 L3058.1 852.4 L3060.6 851 L3063.1 849.5 L3065.6 848.1 L3068 846.6 L3070.5 845.1 L3072.9 843.6 L3075.4 842.1 L3077.8 840.6 L3080.2 839 L3082.6 837.5 L3085 835.9 L3087.4 834.4 L3089.8 832.8 L3092.2 831.2 L3094.6 829.6 L3097 828 L3099.3 826.4 L3101.7 824.8 L3104 823.2 L3106.3 821.5 L3108.7 819.9 L3111 818.3 L3113.3 816.6 L3114.3 815.9 L3109.2 808.7 L3108.2 809.5 L3105.9 811.1 L3103.6 812.7 L3101.3 814.3 L3099 815.9 L3096.7 817.6 L3094.3 819.2 L3092 820.7 L3089.7 822.3 L3087.3 823.9 L3085 825.5 L3082.6 827 L3080.2 828.6 L3077.9 830.1 L3075.5 831.6 L3073.1 833.1 L3070.7 834.6 L3068.3 836.1 L3065.9 837.6 L3063.5 839.1 L3061.1 840.5 L3058.6 841.9 L3056.2 843.3 L3053.8 844.7 L3051.3 846.1 L3048.9 847.5 L3046.4 848.8 L3043.9 850.2 L3041.5 851.5 L3039 852.8 L3036.5 854 L3034 855.3 L3031.5 856.5 L3029 857.7 L3026.5 858.9 L3023.9 860.1 L3021.4 861.2 L3018.9 862.4 L3016.3 863.5 L3013.8 864.6 L3011.2 865.6 L3008.6 866.7 L3006 867.7 L3003.4 868.7 L3000.9 869.7 L2998.3 870.7 L2995.6 871.6 L2993 872.6 L2990.4 873.5 L2987.8 874.4 L2985.1 875.2 L2982.5 876.1 L2979.9 876.9 L2977.2 877.8 L2974.5 878.6 L2971.9 879.4 L2969.2 880.1 L2966.5 880.9 L2963.8 881.6 L2961.1 882.3 L2958.5 883.1 L2955.7 883.7 L2953 884.4 L2950.3 885.1 L2947.6 885.7 L2944.9 886.3 L2942.2 887 L2939.4 887.6 L2936.7 888.1 L2934 888.7 L2931.2 889.3 L2928.5 889.8 L2925.7 890.3 L2922.9 890.8 L2920.2 891.3 L2917.4 891.8 L2914.6 892.3 L2911.9 892.7 L2909.1 893.2 L2906.3 893.6 L2903.5 894 L2900.7 894.5 L2897.9 894.9 L2895.1 895.2 L2892.3 895.6 L2889.5 896 L2886.7 896.3 L2883.9 896.7 L2881.1 897 L2878.3 897.3 L2875.5 897.6 L2872.7 897.9 L2869.9 898.2 L2867 898.5 L2864.2 898.8 L2861.4 899 L2858.6 899.3 L2855.7 899.5 L2852.9 899.7 L2850.1 900 L2847.2 900.2 L2844.4 900.4 L2841.5 900.6 L2838.7 900.8 L2835.9 900.9 L2833 901.1 L2830.2 901.3 L2827.3 901.4 L2824.5 901.6 L2821.7 901.7 L2818.8 901.9 L2816 902 L2813.1 902.1 L2810.3 902.3 L2807.4 902.4 L2804.6 902.5 L2801.8 902.6 L2798.9 902.7 L2796.1 902.8 L2793.2 902.9 L2790.4 903 L2787.5 903 L2784.7 903.1 L2781.9 903.2 L2779 903.2 L2776.2 903.3 L2773.4 903.4 L2770.5 903.4 L2767.7 903.5 L2764.9 903.5 L2762 903.6 L2759.2 903.6 L2756.4 903.7 L2753.6 903.7 L2750.7 903.7 L2747.9 903.8 L2745.1 903.8 L2742.3 903.9 L2739.5 903.9 L2736.7 903.9 L2733.9 904 L2731 904 L2728.2 904 L2725.4 904.1 L2722.7 904.1 L2719.9 904.1 L2717.1 904.1 L2714.3 904.2 L2711.5 904.2 L2708.7 904.3 L2706 904.3 L2703.2 904.3 L2700.4 904.4 L2697.7 904.4 L2694.9 904.4 L2692.1 904.5Z" fill="#fff"/>
<path d="M0 0 L-19.5 -19 L-32.5 -19 L-12.5 -1 L-12.5 1 L-32.5 19 L-19.5 19 Z" fill="#fff" transform="translate(3119.91 806.48) rotate(-35.76)"/>
<path d="M2692.1 1287.5 L2694.9 1287.6 L2697.7 1287.6 L2700.4 1287.6 L2703.2 1287.7 L2706 1287.7 L2708.7 1287.7 L2711.5 1287.8 L2714.3 1287.8 L2717.1 1287.9 L2719.9 1287.9 L2722.7 1287.9 L2725.4 1287.9 L2728.2 1288 L2731 1288 L2733.9 1288 L2736.7 1288.1 L2739.5 1288.1 L2742.3 1288.1 L2745.1 1288.2 L2747.9 1288.2 L2750.7 1288.3 L2753.6 1288.3 L2756.4 1288.3 L2759.2 1288.4 L2762 1288.4 L2764.9 1288.5 L2767.7 1288.5 L2770.5 1288.6 L2773.4 1288.6 L2776.2 1288.7 L2779 1288.8 L2781.9 1288.8 L2784.7 1288.9 L2787.5 1289 L2790.4 1289 L2793.2 1289.1 L2796.1 1289.2 L2798.9 1289.3 L2801.8 1289.4 L2804.6 1289.5 L2807.4 1289.6 L2810.3 1289.7 L2813.1 1289.9 L2816 1290 L2818.8 1290.1 L2821.7 1290.3 L2824.5 1290.4 L2827.3 1290.6 L2830.2 1290.7 L2833 1290.9 L2835.9 1291.1 L2838.7 1291.2 L2841.5 1291.4 L2844.4 1291.6 L2847.2 1291.8 L2850.1 1292 L2852.9 1292.3 L2855.7 1292.5 L2858.6 1292.7 L2861.4 1293 L2864.2 1293.2 L2867 1293.5 L2869.9 1293.8 L2872.7 1294.1 L2875.5 1294.4 L2878.3 1294.7 L2881.1 1295 L2883.9 1295.3 L2886.7 1295.7 L2889.5 1296 L2892.3 1296.4 L2895.1 1296.8 L2897.9 1297.1 L2900.7 1297.5 L2903.5 1298 L2906.3 1298.4 L2909.1 1298.8 L2911.9 1299.3 L2914.6 1299.7 L2917.4 1300.2 L2920.2 1300.7 L2922.9 1301.2 L2925.7 1301.7 L2928.5 1302.2 L2931.2 1302.7 L2934 1303.3 L2936.7 1303.9 L2939.4 1304.4 L2942.2 1305 L2944.9 1305.7 L2947.6 1306.3 L2950.3 1306.9 L2953 1307.6 L2955.7 1308.3 L2958.5 1308.9 L2961.1 1309.7 L2963.8 1310.4 L2966.5 1311.1 L2969.2 1311.9 L2971.9 1312.6 L2974.5 1313.4 L2977.2 1314.2 L2979.9 1315.1 L2982.5 1315.9 L2985.1 1316.8 L2987.8 1317.6 L2990.4 1318.5 L2993 1319.4 L2995.6 1320.4 L2998.3 1321.3 L3000.9 1322.3 L3003.4 1323.3 L3006 1324.3 L3008.6 1325.3 L3011.2 1326.4 L3013.8 1327.4 L3016.3 1328.5 L3018.9 1329.6 L3021.4 1330.8 L3023.9 1331.9 L3026.5 1333.1 L3029 1334.3 L3031.5 1335.5 L3034 1336.7 L3036.5 1338 L3039 1339.2 L3041.5 1340.5 L3043.9 1341.8 L3046.4 1343.2 L3048.9 1344.5 L3051.3 1345.9 L3053.8 1347.3 L3056.2 1348.7 L3058.6 1350.1 L3061.1 1351.5 L3063.5 1352.9 L3065.9 1354.4 L3068.3 1355.9 L3070.7 1357.4 L3073.1 1358.9 L3075.5 1360.4 L3077.9 1361.9 L3080.2 1363.4 L3082.6 1365 L3085 1366.5 L3087.3 1368.1 L3089.7 1369.7 L3092 1371.3 L3094.3 1372.8 L3096.7 1374.4 L3099 1376.1 L3101.3 1377.7 L3103.6 1379.3 L3105.9 1380.9 L3108.2 1382.5 L3109.2 1383.3 L3114.3 1376.1 L3113.3 1375.4 L3111 1373.7 L3108.7 1372.1 L3106.3 1370.5 L3104 1368.8 L3101.7 1367.2 L3099.3 1365.6 L3097 1364 L3094.6 1362.4 L3092.2 1360.8 L3089.8 1359.2 L3087.4 1357.6 L3085 1356.1 L3082.6 1354.5 L3080.2 1353 L3077.8 1351.4 L3075.4 1349.9 L3072.9 1348.4 L3070.5 1346.9 L3068 1345.4 L3065.6 1343.9 L3063.1 1342.5 L3060.6 1341 L3058.1 1339.6 L3055.6 1338.2 L3053.1 1336.8 L3050.6 1335.4 L3048.1 1334.1 L3045.6 1332.7 L3043 1331.4 L3040.5 1330.1 L3037.9 1328.8 L3035.3 1327.6 L3032.8 1326.3 L3030.2 1325.1 L3027.6 1323.9 L3025 1322.7 L3022.4 1321.6 L3019.8 1320.4 L3017.2 1319.3 L3014.5 1318.2 L3011.9 1317.2 L3009.3 1316.1 L3006.6 1315.1 L3004 1314.1 L3001.3 1313.1 L2998.6 1312.1 L2996 1311.1 L2993.3 1310.2 L2990.6 1309.3 L2987.9 1308.4 L2985.2 1307.5 L2982.5 1306.7 L2979.8 1305.8 L2977.1 1305 L2974.3 1304.2 L2971.6 1303.4 L2968.9 1302.6 L2966.1 1301.9 L2963.4 1301.1 L2960.7 1300.4 L2957.9 1299.7 L2955.1 1299 L2952.4 1298.4 L2949.6 1297.7 L2946.8 1297.1 L2944.1 1296.5 L2941.3 1295.8 L2938.5 1295.3 L2935.7 1294.7 L2932.9 1294.1 L2930.1 1293.6 L2927.3 1293 L2924.5 1292.5 L2921.7 1292 L2918.9 1291.5 L2916.1 1291 L2913.3 1290.6 L2910.5 1290.1 L2907.6 1289.7 L2904.8 1289.2 L2902 1288.8 L2899.2 1288.4 L2896.3 1288 L2893.5 1287.7 L2890.7 1287.3 L2887.8 1286.9 L2885 1286.6 L2882.1 1286.3 L2879.3 1285.9 L2876.4 1285.6 L2873.6 1285.3 L2870.7 1285 L2867.9 1284.8 L2865 1284.5 L2862.2 1284.2 L2859.3 1284 L2856.5 1283.7 L2853.6 1283.5 L2850.7 1283.3 L2847.9 1283.1 L2845 1282.8 L2842.1 1282.7 L2839.3 1282.5 L2836.4 1282.3 L2833.6 1282.1 L2830.7 1281.9 L2827.8 1281.8 L2825 1281.6 L2822.1 1281.5 L2819.2 1281.3 L2816.4 1281.2 L2813.5 1281.1 L2810.7 1280.9 L2807.8 1280.8 L2804.9 1280.7 L2802.1 1280.6 L2799.2 1280.5 L2796.4 1280.4 L2793.5 1280.3 L2790.6 1280.3 L2787.8 1280.2 L2784.9 1280.1 L2782.1 1280 L2779.2 1280 L2776.4 1279.9 L2773.5 1279.8 L2770.7 1279.8 L2767.9 1279.7 L2765 1279.7 L2762.2 1279.6 L2759.3 1279.6 L2756.5 1279.5 L2753.7 1279.5 L2750.9 1279.5 L2748 1279.4 L2745.2 1279.4 L2742.4 1279.3 L2739.6 1279.3 L2736.8 1279.3 L2734 1279.2 L2731.1 1279.2 L2728.3 1279.2 L2725.5 1279.1 L2722.8 1279.1 L2720 1279.1 L2717.2 1279.1 L2714.4 1279 L2711.6 1279 L2708.8 1278.9 L2706.1 1278.9 L2703.3 1278.9 L2700.5 1278.8 L2697.8 1278.8 L2695 1278.8 L2692.3 1278.7Z" fill="#fff"/>
<path d="M0 0 L-19.5 -19 L-32.5 -19 L-12.5 -1 L-12.5 1 L-32.5 19 L-19.5 19 Z" fill="#fff" transform="translate(3119.91 1385.52) rotate(35.76)"/>
<path d="M2697.9 981.9 L2700.7 981.9 L2703.5 981.9 L2706.3 981.9 L2709.2 981.9 L2712 981.9 L2714.8 981.9 L2717.7 981.9 L2720.5 981.9 L2723.4 981.8 L2726.3 981.8 L2729.1 981.8 L2732 981.8 L2734.9 981.8 L2737.7 981.8 L2740.6 981.8 L2743.5 981.8 L2746.4 981.8 L2749.2 981.7 L2752.1 981.7 L2755 981.7 L2757.9 981.7 L2760.8 981.6 L2763.7 981.6 L2766.6 981.5 L2769.5 981.5 L2772.4 981.5 L2775.3 981.4 L2778.2 981.4 L2781.1 981.3 L2784 981.2 L2786.9 981.2 L2789.8 981.1 L2792.7 981 L2795.7 980.9 L2798.6 980.9 L2801.5 980.8 L2804.4 980.7 L2807.3 980.6 L2810.3 980.5 L2813.2 980.4 L2816.1 980.2 L2819 980.1 L2822 980 L2824.9 979.9 L2827.8 979.7 L2830.7 979.6 L2833.7 979.4 L2836.6 979.3 L2839.5 979.1 L2842.4 978.9 L2845.4 978.7 L2848.3 978.5 L2851.2 978.4 L2854.1 978.1 L2857.1 977.9 L2860 977.7 L2862.9 977.5 L2865.8 977.3 L2868.7 977 L2871.7 976.8 L2874.6 976.5 L2877.5 976.2 L2880.4 975.9 L2883.3 975.7 L2886.3 975.4 L2889.2 975.1 L2892.1 974.7 L2895 974.4 L2897.9 974.1 L2900.8 973.7 L2903.7 973.4 L2906.6 973 L2909.5 972.6 L2912.4 972.2 L2915.3 971.8 L2918.2 971.4 L2921.1 971 L2924 970.6 L2926.9 970.1 L2929.8 969.7 L2932.6 969.2 L2935.5 968.7 L2938.4 968.3 L2941.3 967.8 L2944.1 967.2 L2947 966.7 L2949.9 966.2 L2952.7 965.6 L2955.6 965.1 L2958.4 964.5 L2961.3 963.9 L2964.1 963.3 L2967 962.7 L2969.8 962 L2972.7 961.4 L2975.5 960.7 L2978.3 960.1 L2981.1 959.4 L2984 958.7 L2986.8 958 L2989.6 957.2 L2992.4 956.5 L2995.2 955.7 L2998 955 L3000.8 954.2 L3003.6 953.4 L3006.3 952.6 L3009.1 951.7 L3011.9 950.9 L3014.7 950 L3017.4 949.1 L3020.2 948.2 L3022.9 947.3 L3025.7 946.4 L3028.4 945.4 L3031.1 944.5 L3033.9 943.5 L3036.6 942.5 L3039.3 941.5 L3042 940.4 L3044.7 939.4 L3047.4 938.3 L3050.1 937.2 L3052.8 936.1 L3055.4 935 L3058.1 933.9 L3060.8 932.7 L3063.4 931.5 L3066.1 930.3 L3068.7 929.1 L3071.3 927.9 L3074 926.6 L3076.6 925.4 L3079.2 924.1 L3081.8 922.8 L3084.4 921.4 L3087 920.1 L3089.6 918.7 L3092.1 917.3 L3094.7 915.9 L3097.2 914.5 L3099.8 913 L3102.3 911.5 L3104.9 910 L3107.4 908.5 L3109.9 907 L3112.4 905.4 L3114.9 903.9 L3117.4 902.3 L3119.9 900.6 L3122.3 899 L3124.8 897.3 L3127.2 895.6 L3129.7 893.9 L3132.1 892.2 L3133.6 891.1 L3128.5 884 L3127 885 L3124.6 886.7 L3122.2 888.4 L3119.8 890.1 L3117.4 891.7 L3115 893.3 L3112.6 894.9 L3110.2 896.4 L3107.7 898 L3105.3 899.5 L3102.8 901 L3100.4 902.5 L3097.9 903.9 L3095.4 905.4 L3092.9 906.8 L3090.4 908.2 L3087.9 909.6 L3085.4 910.9 L3082.9 912.3 L3080.3 913.6 L3077.8 914.9 L3075.3 916.2 L3072.7 917.5 L3070.1 918.7 L3067.6 919.9 L3065 921.1 L3062.4 922.3 L3059.8 923.5 L3057.2 924.7 L3054.6 925.8 L3052 926.9 L3049.4 928 L3046.8 929.1 L3044.1 930.2 L3041.5 931.2 L3038.8 932.2 L3036.2 933.2 L3033.5 934.2 L3030.8 935.2 L3028.2 936.2 L3025.5 937.1 L3022.8 938.1 L3020.1 939 L3017.4 939.9 L3014.7 940.8 L3012 941.6 L3009.3 942.5 L3006.6 943.3 L3003.8 944.1 L3001.1 944.9 L2998.4 945.7 L2995.6 946.5 L2992.9 947.3 L2990.1 948 L2987.4 948.7 L2984.6 949.4 L2981.8 950.2 L2979 950.8 L2976.3 951.5 L2973.5 952.2 L2970.7 952.8 L2967.9 953.5 L2965.1 954.1 L2962.3 954.7 L2959.5 955.3 L2956.7 955.9 L2953.9 956.4 L2951.1 957 L2948.2 957.5 L2945.4 958.1 L2942.6 958.6 L2939.7 959.1 L2936.9 959.6 L2934.1 960.1 L2931.2 960.5 L2928.4 961 L2925.5 961.4 L2922.7 961.9 L2919.8 962.3 L2917 962.7 L2914.1 963.1 L2911.2 963.5 L2908.4 963.9 L2905.5 964.3 L2902.6 964.6 L2899.8 965 L2896.9 965.3 L2894 965.7 L2891.1 966 L2888.2 966.3 L2885.3 966.6 L2882.5 966.9 L2879.6 967.2 L2876.7 967.5 L2873.8 967.7 L2870.9 968 L2868 968.2 L2865.1 968.5 L2862.2 968.7 L2859.3 968.9 L2856.4 969.2 L2853.5 969.4 L2850.6 969.6 L2847.7 969.8 L2844.8 970 L2841.9 970.1 L2839 970.3 L2836.1 970.5 L2833.2 970.6 L2830.3 970.8 L2827.4 970.9 L2824.5 971.1 L2821.6 971.2 L2818.7 971.3 L2815.7 971.5 L2812.8 971.6 L2809.9 971.7 L2807 971.8 L2804.1 971.9 L2801.2 972 L2798.3 972.1 L2795.4 972.1 L2792.5 972.2 L2789.6 972.3 L2786.7 972.4 L2783.8 972.4 L2780.9 972.5 L2778 972.6 L2775.1 972.6 L2772.2 972.7 L2769.4 972.7 L2766.5 972.7 L2763.6 972.8 L2760.7 972.8 L2757.8 972.9 L2754.9 972.9 L2752 972.9 L2749.2 972.9 L2746.3 973 L2743.4 973 L2740.5 973 L2737.7 973 L2734.8 973 L2732 973 L2729.1 973 L2726.2 973 L2723.4 973 L2720.5 973.1 L2717.7 973.1 L2714.8 973.1 L2712 973.1 L2709.2 973.1 L2706.3 973.1 L2703.5 973.1 L2700.7 973.1 L2697.8 973.1Z" fill="#fff"/>
<path d="M0 0 L-19.5 -19 L-32.5 -19 L-12.5 -1 L-12.5 1 L-32.5 19 L-19.5 19 Z" fill="#fff" transform="translate(3139.05 881.54) rotate(-36.88)"/>
<path d="M2697.8 1218.9 L2700.7 1218.9 L2703.5 1218.9 L2706.3 1218.9 L2709.2 1218.9 L2712 1218.9 L2714.8 1218.9 L2717.7 1218.9 L2720.5 1218.9 L2723.4 1219 L2726.2 1219 L2729.1 1219 L2732 1219 L2734.8 1219 L2737.7 1219 L2740.5 1219 L2743.4 1219 L2746.3 1219 L2749.2 1219.1 L2752 1219.1 L2754.9 1219.1 L2757.8 1219.1 L2760.7 1219.2 L2763.6 1219.2 L2766.5 1219.3 L2769.4 1219.3 L2772.2 1219.3 L2775.1 1219.4 L2778 1219.4 L2780.9 1219.5 L2783.8 1219.6 L2786.7 1219.6 L2789.6 1219.7 L2792.5 1219.8 L2795.4 1219.9 L2798.3 1219.9 L2801.2 1220 L2804.1 1220.1 L2807 1220.2 L2809.9 1220.3 L2812.8 1220.4 L2815.7 1220.5 L2818.7 1220.7 L2821.6 1220.8 L2824.5 1220.9 L2827.4 1221.1 L2830.3 1221.2 L2833.2 1221.4 L2836.1 1221.5 L2839 1221.7 L2841.9 1221.9 L2844.8 1222 L2847.7 1222.2 L2850.6 1222.4 L2853.5 1222.6 L2856.4 1222.8 L2859.3 1223.1 L2862.2 1223.3 L2865.1 1223.5 L2868 1223.8 L2870.9 1224 L2873.8 1224.3 L2876.7 1224.5 L2879.6 1224.8 L2882.5 1225.1 L2885.3 1225.4 L2888.2 1225.7 L2891.1 1226 L2894 1226.3 L2896.9 1226.7 L2899.8 1227 L2902.6 1227.4 L2905.5 1227.7 L2908.4 1228.1 L2911.2 1228.5 L2914.1 1228.9 L2917 1229.3 L2919.8 1229.7 L2922.7 1230.1 L2925.5 1230.6 L2928.4 1231 L2931.2 1231.5 L2934.1 1231.9 L2936.9 1232.4 L2939.7 1232.9 L2942.6 1233.4 L2945.4 1233.9 L2948.2 1234.5 L2951.1 1235 L2953.9 1235.6 L2956.7 1236.1 L2959.5 1236.7 L2962.3 1237.3 L2965.1 1237.9 L2967.9 1238.5 L2970.7 1239.2 L2973.5 1239.8 L2976.3 1240.5 L2979 1241.2 L2981.8 1241.8 L2984.6 1242.6 L2987.4 1243.3 L2990.1 1244 L2992.9 1244.7 L2995.6 1245.5 L2998.4 1246.3 L3001.1 1247.1 L3003.8 1247.9 L3006.6 1248.7 L3009.3 1249.5 L3012 1250.4 L3014.7 1251.2 L3017.4 1252.1 L3020.1 1253 L3022.8 1253.9 L3025.5 1254.9 L3028.2 1255.8 L3030.8 1256.8 L3033.5 1257.8 L3036.2 1258.8 L3038.8 1259.8 L3041.5 1260.8 L3044.1 1261.8 L3046.8 1262.9 L3049.4 1264 L3052 1265.1 L3054.6 1266.2 L3057.2 1267.3 L3059.8 1268.5 L3062.4 1269.7 L3065 1270.9 L3067.6 1272.1 L3070.1 1273.3 L3072.7 1274.5 L3075.3 1275.8 L3077.8 1277.1 L3080.3 1278.4 L3082.9 1279.7 L3085.4 1281.1 L3087.9 1282.4 L3090.4 1283.8 L3092.9 1285.2 L3095.4 1286.6 L3097.9 1288.1 L3100.4 1289.5 L3102.8 1291 L3105.3 1292.5 L3107.7 1294 L3110.2 1295.6 L3112.6 1297.1 L3115 1298.7 L3117.4 1300.3 L3119.8 1301.9 L3122.2 1303.6 L3124.6 1305.3 L3127 1307 L3128.5 1308 L3133.6 1300.9 L3132.1 1299.8 L3129.7 1298.1 L3127.2 1296.4 L3124.8 1294.7 L3122.3 1293 L3119.9 1291.4 L3117.4 1289.7 L3114.9 1288.1 L3112.4 1286.6 L3109.9 1285 L3107.4 1283.5 L3104.9 1282 L3102.3 1280.5 L3099.8 1279 L3097.2 1277.5 L3094.7 1276.1 L3092.1 1274.7 L3089.6 1273.3 L3087 1271.9 L3084.4 1270.6 L3081.8 1269.2 L3079.2 1267.9 L3076.6 1266.6 L3074 1265.4 L3071.3 1264.1 L3068.7 1262.9 L3066.1 1261.7 L3063.4 1260.5 L3060.8 1259.3 L3058.1 1258.1 L3055.4 1257 L3052.8 1255.9 L3050.1 1254.8 L3047.4 1253.7 L3044.7 1252.6 L3042 1251.6 L3039.3 1250.5 L3036.6 1249.5 L3033.9 1248.5 L3031.1 1247.5 L3028.4 1246.6 L3025.7 1245.6 L3022.9 1244.7 L3020.2 1243.8 L3017.4 1242.9 L3014.7 1242 L3011.9 1241.1 L3009.1 1240.3 L3006.3 1239.4 L3003.6 1238.6 L3000.8 1237.8 L2998 1237 L2995.2 1236.3 L2992.4 1235.5 L2989.6 1234.8 L2986.8 1234 L2984 1233.3 L2981.1 1232.6 L2978.3 1231.9 L2975.5 1231.3 L2972.7 1230.6 L2969.8 1230 L2967 1229.3 L2964.1 1228.7 L2961.3 1228.1 L2958.4 1227.5 L2955.6 1226.9 L2952.7 1226.4 L2949.9 1225.8 L2947 1225.3 L2944.1 1224.8 L2941.3 1224.2 L2938.4 1223.7 L2935.5 1223.3 L2932.6 1222.8 L2929.8 1222.3 L2926.9 1221.9 L2924 1221.4 L2921.1 1221 L2918.2 1220.6 L2915.3 1220.2 L2912.4 1219.8 L2909.5 1219.4 L2906.6 1219 L2903.7 1218.6 L2900.8 1218.3 L2897.9 1217.9 L2895 1217.6 L2892.1 1217.3 L2889.2 1216.9 L2886.3 1216.6 L2883.3 1216.3 L2880.4 1216.1 L2877.5 1215.8 L2874.6 1215.5 L2871.7 1215.2 L2868.7 1215 L2865.8 1214.7 L2862.9 1214.5 L2860 1214.3 L2857.1 1214.1 L2854.1 1213.9 L2851.2 1213.6 L2848.3 1213.5 L2845.4 1213.3 L2842.4 1213.1 L2839.5 1212.9 L2836.6 1212.7 L2833.7 1212.6 L2830.7 1212.4 L2827.8 1212.3 L2824.9 1212.1 L2822 1212 L2819 1211.9 L2816.1 1211.8 L2813.2 1211.6 L2810.3 1211.5 L2807.3 1211.4 L2804.4 1211.3 L2801.5 1211.2 L2798.6 1211.1 L2795.7 1211.1 L2792.7 1211 L2789.8 1210.9 L2786.9 1210.8 L2784 1210.8 L2781.1 1210.7 L2778.2 1210.6 L2775.3 1210.6 L2772.4 1210.5 L2769.5 1210.5 L2766.6 1210.5 L2763.7 1210.4 L2760.8 1210.4 L2757.9 1210.3 L2755 1210.3 L2752.1 1210.3 L2749.2 1210.3 L2746.4 1210.2 L2743.5 1210.2 L2740.6 1210.2 L2737.7 1210.2 L2734.9 1210.2 L2732 1210.2 L2729.1 1210.2 L2726.3 1210.2 L2723.4 1210.2 L2720.5 1210.1 L2717.7 1210.1 L2714.8 1210.1 L2712 1210.1 L2709.2 1210.1 L2706.3 1210.1 L2703.5 1210.1 L2700.7 1210.1 L2697.9 1210.1Z" fill="#fff"/>
<path d="M0 0 L-19.5 -19 L-32.5 -19 L-12.5 -1 L-12.5 1 L-32.5 19 L-19.5 19 Z" fill="#fff" transform="translate(3139.05 1310.46) rotate(36.88)"/>
<path d="M2699.3 1044.3 L2702.2 1044.3 L2705.1 1044.2 L2708 1044.1 L2711 1044.1 L2713.9 1044 L2716.8 1044 L2719.7 1043.9 L2722.7 1043.9 L2725.6 1043.9 L2728.5 1043.8 L2731.5 1043.8 L2734.4 1043.8 L2737.4 1043.7 L2740.3 1043.7 L2743.3 1043.7 L2746.2 1043.6 L2749.2 1043.6 L2752.1 1043.6 L2755.1 1043.5 L2758 1043.5 L2761 1043.5 L2763.9 1043.5 L2766.9 1043.4 L2769.9 1043.4 L2772.8 1043.4 L2775.8 1043.3 L2778.8 1043.3 L2781.7 1043.2 L2784.7 1043.2 L2787.7 1043.2 L2790.6 1043.1 L2793.6 1043.1 L2796.6 1043 L2799.6 1043 L2802.5 1042.9 L2805.5 1042.9 L2808.5 1042.8 L2811.5 1042.7 L2814.4 1042.7 L2817.4 1042.6 L2820.4 1042.5 L2823.4 1042.4 L2826.4 1042.4 L2829.3 1042.3 L2832.3 1042.2 L2835.3 1042.1 L2838.3 1042 L2841.2 1041.9 L2844.2 1041.7 L2847.2 1041.6 L2850.2 1041.5 L2853.2 1041.4 L2856.1 1041.2 L2859.1 1041.1 L2862.1 1040.9 L2865.1 1040.8 L2868.1 1040.6 L2871 1040.4 L2874 1040.2 L2877 1040.1 L2880 1039.9 L2882.9 1039.7 L2885.9 1039.4 L2888.9 1039.2 L2891.8 1039 L2894.8 1038.7 L2897.8 1038.5 L2900.7 1038.2 L2903.7 1038 L2906.7 1037.7 L2909.6 1037.4 L2912.6 1037.1 L2915.6 1036.8 L2918.5 1036.5 L2921.5 1036.1 L2924.4 1035.8 L2927.4 1035.5 L2930.3 1035.1 L2933.3 1034.7 L2936.2 1034.3 L2939.2 1033.9 L2942.1 1033.5 L2945.1 1033.1 L2948 1032.7 L2950.9 1032.2 L2953.9 1031.8 L2956.8 1031.3 L2959.7 1030.8 L2962.6 1030.3 L2965.6 1029.8 L2968.5 1029.3 L2971.4 1028.7 L2974.3 1028.2 L2977.2 1027.6 L2980.1 1027 L2983.1 1026.4 L2986 1025.8 L2988.9 1025.2 L2991.8 1024.6 L2994.6 1023.9 L2997.5 1023.2 L3000.4 1022.5 L3003.3 1021.8 L3006.2 1021.1 L3009.1 1020.4 L3011.9 1019.6 L3014.8 1018.8 L3017.7 1018.1 L3020.5 1017.3 L3023.4 1016.4 L3026.2 1015.6 L3029.1 1014.7 L3031.9 1013.9 L3034.8 1013 L3037.6 1012.1 L3040.4 1011.1 L3043.3 1010.2 L3046.1 1009.2 L3048.9 1008.2 L3051.7 1007.2 L3054.5 1006.2 L3057.3 1005.2 L3060.1 1004.1 L3062.9 1003.1 L3065.7 1002 L3068.5 1000.9 L3071.2 999.8 L3074 998.7 L3076.8 997.5 L3079.5 996.4 L3082.3 995.2 L3085 994 L3087.8 992.8 L3090.5 991.6 L3093.2 990.4 L3096 989.1 L3098.7 987.9 L3101.4 986.6 L3104.1 985.4 L3106.8 984.1 L3109.5 982.8 L3112.2 981.5 L3114.9 980.1 L3117.5 978.8 L3120.2 977.4 L3122.9 976.1 L3125.5 974.7 L3128.2 973.3 L3130.8 971.9 L3133.5 970.5 L3136.1 969.1 L3138.7 967.7 L3141.3 966.3 L3143.9 964.8 L3146.5 963.4 L3148.2 962.5 L3143.8 954.8 L3142.2 955.7 L3139.7 957.1 L3137.1 958.6 L3134.5 960 L3131.9 961.4 L3129.3 962.8 L3126.7 964.2 L3124.1 965.5 L3121.5 966.9 L3118.8 968.3 L3116.2 969.6 L3113.6 970.9 L3110.9 972.2 L3108.3 973.6 L3105.6 974.8 L3103 976.1 L3100.3 977.4 L3097.7 978.7 L3095 979.9 L3092.3 981.1 L3089.6 982.4 L3086.9 983.6 L3084.2 984.8 L3081.5 985.9 L3078.8 987.1 L3076.1 988.3 L3073.4 989.4 L3070.7 990.5 L3068 991.6 L3065.2 992.7 L3062.5 993.8 L3059.7 994.9 L3057 995.9 L3054.3 996.9 L3051.5 997.9 L3048.7 998.9 L3046 999.9 L3043.2 1000.9 L3040.4 1001.8 L3037.7 1002.8 L3034.9 1003.7 L3032.1 1004.6 L3029.3 1005.5 L3026.5 1006.3 L3023.7 1007.2 L3020.9 1008 L3018.1 1008.8 L3015.3 1009.6 L3012.5 1010.4 L3009.7 1011.1 L3006.8 1011.9 L3004 1012.6 L3001.2 1013.3 L2998.4 1014 L2995.5 1014.7 L2992.7 1015.3 L2989.8 1016 L2987 1016.6 L2984.1 1017.2 L2981.3 1017.8 L2978.4 1018.4 L2975.5 1019 L2972.7 1019.5 L2969.8 1020.1 L2966.9 1020.6 L2964 1021.1 L2961.2 1021.6 L2958.3 1022.1 L2955.4 1022.6 L2952.5 1023.1 L2949.6 1023.5 L2946.7 1024 L2943.8 1024.4 L2940.9 1024.8 L2938 1025.2 L2935.1 1025.6 L2932.2 1026 L2929.2 1026.4 L2926.3 1026.7 L2923.4 1027.1 L2920.5 1027.4 L2917.6 1027.7 L2914.6 1028 L2911.7 1028.3 L2908.8 1028.6 L2905.8 1028.9 L2902.9 1029.2 L2900 1029.5 L2897 1029.7 L2894.1 1030 L2891.1 1030.2 L2888.2 1030.4 L2885.3 1030.7 L2882.3 1030.9 L2879.4 1031.1 L2876.4 1031.3 L2873.5 1031.5 L2870.5 1031.6 L2867.6 1031.8 L2864.6 1032 L2861.6 1032.1 L2858.7 1032.3 L2855.7 1032.4 L2852.8 1032.6 L2849.8 1032.7 L2846.8 1032.8 L2843.9 1033 L2840.9 1033.1 L2838 1033.2 L2835 1033.3 L2832 1033.4 L2829.1 1033.5 L2826.1 1033.6 L2823.1 1033.6 L2820.2 1033.7 L2817.2 1033.8 L2814.2 1033.9 L2811.3 1033.9 L2808.3 1034 L2805.3 1034.1 L2802.4 1034.1 L2799.4 1034.2 L2796.4 1034.2 L2793.5 1034.3 L2790.5 1034.3 L2787.5 1034.4 L2784.6 1034.4 L2781.6 1034.4 L2778.6 1034.5 L2775.7 1034.5 L2772.7 1034.6 L2769.8 1034.6 L2766.8 1034.6 L2763.8 1034.7 L2760.9 1034.7 L2757.9 1034.7 L2755 1034.7 L2752 1034.8 L2749.1 1034.8 L2746.1 1034.8 L2743.2 1034.9 L2740.2 1034.9 L2737.3 1034.9 L2734.3 1035 L2731.4 1035 L2728.4 1035 L2725.5 1035.1 L2722.6 1035.1 L2719.6 1035.2 L2716.7 1035.2 L2713.7 1035.2 L2710.8 1035.3 L2707.9 1035.3 L2705 1035.4 L2702 1035.5 L2699.1 1035.5Z" fill="#fff"/>
<path d="M0 0 L-19.5 -19 L-32.5 -19 L-12.5 -1 L-12.5 1 L-32.5 19 L-19.5 19 Z" fill="#fff" transform="translate(3154.68 953.67) rotate(-29.78)"/>
<path d="M2699.1 1156.5 L2702 1156.5 L2705 1156.6 L2707.9 1156.7 L2710.8 1156.7 L2713.7 1156.8 L2716.7 1156.8 L2719.6 1156.8 L2722.6 1156.9 L2725.5 1156.9 L2728.4 1157 L2731.4 1157 L2734.3 1157 L2737.3 1157.1 L2740.2 1157.1 L2743.2 1157.1 L2746.1 1157.2 L2749.1 1157.2 L2752 1157.2 L2755 1157.3 L2757.9 1157.3 L2760.9 1157.3 L2763.8 1157.3 L2766.8 1157.4 L2769.8 1157.4 L2772.7 1157.4 L2775.7 1157.5 L2778.6 1157.5 L2781.6 1157.6 L2784.6 1157.6 L2787.5 1157.6 L2790.5 1157.7 L2793.5 1157.7 L2796.4 1157.8 L2799.4 1157.8 L2802.4 1157.9 L2805.3 1157.9 L2808.3 1158 L2811.3 1158.1 L2814.2 1158.1 L2817.2 1158.2 L2820.2 1158.3 L2823.1 1158.4 L2826.1 1158.4 L2829.1 1158.5 L2832 1158.6 L2835 1158.7 L2838 1158.8 L2840.9 1158.9 L2843.9 1159 L2846.8 1159.2 L2849.8 1159.3 L2852.8 1159.4 L2855.7 1159.6 L2858.7 1159.7 L2861.6 1159.9 L2864.6 1160 L2867.6 1160.2 L2870.5 1160.4 L2873.5 1160.5 L2876.4 1160.7 L2879.4 1160.9 L2882.3 1161.1 L2885.3 1161.3 L2888.2 1161.6 L2891.1 1161.8 L2894.1 1162 L2897 1162.3 L2900 1162.5 L2902.9 1162.8 L2905.8 1163.1 L2908.8 1163.4 L2911.7 1163.7 L2914.6 1164 L2917.6 1164.3 L2920.5 1164.6 L2923.4 1164.9 L2926.3 1165.3 L2929.2 1165.6 L2932.2 1166 L2935.1 1166.4 L2938 1166.8 L2940.9 1167.2 L2943.8 1167.6 L2946.7 1168 L2949.6 1168.5 L2952.5 1168.9 L2955.4 1169.4 L2958.3 1169.9 L2961.2 1170.4 L2964 1170.9 L2966.9 1171.4 L2969.8 1171.9 L2972.7 1172.5 L2975.5 1173 L2978.4 1173.6 L2981.3 1174.2 L2984.1 1174.8 L2987 1175.4 L2989.8 1176 L2992.7 1176.7 L2995.5 1177.3 L2998.4 1178 L3001.2 1178.7 L3004 1179.4 L3006.8 1180.1 L3009.7 1180.9 L3012.5 1181.6 L3015.3 1182.4 L3018.1 1183.2 L3020.9 1184 L3023.7 1184.8 L3026.5 1185.7 L3029.3 1186.5 L3032.1 1187.4 L3034.9 1188.3 L3037.7 1189.2 L3040.4 1190.2 L3043.2 1191.1 L3046 1192.1 L3048.7 1193.1 L3051.5 1194.1 L3054.3 1195.1 L3057 1196.1 L3059.7 1197.1 L3062.5 1198.2 L3065.2 1199.3 L3068 1200.4 L3070.7 1201.5 L3073.4 1202.6 L3076.1 1203.7 L3078.8 1204.9 L3081.5 1206.1 L3084.2 1207.2 L3086.9 1208.4 L3089.6 1209.6 L3092.3 1210.9 L3095 1212.1 L3097.7 1213.3 L3100.3 1214.6 L3103 1215.9 L3105.6 1217.2 L3108.3 1218.4 L3110.9 1219.8 L3113.6 1221.1 L3116.2 1222.4 L3118.8 1223.7 L3121.5 1225.1 L3124.1 1226.5 L3126.7 1227.8 L3129.3 1229.2 L3131.9 1230.6 L3134.5 1232 L3137.1 1233.4 L3139.7 1234.9 L3142.2 1236.3 L3143.8 1237.2 L3148.2 1229.5 L3146.5 1228.6 L3143.9 1227.2 L3141.3 1225.7 L3138.7 1224.3 L3136.1 1222.9 L3133.5 1221.5 L3130.8 1220.1 L3128.2 1218.7 L3125.5 1217.3 L3122.9 1215.9 L3120.2 1214.6 L3117.5 1213.2 L3114.9 1211.9 L3112.2 1210.5 L3109.5 1209.2 L3106.8 1207.9 L3104.1 1206.6 L3101.4 1205.4 L3098.7 1204.1 L3096 1202.9 L3093.2 1201.6 L3090.5 1200.4 L3087.8 1199.2 L3085 1198 L3082.3 1196.8 L3079.5 1195.6 L3076.8 1194.5 L3074 1193.3 L3071.2 1192.2 L3068.5 1191.1 L3065.7 1190 L3062.9 1188.9 L3060.1 1187.9 L3057.3 1186.8 L3054.5 1185.8 L3051.7 1184.8 L3048.9 1183.8 L3046.1 1182.8 L3043.3 1181.8 L3040.4 1180.9 L3037.6 1179.9 L3034.8 1179 L3031.9 1178.1 L3029.1 1177.3 L3026.2 1176.4 L3023.4 1175.6 L3020.5 1174.7 L3017.7 1173.9 L3014.8 1173.2 L3011.9 1172.4 L3009.1 1171.6 L3006.2 1170.9 L3003.3 1170.2 L3000.4 1169.5 L2997.5 1168.8 L2994.6 1168.1 L2991.8 1167.4 L2988.9 1166.8 L2986 1166.2 L2983.1 1165.6 L2980.1 1165 L2977.2 1164.4 L2974.3 1163.8 L2971.4 1163.3 L2968.5 1162.7 L2965.6 1162.2 L2962.6 1161.7 L2959.7 1161.2 L2956.8 1160.7 L2953.9 1160.2 L2950.9 1159.8 L2948 1159.3 L2945.1 1158.9 L2942.1 1158.5 L2939.2 1158.1 L2936.2 1157.7 L2933.3 1157.3 L2930.3 1156.9 L2927.4 1156.5 L2924.4 1156.2 L2921.5 1155.9 L2918.5 1155.5 L2915.6 1155.2 L2912.6 1154.9 L2909.6 1154.6 L2906.7 1154.3 L2903.7 1154 L2900.7 1153.8 L2897.8 1153.5 L2894.8 1153.3 L2891.8 1153 L2888.9 1152.8 L2885.9 1152.6 L2882.9 1152.3 L2880 1152.1 L2877 1151.9 L2874 1151.8 L2871 1151.6 L2868.1 1151.4 L2865.1 1151.2 L2862.1 1151.1 L2859.1 1150.9 L2856.1 1150.8 L2853.2 1150.6 L2850.2 1150.5 L2847.2 1150.4 L2844.2 1150.3 L2841.2 1150.1 L2838.3 1150 L2835.3 1149.9 L2832.3 1149.8 L2829.3 1149.7 L2826.4 1149.6 L2823.4 1149.6 L2820.4 1149.5 L2817.4 1149.4 L2814.4 1149.3 L2811.5 1149.3 L2808.5 1149.2 L2805.5 1149.1 L2802.5 1149.1 L2799.6 1149 L2796.6 1149 L2793.6 1148.9 L2790.6 1148.9 L2787.7 1148.8 L2784.7 1148.8 L2781.7 1148.8 L2778.8 1148.7 L2775.8 1148.7 L2772.8 1148.6 L2769.9 1148.6 L2766.9 1148.6 L2763.9 1148.5 L2761 1148.5 L2758 1148.5 L2755.1 1148.5 L2752.1 1148.4 L2749.2 1148.4 L2746.2 1148.4 L2743.3 1148.3 L2740.3 1148.3 L2737.4 1148.3 L2734.4 1148.2 L2731.5 1148.2 L2728.5 1148.2 L2725.6 1148.1 L2722.7 1148.1 L2719.7 1148.1 L2716.8 1148 L2713.9 1148 L2711 1147.9 L2708 1147.9 L2705.1 1147.8 L2702.2 1147.7 L2699.3 1147.7Z" fill="#fff"/>
<path d="M0 0 L-19.5 -19 L-32.5 -19 L-12.5 -1 L-12.5 1 L-32.5 19 L-19.5 19 Z" fill="#fff" transform="translate(3154.68 1238.33) rotate(29.78)"/>
<path d="M2700 1096.3 H3155" stroke="#fff" stroke-width="8.8"/>
<path d="M0 0 L-19.5 -19 L-32.5 -19 L-12.5 -1 L-12.5 1 L-32.5 19 L-19.5 19 Z" fill="#fff" transform="translate(3163.7 1096.3) rotate(0)"/>
<path d="M1206.9 1096 L1235.5 1067.1 L1254.8 1067.1 L1226.2 1096 L1254.8 1124.9 L1235.5 1124.9 Z" fill="#AEE6FB"/>
<path d="M1236 1096 L1264.6 1067.1 L1283.9 1067.1 L1255.3 1096 L1283.9 1124.9 L1264.6 1124.9 Z" fill="#7FAFC4"/>
<path d="M1524.5 1096 L1553.1 1067.1 L1572.4 1067.1 L1543.8 1096 L1572.4 1124.9 L1553.1 1124.9 Z" fill="#AEE6FB"/>
<path d="M1553.6 1096 L1582.2 1067.1 L1601.5 1067.1 L1572.9 1096 L1601.5 1124.9 L1582.2 1124.9 Z" fill="#7FAFC4"/>
<path d="M2461.3 1096 L2432.7 1067.1 L2413.4 1067.1 L2442 1096 L2413.4 1124.9 L2432.7 1124.9 Z" fill="#AEE6FB"/>
<path d="M2432.2 1096 L2403.6 1067.1 L2384.3 1067.1 L2412.9 1096 L2384.3 1124.9 L2403.6 1124.9 Z" fill="#7FAFC4"/>
<path d="M2143.2 1096 L2114.6 1067.1 L2095.3 1067.1 L2123.9 1096 L2095.3 1124.9 L2114.6 1124.9 Z" fill="#AEE6FB"/>
<path d="M2114.1 1096 L2085.5 1067.1 L2066.2 1067.1 L2094.8 1096 L2066.2 1124.9 L2085.5 1124.9 Z" fill="#7FAFC4"/>
<ellipse cx="1071.3" cy="1096.1" rx="101.6" ry="410.7" fill="none" stroke="#fff" stroke-width="8.5"/>
<ellipse cx="2596.7" cy="1096.1" rx="101.6" ry="410.7" fill="none" stroke="#fff" stroke-width="8.5"/>
<ellipse cx="1404.6" cy="1095.4" rx="44.4" ry="181.6" fill="none" stroke="#fff" stroke-width="8.5"/>
<ellipse cx="2263.6" cy="1095.4" rx="44.4" ry="181.6" fill="none" stroke="#fff" stroke-width="8.5"/>
<circle cx="1833.4" cy="1096" r="167" fill="url(#glow)"/>
<g style="font-family:'Liberation Sans',sans-serif"><text x="1198.9" y="807.8" font-size="97" fill="#fff" textLength="409.4" lengthAdjust="spacingAndGlyphs" stroke="#fff" stroke-width="0.8" stroke-linejoin="round">Learning</text>
<text x="2115.7" y="805.2" font-size="97" fill="#fff" textLength="303" lengthAdjust="spacingAndGlyphs" stroke="#fff" stroke-width="0.8" stroke-linejoin="round">Action</text>
<text x="1273.3" y="1396.9" font-size="52.5" fill="#fff" textLength="264.5" lengthAdjust="spacingAndGlyphs" >Case-study</text>
<text x="1256.1" y="1464.2" font-size="51.3" fill="#7FADC4" textLength="293.3" lengthAdjust="spacingAndGlyphs" >e.g. Website</text>
<text x="1693" y="1396.9" font-size="52.5" fill="#fff" textLength="277.5" lengthAdjust="spacingAndGlyphs" >Practitioner</text>
<text x="2164.6" y="1394.2" font-size="52.5" fill="#fff" textLength="195.4" lengthAdjust="spacingAndGlyphs" >Patterns</text>
<text x="2171.7" y="1464.4" font-size="51.3" fill="#7FADC4" textLength="183.1" lengthAdjust="spacingAndGlyphs" >Design,</text>
<text x="2116.4" y="1526.8" font-size="51.3" fill="#7FADC4" textLength="291.7" lengthAdjust="spacingAndGlyphs" >Frameworks</text>
<text x="1013.1" y="1611.3" font-size="52.5" fill="#fff" textLength="110.3" lengthAdjust="spacingAndGlyphs" >Data</text>
<text x="817" y="1684.1" font-size="51.3" fill="#7FADC4" textLength="509.9" lengthAdjust="spacingAndGlyphs" >Links, Contributions,</text>
<text x="847.2" y="1746.8" font-size="51.3" fill="#7FADC4" textLength="445.8" lengthAdjust="spacingAndGlyphs" >Sensors, Feedback</text>
<text x="2482.5" y="1612.2" font-size="52.5" fill="#fff" textLength="210.7" lengthAdjust="spacingAndGlyphs" >Potential</text>
<text x="2293.5" y="1685.4" font-size="51.3" fill="#7FADC4" textLength="583" lengthAdjust="spacingAndGlyphs" >Evolution of Community</text>
<text x="2331.8" y="1747.4" font-size="51.3" fill="#7FADC4" textLength="507.2" lengthAdjust="spacingAndGlyphs" >(of Place, of Practice)</text></g>
</svg></body></html>
